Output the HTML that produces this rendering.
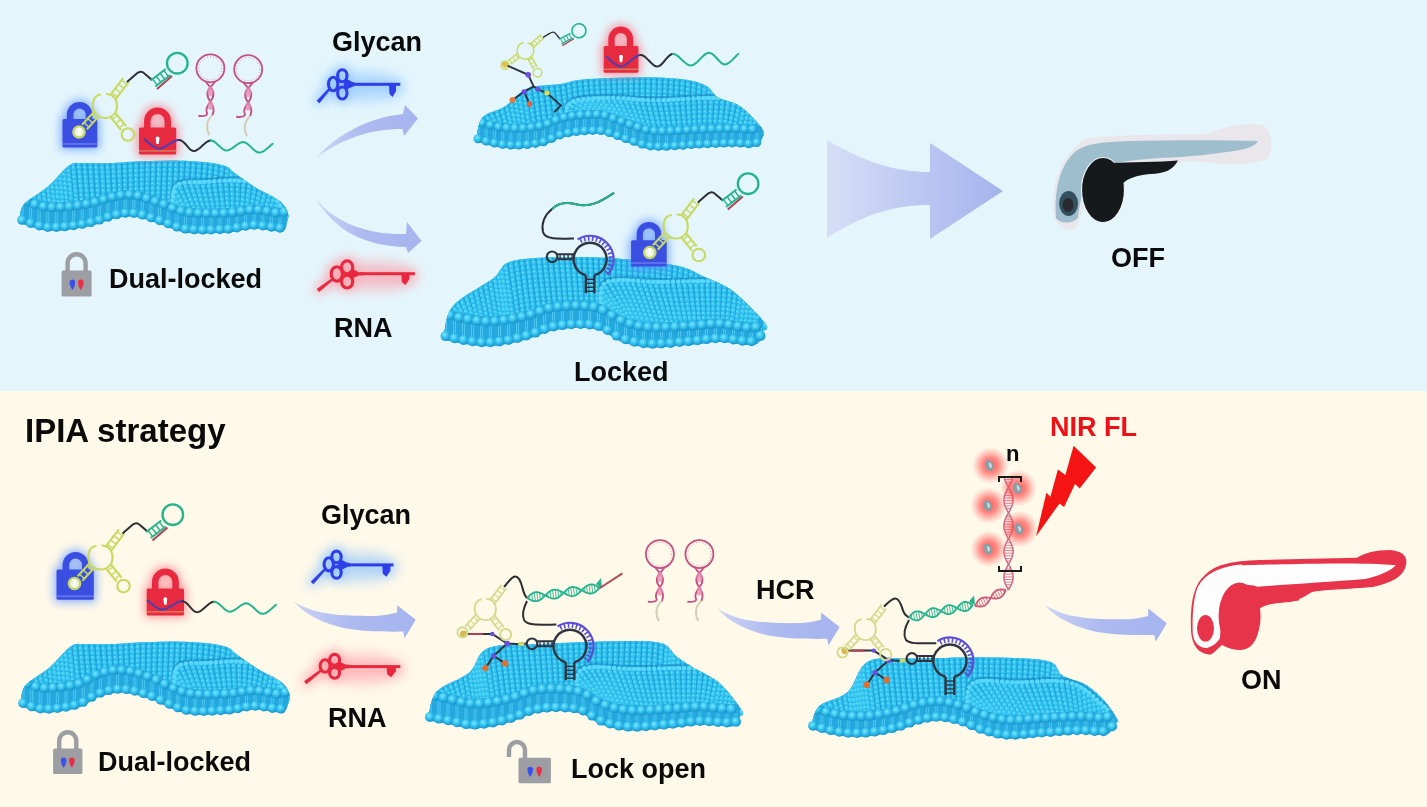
<!DOCTYPE html>
<html><head><meta charset="utf-8">
<style>
html,body{margin:0;padding:0;}
body{width:1427px;height:807px;overflow:hidden;position:relative;font-family:"Liberation Sans",sans-serif;background:#fef8ea;}
#top{position:absolute;left:0;top:0;width:1427px;height:391px;background:#e4f6fc;}
#bot{position:absolute;left:0;top:391px;width:1427px;height:416px;background:#fef9e9;}
.t{position:absolute;font-weight:bold;font-size:27px;line-height:1;color:#0a0a0a;white-space:nowrap;}
svg{position:absolute;left:0;top:0;}
</style></head><body>
<div id="wrap" style="position:absolute;left:0;top:0;width:1427px;height:807px;filter:blur(0.4px);">
<div id="top"></div><div id="bot"></div>
<svg width="1427" height="807" viewBox="0 0 1427 807">
<defs><radialGradient id="sph" cx="0.4" cy="0.35" r="0.7"><stop offset="0" stop-color="#7ae6fc"/><stop offset="0.5" stop-color="#30c0ee"/><stop offset="1" stop-color="#168ac2"/></radialGradient>
<linearGradient id="bigArrow" x1="0" x2="1" y1="0" y2="0"><stop offset="0" stop-color="#d6def6"/><stop offset="1" stop-color="#a4b3ee"/></linearGradient>
<linearGradient id="arrG" x1="0" x2="1" y1="0" y2="0"><stop offset="0" stop-color="#cdd5f4"/><stop offset="0.45" stop-color="#adbaf0"/><stop offset="1" stop-color="#a6b4f0"/></linearGradient>
<filter id="blurB" x="-60%" y="-60%" width="220%" height="220%"><feGaussianBlur stdDeviation="5"/></filter>
<filter id="blurK" x="-60%" y="-80%" width="220%" height="260%"><feGaussianBlur stdDeviation="6"/></filter>
<filter id="blurS" x="-50%" y="-50%" width="200%" height="200%"><feGaussianBlur stdDeviation="2.5"/></filter>
<radialGradient id="redGlow"><stop offset="0" stop-color="#ff2a2a" stop-opacity="0.8"/><stop offset="0.45" stop-color="#ff4545" stop-opacity="0.6"/><stop offset="1" stop-color="#ff7070" stop-opacity="0"/></radialGradient>
</defs>
<clipPath id="m1c"><path d="M20.0,214.0 L20.3,213.2 L20.5,212.2 L20.8,210.9 L21.2,209.5 L21.7,208.0 L22.5,206.4 L23.7,204.7 L25.2,203.0 L27.3,201.2 L29.8,199.3 L32.7,197.3 L35.8,195.2 L39.1,193.1 L42.3,190.8 L45.5,188.5 L48.4,186.2 L51.2,183.6 L54.0,180.8 L56.7,177.8 L59.4,174.8 L62.1,171.9 L64.7,169.2 L67.1,166.9 L69.4,165.2 L71.5,164.0 L73.2,163.3 L74.9,162.9 L76.4,162.8 L78.0,162.9 L79.7,163.0 L81.7,163.1 L84.0,163.1 L86.6,163.0 L89.3,163.0 L92.2,163.0 L95.2,163.1 L98.4,163.2 L101.8,163.2 L105.5,163.2 L109.3,163.1 L113.4,162.9 L117.8,162.7 L122.4,162.4 L127.2,162.0 L132.1,161.7 L137.1,161.4 L142.2,161.2 L147.2,161.0 L152.3,160.9 L157.6,160.8 L163.0,160.7 L168.5,160.6 L173.9,160.6 L179.2,160.7 L184.3,160.8 L189.2,161.0 L193.9,161.3 L198.7,161.7 L203.3,162.1 L207.8,162.6 L212.1,163.1 L216.1,163.8 L219.7,164.4 L222.8,165.2 L225.3,166.0 L227.2,166.9 L228.7,167.8 L229.9,168.7 L231.0,169.8 L232.1,171.0 L233.6,172.2 L235.4,173.6 L237.6,175.1 L240.0,176.9 L242.6,178.7 L245.3,180.7 L248.1,182.7 L250.9,184.6 L253.7,186.5 L256.5,188.3 L259.4,190.0 L262.5,191.6 L265.7,193.2 L268.8,194.8 L271.9,196.3 L274.8,197.9 L277.4,199.4 L279.6,201.0 L281.4,202.6 L283.0,204.3 L284.2,205.9 L285.3,207.6 L286.2,209.2 L286.9,210.7 L287.5,212.2 L288.0,213.6 L288.3,214.9 L288.4,216.2 L288.3,217.4 L288.0,218.6 L287.7,219.6 L287.4,220.6 L287.1,221.4 L287.0,222.0 L287.0,222.0 L286.8,222.8 L286.6,224.0 L286.5,225.3 L286.2,226.8 L285.8,228.3 L285.0,229.6 L283.8,230.7 L282.0,231.3 L279.6,231.5 L276.6,231.3 L273.2,230.8 L269.4,230.2 L265.5,229.6 L261.5,229.0 L257.7,228.6 L254.0,228.5 L250.6,228.7 L247.3,229.2 L244.0,229.8 L240.8,230.4 L237.4,231.1 L233.8,231.8 L230.1,232.3 L226.0,232.7 L221.5,232.9 L216.5,233.1 L211.2,233.3 L205.8,233.4 L200.4,233.3 L195.2,233.2 L190.4,232.9 L186.0,232.5 L182.2,231.9 L178.7,231.0 L175.5,230.0 L172.6,228.9 L169.7,227.7 L166.9,226.6 L164.0,225.4 L161.0,224.4 L157.8,223.4 L154.6,222.3 L151.4,221.2 L148.1,220.1 L144.9,219.1 L141.8,218.2 L138.8,217.5 L136.0,217.0 L133.4,216.7 L131.1,216.5 L129.0,216.4 L126.9,216.5 L124.8,216.7 L122.5,217.0 L119.9,217.4 L117.0,218.0 L113.7,218.8 L110.2,219.8 L106.4,221.0 L102.5,222.3 L98.4,223.7 L94.3,224.9 L90.0,226.1 L85.7,227.0 L81.2,227.8 L76.5,228.6 L71.6,229.3 L66.6,229.9 L61.7,230.4 L56.9,230.7 L52.3,230.8 L48.0,230.7 L43.8,230.2 L39.7,229.4 L35.6,228.3 L31.6,227.1 L28.0,225.8 L24.8,224.7 L22.1,223.7 L20.0,223.0Z"/></clipPath>
<path d="M20.0,214.0 L20.3,213.2 L20.5,212.2 L20.8,210.9 L21.2,209.5 L21.7,208.0 L22.5,206.4 L23.7,204.7 L25.2,203.0 L27.3,201.2 L29.8,199.3 L32.7,197.3 L35.8,195.2 L39.1,193.1 L42.3,190.8 L45.5,188.5 L48.4,186.2 L51.2,183.6 L54.0,180.8 L56.7,177.8 L59.4,174.8 L62.1,171.9 L64.7,169.2 L67.1,166.9 L69.4,165.2 L71.5,164.0 L73.2,163.3 L74.9,162.9 L76.4,162.8 L78.0,162.9 L79.7,163.0 L81.7,163.1 L84.0,163.1 L86.6,163.0 L89.3,163.0 L92.2,163.0 L95.2,163.1 L98.4,163.2 L101.8,163.2 L105.5,163.2 L109.3,163.1 L113.4,162.9 L117.8,162.7 L122.4,162.4 L127.2,162.0 L132.1,161.7 L137.1,161.4 L142.2,161.2 L147.2,161.0 L152.3,160.9 L157.6,160.8 L163.0,160.7 L168.5,160.6 L173.9,160.6 L179.2,160.7 L184.3,160.8 L189.2,161.0 L193.9,161.3 L198.7,161.7 L203.3,162.1 L207.8,162.6 L212.1,163.1 L216.1,163.8 L219.7,164.4 L222.8,165.2 L225.3,166.0 L227.2,166.9 L228.7,167.8 L229.9,168.7 L231.0,169.8 L232.1,171.0 L233.6,172.2 L235.4,173.6 L237.6,175.1 L240.0,176.9 L242.6,178.7 L245.3,180.7 L248.1,182.7 L250.9,184.6 L253.7,186.5 L256.5,188.3 L259.4,190.0 L262.5,191.6 L265.7,193.2 L268.8,194.8 L271.9,196.3 L274.8,197.9 L277.4,199.4 L279.6,201.0 L281.4,202.6 L283.0,204.3 L284.2,205.9 L285.3,207.6 L286.2,209.2 L286.9,210.7 L287.5,212.2 L288.0,213.6 L288.3,214.9 L288.4,216.2 L288.3,217.4 L288.0,218.6 L287.7,219.6 L287.4,220.6 L287.1,221.4 L287.0,222.0 L287.0,222.0 L286.8,222.8 L286.6,224.0 L286.5,225.3 L286.2,226.8 L285.8,228.3 L285.0,229.6 L283.8,230.7 L282.0,231.3 L279.6,231.5 L276.6,231.3 L273.2,230.8 L269.4,230.2 L265.5,229.6 L261.5,229.0 L257.7,228.6 L254.0,228.5 L250.6,228.7 L247.3,229.2 L244.0,229.8 L240.8,230.4 L237.4,231.1 L233.8,231.8 L230.1,232.3 L226.0,232.7 L221.5,232.9 L216.5,233.1 L211.2,233.3 L205.8,233.4 L200.4,233.3 L195.2,233.2 L190.4,232.9 L186.0,232.5 L182.2,231.9 L178.7,231.0 L175.5,230.0 L172.6,228.9 L169.7,227.7 L166.9,226.6 L164.0,225.4 L161.0,224.4 L157.8,223.4 L154.6,222.3 L151.4,221.2 L148.1,220.1 L144.9,219.1 L141.8,218.2 L138.8,217.5 L136.0,217.0 L133.4,216.7 L131.1,216.5 L129.0,216.4 L126.9,216.5 L124.8,216.7 L122.5,217.0 L119.9,217.4 L117.0,218.0 L113.7,218.8 L110.2,219.8 L106.4,221.0 L102.5,222.3 L98.4,223.7 L94.3,224.9 L90.0,226.1 L85.7,227.0 L81.2,227.8 L76.5,228.6 L71.6,229.3 L66.6,229.9 L61.7,230.4 L56.9,230.7 L52.3,230.8 L48.0,230.7 L43.8,230.2 L39.7,229.4 L35.6,228.3 L31.6,227.1 L28.0,225.8 L24.8,224.7 L22.1,223.7 L20.0,223.0Z" fill="#20a4dc"/>
<g clip-path="url(#m1c)">
<path d="M20.0,214.0L20.0,196.0M21.5,208.5L22.7,197.0M24.6,203.6L26.4,198.4M29.0,199.9L30.9,200.1M33.7,196.6L35.7,201.7M38.5,193.4L40.5,203.0M43.2,190.2L45.3,204.0M47.8,186.7L50.0,204.4M52.0,182.8L54.4,204.5M56.0,178.6L58.7,204.5M59.9,174.3L62.9,204.2M63.8,170.1L67.1,203.9M68.0,166.2L71.6,203.4M73.0,163.4L76.5,202.8M78.7,163.0L81.9,202.1M84.4,163.1L87.4,201.2M90.2,163.0L92.8,200.0M95.9,163.1L98.2,198.5M101.7,163.2L103.7,196.8M107.4,163.1L109.1,195.2M113.2,162.9L114.6,193.7M118.9,162.6L120.0,192.7M124.7,162.2L125.4,192.0M130.4,161.8L130.9,192.0M136.2,161.5L136.3,192.7M141.9,161.2L141.7,194.0M147.7,161.0L147.2,195.7M153.4,160.8L152.6,197.6M159.2,160.7L158.0,199.6M164.9,160.6L163.5,201.5M170.7,160.6L168.9,203.7M176.4,160.6L174.4,206.0M182.2,160.7L179.8,207.9M188.0,160.9L185.2,209.1M193.7,161.3L190.7,209.8M199.4,161.7L196.1,210.2M205.2,162.3L201.5,210.4M210.9,163.0L206.9,210.6M216.6,163.9L212.3,210.6M222.2,165.1L217.7,210.5M227.6,167.1L222.9,210.4M231.9,170.8L227.4,210.2M236.4,174.3L232.1,209.8M241.1,177.7L236.8,209.1M245.8,181.0L241.5,208.3M250.5,184.4L246.3,207.4M255.3,187.5L251.1,206.9M260.3,190.4L256.0,206.9M265.4,193.1L261.1,207.4M270.5,195.6L266.1,208.2M275.6,198.4L271.1,209.1M280.3,201.6L275.9,209.9M284.2,205.9L280.1,210.3M287.0,210.9L283.6,209.6M288.4,216.4L286.2,206.0M287.0,222.0L287.0,201.0" stroke="#25b6e8" stroke-width="3.8" fill="none"/>
<path d="M20.0,214.0L20.0,196.0M21.5,208.5L22.7,197.0M24.6,203.6L26.4,198.4M29.0,199.9L30.9,200.1M33.7,196.6L35.7,201.7M38.5,193.4L40.5,203.0M43.2,190.2L45.3,204.0M47.8,186.7L50.0,204.4M52.0,182.8L54.4,204.5M56.0,178.6L58.7,204.5M59.9,174.3L62.9,204.2M63.8,170.1L67.1,203.9M68.0,166.2L71.6,203.4M73.0,163.4L76.5,202.8M78.7,163.0L81.9,202.1M84.4,163.1L87.4,201.2M90.2,163.0L92.8,200.0M95.9,163.1L98.2,198.5M101.7,163.2L103.7,196.8M107.4,163.1L109.1,195.2M113.2,162.9L114.6,193.7M118.9,162.6L120.0,192.7M124.7,162.2L125.4,192.0M130.4,161.8L130.9,192.0M136.2,161.5L136.3,192.7M141.9,161.2L141.7,194.0M147.7,161.0L147.2,195.7M153.4,160.8L152.6,197.6M159.2,160.7L158.0,199.6M164.9,160.6L163.5,201.5M170.7,160.6L168.9,203.7M176.4,160.6L174.4,206.0M182.2,160.7L179.8,207.9M188.0,160.9L185.2,209.1M193.7,161.3L190.7,209.8M199.4,161.7L196.1,210.2M205.2,162.3L201.5,210.4M210.9,163.0L206.9,210.6M216.6,163.9L212.3,210.6M222.2,165.1L217.7,210.5M227.6,167.1L222.9,210.4M231.9,170.8L227.4,210.2M236.4,174.3L232.1,209.8M241.1,177.7L236.8,209.1M245.8,181.0L241.5,208.3M250.5,184.4L246.3,207.4M255.3,187.5L251.1,206.9M260.3,190.4L256.0,206.9M265.4,193.1L261.1,207.4M270.5,195.6L266.1,208.2M275.6,198.4L271.1,209.1M280.3,201.6L275.9,209.9M284.2,205.9L280.1,210.3M287.0,210.9L283.6,209.6M288.4,216.4L286.2,206.0M287.0,222.0L287.0,201.0" stroke="#38c8f2" stroke-width="4.3" stroke-linecap="round" stroke-dasharray="0.01 4.6" fill="none"/>
<path d="M19.3,213.3L19.3,195.3M20.8,207.8L22.0,196.3M23.9,202.9L25.7,197.7M28.3,199.2L30.2,199.4M33.0,195.9L35.0,201.0M37.8,192.7L39.8,202.3M42.5,189.5L44.6,203.3M47.1,186.0L49.3,203.7M51.3,182.1L53.7,203.8M55.3,177.9L58.0,203.8M59.2,173.6L62.2,203.5M63.1,169.4L66.4,203.2M67.3,165.5L70.9,202.7M72.3,162.7L75.8,202.1M78.0,162.3L81.2,201.4M83.7,162.4L86.7,200.5M89.5,162.3L92.1,199.3M95.2,162.4L97.5,197.8M101.0,162.5L103.0,196.1M106.7,162.4L108.4,194.5M112.5,162.2L113.9,193.0M118.2,161.9L119.3,192.0M124.0,161.5L124.7,191.3M129.7,161.1L130.2,191.3M135.5,160.8L135.6,192.0M141.2,160.5L141.0,193.3M147.0,160.3L146.5,195.0M152.7,160.1L151.9,196.9M158.5,160.0L157.3,198.9M164.2,159.9L162.8,200.8M170.0,159.9L168.2,203.0M175.7,159.9L173.7,205.3M181.5,160.0L179.1,207.2M187.3,160.2L184.5,208.4M193.0,160.6L190.0,209.1M198.7,161.0L195.4,209.5M204.5,161.6L200.8,209.7M210.2,162.3L206.2,209.9M215.9,163.2L211.6,209.9M221.5,164.4L217.0,209.8M226.9,166.4L222.2,209.7M231.2,170.1L226.7,209.5M235.7,173.6L231.4,209.1M240.4,177.0L236.1,208.4M245.1,180.3L240.8,207.6M249.8,183.7L245.6,206.7M254.6,186.8L250.4,206.2M259.6,189.7L255.3,206.2M264.7,192.4L260.4,206.7M269.8,194.9L265.4,207.5M274.9,197.7L270.4,208.4M279.6,200.9L275.2,209.2M283.5,205.2L279.4,209.6M286.3,210.2L282.9,208.9M287.7,215.7L285.5,205.3M286.3,221.3L286.3,200.3" stroke="#72e0fb" stroke-width="1.9" stroke-linecap="round" stroke-dasharray="0.01 4.6" fill="none" opacity="0.8"/>
<path d="M172.0,206.0 L172.2,204.3 L172.4,201.8 L172.5,198.9 L172.8,195.7 L173.2,192.5 L174.0,189.5 L175.2,186.9 L177.0,185.0 L179.4,183.8 L182.2,182.9 L185.5,182.5 L189.1,182.3 L193.0,182.2 L197.0,182.2 L201.0,182.2 L205.0,182.0 L209.1,181.7 L213.4,181.4 L217.9,181.0 L222.5,180.7 L227.1,180.5 L231.6,180.4 L235.9,180.5 L240.0,180.8 L243.9,181.2 L247.7,181.7 L251.4,182.3 L255.0,183.1 L258.5,184.1 L261.8,185.3 L265.0,187.0 L268.0,189.0 L270.9,191.7 L273.7,195.3 L276.4,199.3 L278.9,203.5 L281.3,207.7 L283.3,211.5 L285.0,214.7 L286.4,217.0" stroke="#1680bd" stroke-width="5" fill="none" opacity="0.55" transform="translate(0,-1.5)"/>
<path d="M172.0,206.0 L172.2,204.3 L172.4,201.8 L172.5,198.9 L172.8,195.7 L173.2,192.5 L174.0,189.5 L175.2,186.9 L177.0,185.0 L179.4,183.8 L182.2,182.9 L185.5,182.5 L189.1,182.3 L193.0,182.2 L197.0,182.2 L201.0,182.2 L205.0,182.0 L209.1,181.7 L213.4,181.4 L217.9,181.0 L222.5,180.7 L227.1,180.5 L231.6,180.4 L235.9,180.5 L240.0,180.8 L243.9,181.2 L247.7,181.7 L251.4,182.3 L255.0,183.1 L258.5,184.1 L261.8,185.3 L265.0,187.0 L268.0,189.0 L270.9,191.7 L273.7,195.3 L276.4,199.3 L278.9,203.5 L281.3,207.7 L283.3,211.5 L285.0,214.7 L286.4,217.0 L286.4,205.9 L282.5,211.0 L278.5,211.2 L274.6,210.7 L270.6,210.0 L266.7,209.3 L262.7,208.6 L258.8,208.1 L254.8,207.8 L250.9,207.9 L247.0,208.3 L243.0,209.0 L239.1,209.7 L235.1,210.4 L231.2,210.9 L227.2,211.2 L223.3,211.4 L219.3,211.5 L215.4,211.6 L211.4,211.6 L207.5,211.6 L203.6,211.5 L199.6,211.4 L195.7,211.2 L191.7,210.9 L187.8,210.4 L183.8,209.8 L179.9,208.9 L175.9,207.6 L172.0,206.1Z" fill="#20a4dc"/>
<path d="M172.0,206.0L172.0,206.1M172.4,200.1L176.4,207.8M173.0,194.1L180.9,209.1M174.5,188.4L185.6,210.1M178.5,184.2L190.2,210.7M184.2,182.7L194.9,211.1M190.1,182.2L199.7,211.4M196.1,182.2L204.4,211.5M202.1,182.1L209.1,211.6M208.0,181.8L213.8,211.6M213.9,181.3L218.6,211.5M219.9,180.9L223.3,211.4M225.8,180.5L228.0,211.2M231.8,180.4L232.7,210.7M237.7,180.6L237.4,210.0M243.7,181.2L242.0,209.2M249.6,182.0L246.7,208.4M255.4,183.2L251.4,207.9M261.1,185.0L256.1,207.9M266.3,187.8L260.8,208.4M270.8,191.7L265.5,209.1M274.5,196.4L270.1,209.9M277.7,201.4L274.8,210.8M280.7,206.6L279.5,211.2M283.5,211.8L283.5,209.7M286.4,217.0L286.4,205.9" stroke="#25b6e8" stroke-width="3.8" fill="none"/>
<path d="M172.0,206.0L172.0,206.1M172.4,200.1L176.4,207.8M173.0,194.1L180.9,209.1M174.5,188.4L185.6,210.1M178.5,184.2L190.2,210.7M184.2,182.7L194.9,211.1M190.1,182.2L199.7,211.4M196.1,182.2L204.4,211.5M202.1,182.1L209.1,211.6M208.0,181.8L213.8,211.6M213.9,181.3L218.6,211.5M219.9,180.9L223.3,211.4M225.8,180.5L228.0,211.2M231.8,180.4L232.7,210.7M237.7,180.6L237.4,210.0M243.7,181.2L242.0,209.2M249.6,182.0L246.7,208.4M255.4,183.2L251.4,207.9M261.1,185.0L256.1,207.9M266.3,187.8L260.8,208.4M270.8,191.7L265.5,209.1M274.5,196.4L270.1,209.9M277.7,201.4L274.8,210.8M280.7,206.6L279.5,211.2M283.5,211.8L283.5,209.7M286.4,217.0L286.4,205.9" stroke="#38c8f2" stroke-width="4.3" stroke-linecap="round" stroke-dasharray="0.01 4.6" fill="none"/>
<path d="M171.3,205.3L171.3,205.4M171.7,199.4L175.7,207.1M172.3,193.4L180.2,208.4M173.8,187.7L184.9,209.4M177.8,183.5L189.5,210.0M183.5,182.0L194.2,210.4M189.4,181.5L199.0,210.7M195.4,181.5L203.7,210.8M201.4,181.4L208.4,210.9M207.3,181.1L213.1,210.9M213.2,180.6L217.9,210.8M219.2,180.2L222.6,210.7M225.1,179.8L227.3,210.5M231.1,179.7L232.0,210.0M237.0,179.9L236.7,209.3M243.0,180.5L241.3,208.5M248.9,181.3L246.0,207.7M254.7,182.5L250.7,207.2M260.4,184.3L255.4,207.2M265.6,187.1L260.1,207.7M270.1,191.0L264.8,208.4M273.8,195.7L269.4,209.2M277.0,200.7L274.1,210.1M280.0,205.9L278.8,210.5M282.8,211.1L282.8,209.0M285.7,216.3L285.7,205.2" stroke="#72e0fb" stroke-width="1.9" stroke-linecap="round" stroke-dasharray="0.01 4.6" fill="none" opacity="0.8"/>
<path d="M172.0,206.0 L172.2,204.3 L172.4,201.8 L172.5,198.9 L172.8,195.7 L173.2,192.5 L174.0,189.5 L175.2,186.9 L177.0,185.0 L179.4,183.8 L182.2,182.9 L185.5,182.5 L189.1,182.3 L193.0,182.2 L197.0,182.2 L201.0,182.2 L205.0,182.0 L209.1,181.7 L213.4,181.4 L217.9,181.0 L222.5,180.7 L227.1,180.5 L231.6,180.4 L235.9,180.5 L240.0,180.8 L243.9,181.2 L247.7,181.7 L251.4,182.3 L255.0,183.1 L258.5,184.1 L261.8,185.3 L265.0,187.0 L268.0,189.0 L270.9,191.7 L273.7,195.3 L276.4,199.3 L278.9,203.5 L281.3,207.7 L283.3,211.5 L285.0,214.7 L286.4,217.0" stroke="#58d8fa" stroke-width="4.4" stroke-linecap="round" stroke-dasharray="0.01 5" fill="none"/>
<path d="M20.0,194.0 L24.5,195.7 L29.1,197.4 L33.6,199.0 L38.1,200.4 L42.6,201.5 L47.2,202.2 L51.7,202.5 L56.2,202.5 L60.7,202.4 L65.3,202.0 L69.8,201.6 L74.3,201.1 L78.8,200.5 L83.4,199.8 L87.9,199.1 L92.4,198.1 L96.9,196.9 L101.5,195.5 L106.0,194.1 L110.5,192.8 L115.0,191.6 L119.6,190.7 L124.1,190.1 L128.6,189.9 L133.1,190.2 L137.7,190.9 L142.2,192.1 L146.7,193.5 L151.2,195.1 L155.8,196.7 L160.3,198.3 L164.8,200.0 L169.3,201.9 L173.9,203.8 L178.4,205.5 L182.9,206.6 L187.4,207.4 L192.0,207.9 L196.5,208.2 L201.0,208.4 L205.5,208.5 L210.1,208.6 L214.6,208.6 L219.1,208.5 L223.6,208.4 L228.2,208.2 L232.7,207.7 L237.2,207.1 L241.7,206.2 L246.3,205.4 L250.8,204.9 L255.3,204.8 L259.8,205.2 L264.4,205.9 L268.9,206.7 L273.4,207.6 L277.9,208.2 L282.5,208.0 L287.0,199.0 L287.0,222.0 L282.5,231.1 L277.9,231.4 L273.4,230.9 L268.9,230.1 L264.4,229.4 L259.8,228.8 L255.3,228.5 L250.8,228.7 L246.3,229.3 L241.7,230.2 L237.2,231.2 L232.7,232.0 L228.2,232.5 L223.6,232.8 L219.1,233.0 L214.6,233.2 L210.1,233.3 L205.5,233.4 L201.0,233.3 L196.5,233.2 L192.0,233.0 L187.4,232.6 L182.9,232.0 L178.4,230.9 L173.9,229.4 L169.3,227.6 L164.8,225.7 L160.3,224.2 L155.8,222.7 L151.2,221.2 L146.7,219.7 L142.2,218.3 L137.7,217.3 L133.1,216.6 L128.6,216.4 L124.1,216.8 L119.6,217.5 L115.0,218.5 L110.5,219.7 L106.0,221.2 L101.5,222.7 L96.9,224.1 L92.4,225.4 L87.9,226.5 L83.4,227.4 L78.8,228.2 L74.3,228.9 L69.8,229.5 L65.3,230.0 L60.7,230.4 L56.2,230.7 L51.7,230.8 L47.2,230.6 L42.6,230.0 L38.1,229.0 L33.6,227.7 L29.1,226.2 L24.5,224.6 L20.0,223.0Z" fill="#24a8de"/>
<path d="M21.0,204.3L21.0,215.0M23.0,204.3L23.0,215.0M29.6,207.6L29.6,218.1M31.6,207.6L31.6,218.1M38.2,210.3L38.2,220.7M40.2,210.3L40.2,220.7M46.8,211.9L46.8,222.1M48.8,211.9L48.8,222.1M55.4,212.1L55.4,222.1M57.4,212.1L57.4,222.1M64.0,211.7L64.0,221.5M66.0,211.7L66.0,221.5M72.6,210.8L72.6,220.4M74.6,210.8L74.6,220.4M81.2,209.6L81.2,219.0M83.2,209.6L83.2,219.0M89.8,208.1L89.8,217.3M91.8,208.1L91.8,217.3M98.4,205.7L98.4,214.8M100.4,205.7L100.4,214.8M107.0,203.1L107.0,211.9M109.0,203.1L109.0,211.9M115.6,200.9L115.6,209.5M117.6,200.9L117.6,209.5M124.2,199.6L124.2,208.0M126.2,199.6L126.2,208.0M132.8,199.9L132.8,208.1M134.8,199.9L134.8,208.1M141.4,201.8L141.4,209.8M143.4,201.8L143.4,209.8M150.0,204.6L150.0,212.5M152.0,204.6L152.0,212.5M158.6,207.7L158.6,215.4M160.6,207.7L160.6,215.4M167.2,211.0L167.2,218.5M169.2,211.0L169.2,218.5M175.8,214.5L175.8,221.8M177.8,214.5L177.8,221.8M184.4,216.7L184.4,223.8M186.4,216.7L186.4,223.8M193.0,217.6L193.0,224.5M195.0,217.6L195.0,224.5M201.6,218.1L201.6,224.8M203.6,218.1L203.6,224.8M210.2,218.2L210.2,224.7M212.2,218.2L212.2,224.7M218.8,218.1L218.8,224.4M220.8,218.1L220.8,224.4M227.4,217.8L227.4,223.9M229.4,217.8L229.4,223.9M236.0,216.7L236.0,222.6M238.0,216.7L238.0,222.6M244.6,215.1L244.6,220.9M246.6,215.1L246.6,220.9M253.2,214.4L253.2,219.9M255.2,214.4L255.2,219.9M261.8,215.2L261.8,220.6M263.8,215.2L263.8,220.6M270.4,216.8L270.4,221.9M272.4,216.8L272.4,221.9M279.0,217.9L279.0,222.9M281.0,217.9L281.0,222.9" stroke="#4cc8f2" stroke-width="1" fill="none"/>
<circle cx="26.3" cy="201.1" r="4.8" fill="url(#sph)"/>
<circle cx="34.9" cy="204.2" r="4.8" fill="url(#sph)"/>
<circle cx="43.5" cy="206.5" r="4.8" fill="url(#sph)"/>
<circle cx="52.1" cy="207.3" r="4.8" fill="url(#sph)"/>
<circle cx="60.7" cy="207.2" r="4.8" fill="url(#sph)"/>
<circle cx="69.3" cy="206.5" r="4.8" fill="url(#sph)"/>
<circle cx="77.9" cy="205.4" r="4.8" fill="url(#sph)"/>
<circle cx="86.5" cy="204.1" r="4.8" fill="url(#sph)"/>
<circle cx="95.1" cy="202.2" r="4.8" fill="url(#sph)"/>
<circle cx="103.7" cy="199.6" r="4.8" fill="url(#sph)"/>
<circle cx="112.3" cy="197.1" r="4.8" fill="url(#sph)"/>
<circle cx="120.9" cy="195.3" r="4.8" fill="url(#sph)"/>
<circle cx="129.5" cy="194.7" r="4.8" fill="url(#sph)"/>
<circle cx="138.1" cy="195.8" r="4.8" fill="url(#sph)"/>
<circle cx="146.7" cy="198.3" r="4.8" fill="url(#sph)"/>
<circle cx="155.3" cy="201.4" r="4.8" fill="url(#sph)"/>
<circle cx="163.9" cy="204.4" r="4.8" fill="url(#sph)"/>
<circle cx="172.5" cy="208.1" r="4.8" fill="url(#sph)"/>
<circle cx="181.1" cy="211.0" r="4.8" fill="url(#sph)"/>
<circle cx="189.7" cy="212.5" r="4.8" fill="url(#sph)"/>
<circle cx="198.3" cy="213.1" r="4.8" fill="url(#sph)"/>
<circle cx="206.9" cy="213.4" r="4.8" fill="url(#sph)"/>
<circle cx="215.5" cy="213.4" r="4.8" fill="url(#sph)"/>
<circle cx="224.1" cy="213.2" r="4.8" fill="url(#sph)"/>
<circle cx="232.7" cy="212.5" r="4.8" fill="url(#sph)"/>
<circle cx="241.3" cy="211.1" r="4.8" fill="url(#sph)"/>
<circle cx="249.9" cy="209.8" r="4.8" fill="url(#sph)"/>
<circle cx="258.5" cy="209.8" r="4.8" fill="url(#sph)"/>
<circle cx="267.1" cy="211.2" r="4.8" fill="url(#sph)"/>
<circle cx="275.7" cy="212.7" r="4.8" fill="url(#sph)"/>
<circle cx="284.3" cy="211.9" r="4.8" fill="url(#sph)"/>
</g>
<circle cx="22.0" cy="220.0" r="4.8" fill="url(#sph)"/>
<circle cx="30.6" cy="223.1" r="4.8" fill="url(#sph)"/>
<circle cx="39.2" cy="225.7" r="4.8" fill="url(#sph)"/>
<circle cx="47.8" cy="227.1" r="4.8" fill="url(#sph)"/>
<circle cx="56.4" cy="227.1" r="4.8" fill="url(#sph)"/>
<circle cx="65.0" cy="226.5" r="4.8" fill="url(#sph)"/>
<circle cx="73.6" cy="225.4" r="4.8" fill="url(#sph)"/>
<circle cx="82.2" cy="224.0" r="4.8" fill="url(#sph)"/>
<circle cx="90.8" cy="222.3" r="4.8" fill="url(#sph)"/>
<circle cx="99.4" cy="219.8" r="4.8" fill="url(#sph)"/>
<circle cx="108.0" cy="216.9" r="4.8" fill="url(#sph)"/>
<circle cx="116.6" cy="214.5" r="4.8" fill="url(#sph)"/>
<circle cx="125.2" cy="213.0" r="4.8" fill="url(#sph)"/>
<circle cx="133.8" cy="213.1" r="4.8" fill="url(#sph)"/>
<circle cx="142.4" cy="214.8" r="4.8" fill="url(#sph)"/>
<circle cx="151.0" cy="217.5" r="4.8" fill="url(#sph)"/>
<circle cx="159.6" cy="220.4" r="4.8" fill="url(#sph)"/>
<circle cx="168.2" cy="223.5" r="4.8" fill="url(#sph)"/>
<circle cx="176.8" cy="226.8" r="4.8" fill="url(#sph)"/>
<circle cx="185.4" cy="228.8" r="4.8" fill="url(#sph)"/>
<circle cx="194.0" cy="229.5" r="4.8" fill="url(#sph)"/>
<circle cx="202.6" cy="229.8" r="4.8" fill="url(#sph)"/>
<circle cx="211.2" cy="229.7" r="4.8" fill="url(#sph)"/>
<circle cx="219.8" cy="229.4" r="4.8" fill="url(#sph)"/>
<circle cx="228.4" cy="228.9" r="4.8" fill="url(#sph)"/>
<circle cx="237.0" cy="227.6" r="4.8" fill="url(#sph)"/>
<circle cx="245.6" cy="225.9" r="4.8" fill="url(#sph)"/>
<circle cx="254.2" cy="224.9" r="4.8" fill="url(#sph)"/>
<circle cx="262.8" cy="225.6" r="4.8" fill="url(#sph)"/>
<circle cx="271.4" cy="226.9" r="4.8" fill="url(#sph)"/>
<circle cx="280.0" cy="227.9" r="4.8" fill="url(#sph)"/>
<clipPath id="m2c"><path d="M21.5,695.0 L21.8,694.2 L22.0,693.2 L22.3,691.9 L22.7,690.6 L23.2,689.0 L24.0,687.4 L25.2,685.7 L26.7,684.0 L28.8,682.2 L31.3,680.3 L34.2,678.3 L37.3,676.2 L40.6,674.1 L43.8,671.8 L47.0,669.5 L49.9,667.2 L52.7,664.6 L55.5,661.8 L58.2,658.8 L60.9,655.8 L63.6,652.9 L66.2,650.2 L68.6,647.9 L70.9,646.2 L73.0,645.0 L74.7,644.3 L76.4,643.9 L77.9,643.8 L79.5,643.9 L81.2,644.0 L83.2,644.1 L85.5,644.1 L88.1,644.0 L90.8,644.0 L93.7,644.0 L96.7,644.1 L99.9,644.2 L103.3,644.2 L107.0,644.2 L110.8,644.1 L114.9,643.9 L119.3,643.7 L123.9,643.4 L128.7,643.1 L133.6,642.7 L138.6,642.4 L143.7,642.2 L148.7,642.0 L153.8,641.9 L159.1,641.8 L164.5,641.7 L170.0,641.6 L175.4,641.6 L180.7,641.7 L185.8,641.8 L190.7,642.0 L195.4,642.3 L200.2,642.7 L204.8,643.1 L209.3,643.6 L213.6,644.1 L217.6,644.8 L221.2,645.4 L224.3,646.2 L226.8,647.0 L228.7,647.9 L230.2,648.8 L231.4,649.7 L232.5,650.8 L233.6,652.0 L235.1,653.2 L236.9,654.6 L239.1,656.1 L241.5,657.9 L244.1,659.7 L246.8,661.7 L249.6,663.7 L252.4,665.6 L255.2,667.5 L258.0,669.3 L260.9,671.0 L264.0,672.6 L267.2,674.2 L270.3,675.8 L273.4,677.3 L276.3,678.9 L278.9,680.4 L281.1,682.0 L282.9,683.6 L284.5,685.3 L285.7,686.9 L286.8,688.6 L287.7,690.2 L288.4,691.7 L289.0,693.2 L289.5,694.6 L289.8,695.9 L289.9,697.2 L289.8,698.4 L289.5,699.6 L289.2,700.6 L288.9,701.6 L288.6,702.4 L288.5,703.0 L288.5,703.0 L288.1,703.8 L287.8,705.0 L287.5,706.3 L287.0,707.8 L286.3,709.3 L285.3,710.6 L283.9,711.7 L282.0,712.3 L279.5,712.5 L276.5,712.3 L273.1,711.8 L269.3,711.2 L265.4,710.6 L261.5,710.0 L257.6,709.6 L254.0,709.5 L250.6,709.7 L247.3,710.2 L244.0,710.8 L240.8,711.4 L237.4,712.1 L233.8,712.8 L230.1,713.3 L226.0,713.7 L221.5,714.0 L216.8,714.3 L211.7,714.6 L206.5,714.8 L201.2,714.8 L196.0,714.7 L190.9,714.2 L186.0,713.5 L181.3,712.3 L176.5,710.7 L171.9,708.8 L167.3,706.6 L162.8,704.5 L158.4,702.4 L154.1,700.5 L150.0,699.0 L146.0,697.7 L142.2,696.6 L138.5,695.5 L135.0,694.6 L131.5,693.8 L128.1,693.2 L124.8,692.7 L121.6,692.5 L118.5,692.5 L115.5,692.7 L112.7,693.1 L109.9,693.7 L107.2,694.4 L104.5,695.2 L101.8,696.1 L99.0,697.0 L96.3,698.1 L93.7,699.4 L91.2,700.9 L88.7,702.5 L86.1,704.1 L83.3,705.5 L80.3,706.9 L77.0,708.0 L73.3,709.0 L69.2,709.9 L64.8,710.7 L60.3,711.4 L55.8,712.0 L51.4,712.4 L47.2,712.6 L43.5,712.6 L40.0,712.3 L36.6,711.6 L33.3,710.7 L30.2,709.6 L27.3,708.5 L24.8,707.4 L22.7,706.6 L21.0,706.0Z"/></clipPath>
<path d="M21.5,695.0 L21.8,694.2 L22.0,693.2 L22.3,691.9 L22.7,690.6 L23.2,689.0 L24.0,687.4 L25.2,685.7 L26.7,684.0 L28.8,682.2 L31.3,680.3 L34.2,678.3 L37.3,676.2 L40.6,674.1 L43.8,671.8 L47.0,669.5 L49.9,667.2 L52.7,664.6 L55.5,661.8 L58.2,658.8 L60.9,655.8 L63.6,652.9 L66.2,650.2 L68.6,647.9 L70.9,646.2 L73.0,645.0 L74.7,644.3 L76.4,643.9 L77.9,643.8 L79.5,643.9 L81.2,644.0 L83.2,644.1 L85.5,644.1 L88.1,644.0 L90.8,644.0 L93.7,644.0 L96.7,644.1 L99.9,644.2 L103.3,644.2 L107.0,644.2 L110.8,644.1 L114.9,643.9 L119.3,643.7 L123.9,643.4 L128.7,643.1 L133.6,642.7 L138.6,642.4 L143.7,642.2 L148.7,642.0 L153.8,641.9 L159.1,641.8 L164.5,641.7 L170.0,641.6 L175.4,641.6 L180.7,641.7 L185.8,641.8 L190.7,642.0 L195.4,642.3 L200.2,642.7 L204.8,643.1 L209.3,643.6 L213.6,644.1 L217.6,644.8 L221.2,645.4 L224.3,646.2 L226.8,647.0 L228.7,647.9 L230.2,648.8 L231.4,649.7 L232.5,650.8 L233.6,652.0 L235.1,653.2 L236.9,654.6 L239.1,656.1 L241.5,657.9 L244.1,659.7 L246.8,661.7 L249.6,663.7 L252.4,665.6 L255.2,667.5 L258.0,669.3 L260.9,671.0 L264.0,672.6 L267.2,674.2 L270.3,675.8 L273.4,677.3 L276.3,678.9 L278.9,680.4 L281.1,682.0 L282.9,683.6 L284.5,685.3 L285.7,686.9 L286.8,688.6 L287.7,690.2 L288.4,691.7 L289.0,693.2 L289.5,694.6 L289.8,695.9 L289.9,697.2 L289.8,698.4 L289.5,699.6 L289.2,700.6 L288.9,701.6 L288.6,702.4 L288.5,703.0 L288.5,703.0 L288.1,703.8 L287.8,705.0 L287.5,706.3 L287.0,707.8 L286.3,709.3 L285.3,710.6 L283.9,711.7 L282.0,712.3 L279.5,712.5 L276.5,712.3 L273.1,711.8 L269.3,711.2 L265.4,710.6 L261.5,710.0 L257.6,709.6 L254.0,709.5 L250.6,709.7 L247.3,710.2 L244.0,710.8 L240.8,711.4 L237.4,712.1 L233.8,712.8 L230.1,713.3 L226.0,713.7 L221.5,714.0 L216.8,714.3 L211.7,714.6 L206.5,714.8 L201.2,714.8 L196.0,714.7 L190.9,714.2 L186.0,713.5 L181.3,712.3 L176.5,710.7 L171.9,708.8 L167.3,706.6 L162.8,704.5 L158.4,702.4 L154.1,700.5 L150.0,699.0 L146.0,697.7 L142.2,696.6 L138.5,695.5 L135.0,694.6 L131.5,693.8 L128.1,693.2 L124.8,692.7 L121.6,692.5 L118.5,692.5 L115.5,692.7 L112.7,693.1 L109.9,693.7 L107.2,694.4 L104.5,695.2 L101.8,696.1 L99.0,697.0 L96.3,698.1 L93.7,699.4 L91.2,700.9 L88.7,702.5 L86.1,704.1 L83.3,705.5 L80.3,706.9 L77.0,708.0 L73.3,709.0 L69.2,709.9 L64.8,710.7 L60.3,711.4 L55.8,712.0 L51.4,712.4 L47.2,712.6 L43.5,712.6 L40.0,712.3 L36.6,711.6 L33.3,710.7 L30.2,709.6 L27.3,708.5 L24.8,707.4 L22.7,706.6 L21.0,706.0Z" fill="#20a4dc"/>
<g clip-path="url(#m2c)">
<path d="M21.5,695.0L21.3,678.1M23.0,689.5L24.0,679.2M26.1,684.6L27.7,680.8M30.5,680.9L32.3,682.6M35.2,677.6L37.0,684.1M40.0,674.4L41.9,685.0M44.7,671.2L46.6,685.3M49.3,667.7L51.3,685.2M53.5,663.8L55.8,684.9M57.5,659.6L60.0,684.5M61.4,655.3L64.3,683.9M65.3,651.1L68.5,683.2M69.5,647.2L73.0,682.4M74.5,644.4L77.9,681.2M80.2,644.0L83.3,679.2M85.9,644.1L88.7,676.2M91.7,644.0L94.2,673.1M97.4,644.1L99.6,670.8M103.2,644.2L105.1,669.2M108.9,644.1L110.5,667.9M114.7,643.9L115.9,667.2M120.4,643.6L121.4,667.1M126.2,643.2L126.8,667.8M131.9,642.8L132.3,668.9M137.7,642.5L137.7,670.3M143.4,642.2L143.1,672.0M149.2,642.0L148.6,673.9M154.9,641.8L154.0,676.0M160.7,641.7L159.5,678.5M166.4,641.6L164.9,681.3M172.2,641.6L170.3,684.0M177.9,641.6L175.8,686.4M183.7,641.7L181.2,688.5M189.5,641.9L186.7,689.9M195.2,642.3L192.1,690.8M200.9,642.7L197.5,691.3M206.7,643.3L203.0,691.6M212.4,644.0L208.4,691.6M218.1,644.9L213.8,691.5M223.7,646.1L219.1,691.3M229.1,648.1L224.3,691.1M233.4,651.8L228.9,690.9M237.9,655.3L233.5,690.4M242.6,658.7L238.3,689.6M247.3,662.0L243.0,688.8M252.0,665.4L247.8,688.0M256.8,668.5L252.6,687.7M261.8,671.4L257.5,687.8M266.9,674.1L262.5,688.5M272.0,676.6L267.6,689.4M277.1,679.4L272.6,690.3M281.8,682.6L277.4,691.0M285.7,686.9L281.6,691.1M288.5,691.9L285.1,689.7M289.9,697.4L287.7,684.5M288.5,703.0L288.5,682.0" stroke="#25b6e8" stroke-width="3.8" fill="none"/>
<path d="M21.5,695.0L21.3,678.1M23.0,689.5L24.0,679.2M26.1,684.6L27.7,680.8M30.5,680.9L32.3,682.6M35.2,677.6L37.0,684.1M40.0,674.4L41.9,685.0M44.7,671.2L46.6,685.3M49.3,667.7L51.3,685.2M53.5,663.8L55.8,684.9M57.5,659.6L60.0,684.5M61.4,655.3L64.3,683.9M65.3,651.1L68.5,683.2M69.5,647.2L73.0,682.4M74.5,644.4L77.9,681.2M80.2,644.0L83.3,679.2M85.9,644.1L88.7,676.2M91.7,644.0L94.2,673.1M97.4,644.1L99.6,670.8M103.2,644.2L105.1,669.2M108.9,644.1L110.5,667.9M114.7,643.9L115.9,667.2M120.4,643.6L121.4,667.1M126.2,643.2L126.8,667.8M131.9,642.8L132.3,668.9M137.7,642.5L137.7,670.3M143.4,642.2L143.1,672.0M149.2,642.0L148.6,673.9M154.9,641.8L154.0,676.0M160.7,641.7L159.5,678.5M166.4,641.6L164.9,681.3M172.2,641.6L170.3,684.0M177.9,641.6L175.8,686.4M183.7,641.7L181.2,688.5M189.5,641.9L186.7,689.9M195.2,642.3L192.1,690.8M200.9,642.7L197.5,691.3M206.7,643.3L203.0,691.6M212.4,644.0L208.4,691.6M218.1,644.9L213.8,691.5M223.7,646.1L219.1,691.3M229.1,648.1L224.3,691.1M233.4,651.8L228.9,690.9M237.9,655.3L233.5,690.4M242.6,658.7L238.3,689.6M247.3,662.0L243.0,688.8M252.0,665.4L247.8,688.0M256.8,668.5L252.6,687.7M261.8,671.4L257.5,687.8M266.9,674.1L262.5,688.5M272.0,676.6L267.6,689.4M277.1,679.4L272.6,690.3M281.8,682.6L277.4,691.0M285.7,686.9L281.6,691.1M288.5,691.9L285.1,689.7M289.9,697.4L287.7,684.5M288.5,703.0L288.5,682.0" stroke="#38c8f2" stroke-width="4.3" stroke-linecap="round" stroke-dasharray="0.01 4.6" fill="none"/>
<path d="M20.8,694.3L20.6,677.4M22.3,688.8L23.3,678.5M25.4,683.9L27.0,680.1M29.8,680.2L31.6,681.9M34.5,676.9L36.3,683.4M39.3,673.7L41.2,684.3M44.0,670.5L45.9,684.6M48.6,667.0L50.6,684.5M52.8,663.1L55.1,684.2M56.8,658.9L59.3,683.8M60.7,654.6L63.6,683.2M64.6,650.4L67.8,682.5M68.8,646.5L72.3,681.7M73.8,643.7L77.2,680.5M79.5,643.3L82.6,678.5M85.2,643.4L88.0,675.5M91.0,643.3L93.5,672.4M96.7,643.4L98.9,670.1M102.5,643.5L104.4,668.5M108.2,643.4L109.8,667.2M114.0,643.2L115.2,666.5M119.7,642.9L120.7,666.4M125.5,642.5L126.1,667.1M131.2,642.1L131.6,668.2M137.0,641.8L137.0,669.6M142.7,641.5L142.4,671.3M148.5,641.3L147.9,673.2M154.2,641.1L153.3,675.3M160.0,641.0L158.8,677.8M165.7,640.9L164.2,680.6M171.5,640.9L169.6,683.3M177.2,640.9L175.1,685.7M183.0,641.0L180.5,687.8M188.8,641.2L186.0,689.2M194.5,641.6L191.4,690.1M200.2,642.0L196.8,690.6M206.0,642.6L202.3,690.9M211.7,643.3L207.7,690.9M217.4,644.2L213.1,690.8M223.0,645.4L218.4,690.6M228.4,647.4L223.6,690.4M232.7,651.1L228.2,690.2M237.2,654.6L232.8,689.7M241.9,658.0L237.6,688.9M246.6,661.3L242.3,688.1M251.3,664.7L247.1,687.3M256.1,667.8L251.9,687.0M261.1,670.7L256.8,687.1M266.2,673.4L261.8,687.8M271.3,675.9L266.9,688.7M276.4,678.7L271.9,689.6M281.1,681.9L276.7,690.3M285.0,686.2L280.9,690.4M287.8,691.2L284.4,689.0M289.2,696.7L287.0,683.8M287.8,702.3L287.8,681.3" stroke="#72e0fb" stroke-width="1.9" stroke-linecap="round" stroke-dasharray="0.01 4.6" fill="none" opacity="0.8"/>
<path d="M173.5,687.0 L173.7,685.3 L173.9,682.8 L174.0,679.9 L174.2,676.7 L174.7,673.5 L175.5,670.5 L176.7,667.9 L178.5,666.0 L180.9,664.8 L183.7,663.9 L187.0,663.5 L190.6,663.3 L194.5,663.2 L198.5,663.2 L202.5,663.2 L206.5,663.0 L210.6,662.7 L214.9,662.4 L219.4,662.0 L224.0,661.7 L228.6,661.5 L233.1,661.4 L237.4,661.5 L241.5,661.8 L245.4,662.2 L249.2,662.7 L252.9,663.3 L256.5,664.1 L260.0,665.1 L263.3,666.3 L266.5,668.0 L269.5,670.0 L272.4,672.7 L275.2,676.3 L277.9,680.3 L280.4,684.5 L282.8,688.7 L284.8,692.5 L286.5,695.7 L287.9,698.0" stroke="#1680bd" stroke-width="5" fill="none" opacity="0.55" transform="translate(0,-1.5)"/>
<path d="M173.5,687.0 L173.7,685.3 L173.9,682.8 L174.0,679.9 L174.2,676.7 L174.7,673.5 L175.5,670.5 L176.7,667.9 L178.5,666.0 L180.9,664.8 L183.7,663.9 L187.0,663.5 L190.6,663.3 L194.5,663.2 L198.5,663.2 L202.5,663.2 L206.5,663.0 L210.6,662.7 L214.9,662.4 L219.4,662.0 L224.0,661.7 L228.6,661.5 L233.1,661.4 L237.4,661.5 L241.5,661.8 L245.4,662.2 L249.2,662.7 L252.9,663.3 L256.5,664.1 L260.0,665.1 L263.3,666.3 L266.5,668.0 L269.5,670.0 L272.4,672.7 L275.2,676.3 L277.9,680.3 L280.4,684.5 L282.8,688.7 L284.8,692.5 L286.5,695.7 L287.9,698.0 L287.9,684.7 L284.0,691.5 L280.0,692.2 L276.1,691.9 L272.1,691.2 L268.2,690.5 L264.2,689.8 L260.3,689.1 L256.3,688.7 L252.4,688.7 L248.5,689.0 L244.5,689.5 L240.6,690.2 L236.6,690.9 L232.7,691.5 L228.7,691.9 L224.8,692.1 L220.8,692.3 L216.9,692.4 L212.9,692.5 L209.0,692.6 L205.1,692.6 L201.1,692.5 L197.2,692.3 L193.2,691.9 L189.3,691.4 L185.3,690.6 L181.4,689.5 L177.4,688.1 L173.5,686.4Z" fill="#20a4dc"/>
<path d="M173.5,687.0L173.5,686.4M173.9,681.1L177.9,688.3M174.5,675.1L182.4,689.8M176.0,669.4L187.1,691.0M180.0,665.2L191.8,691.7M185.7,663.7L196.6,692.2M191.6,663.2L201.4,692.5M197.6,663.2L206.2,692.6M203.6,663.1L210.9,692.6M209.5,662.8L215.7,692.4M215.4,662.3L220.5,692.3M221.4,661.9L225.3,692.1M227.3,661.5L230.1,691.8M233.3,661.4L234.8,691.2M239.2,661.6L239.6,690.4M245.2,662.2L244.3,689.6M251.1,663.0L249.0,688.9M256.9,664.2L253.8,688.7M262.6,666.0L258.6,689.0M267.8,668.8L263.3,689.6M272.3,672.7L268.1,690.5M276.0,677.4L272.8,691.4M279.2,682.4L277.5,692.0M282.2,687.6L282.2,691.8M285.0,692.8L285.5,688.8M287.9,698.0L287.9,684.7" stroke="#25b6e8" stroke-width="3.8" fill="none"/>
<path d="M173.5,687.0L173.5,686.4M173.9,681.1L177.9,688.3M174.5,675.1L182.4,689.8M176.0,669.4L187.1,691.0M180.0,665.2L191.8,691.7M185.7,663.7L196.6,692.2M191.6,663.2L201.4,692.5M197.6,663.2L206.2,692.6M203.6,663.1L210.9,692.6M209.5,662.8L215.7,692.4M215.4,662.3L220.5,692.3M221.4,661.9L225.3,692.1M227.3,661.5L230.1,691.8M233.3,661.4L234.8,691.2M239.2,661.6L239.6,690.4M245.2,662.2L244.3,689.6M251.1,663.0L249.0,688.9M256.9,664.2L253.8,688.7M262.6,666.0L258.6,689.0M267.8,668.8L263.3,689.6M272.3,672.7L268.1,690.5M276.0,677.4L272.8,691.4M279.2,682.4L277.5,692.0M282.2,687.6L282.2,691.8M285.0,692.8L285.5,688.8M287.9,698.0L287.9,684.7" stroke="#38c8f2" stroke-width="4.3" stroke-linecap="round" stroke-dasharray="0.01 4.6" fill="none"/>
<path d="M172.8,686.3L172.8,685.7M173.2,680.4L177.2,687.6M173.8,674.4L181.7,689.1M175.3,668.7L186.4,690.3M179.3,664.5L191.1,691.0M185.0,663.0L195.9,691.5M190.9,662.5L200.7,691.8M196.9,662.5L205.5,691.9M202.9,662.4L210.2,691.9M208.8,662.1L215.0,691.7M214.7,661.6L219.8,691.6M220.7,661.2L224.6,691.4M226.6,660.8L229.4,691.1M232.6,660.7L234.1,690.5M238.5,660.9L238.9,689.7M244.5,661.5L243.6,688.9M250.4,662.3L248.3,688.2M256.2,663.5L253.1,688.0M261.9,665.3L257.9,688.3M267.1,668.1L262.6,688.9M271.6,672.0L267.4,689.8M275.3,676.7L272.1,690.7M278.5,681.7L276.8,691.3M281.5,686.9L281.5,691.1M284.3,692.1L284.8,688.1M287.2,697.3L287.2,684.0" stroke="#72e0fb" stroke-width="1.9" stroke-linecap="round" stroke-dasharray="0.01 4.6" fill="none" opacity="0.8"/>
<path d="M173.5,687.0 L173.7,685.3 L173.9,682.8 L174.0,679.9 L174.2,676.7 L174.7,673.5 L175.5,670.5 L176.7,667.9 L178.5,666.0 L180.9,664.8 L183.7,663.9 L187.0,663.5 L190.6,663.3 L194.5,663.2 L198.5,663.2 L202.5,663.2 L206.5,663.0 L210.6,662.7 L214.9,662.4 L219.4,662.0 L224.0,661.7 L228.6,661.5 L233.1,661.4 L237.4,661.5 L241.5,661.8 L245.4,662.2 L249.2,662.7 L252.9,663.3 L256.5,664.1 L260.0,665.1 L263.3,666.3 L266.5,668.0 L269.5,670.0 L272.4,672.7 L275.2,676.3 L277.9,680.3 L280.4,684.5 L282.8,688.7 L284.8,692.5 L286.5,695.7 L287.9,698.0" stroke="#58d8fa" stroke-width="4.4" stroke-linecap="round" stroke-dasharray="0.01 5" fill="none"/>
<path d="M21.0,676.0 L25.5,677.9 L30.1,679.8 L34.6,681.4 L39.1,682.6 L43.7,683.2 L48.2,683.3 L52.7,683.1 L57.3,682.7 L61.8,682.2 L66.3,681.6 L70.9,680.8 L75.4,679.8 L79.9,678.5 L84.5,676.6 L89.0,674.1 L93.5,671.5 L98.1,669.4 L102.6,667.9 L107.1,666.6 L111.7,665.7 L116.2,665.1 L120.7,665.1 L125.3,665.5 L129.8,666.3 L134.3,667.4 L138.9,668.7 L143.4,670.1 L147.9,671.7 L152.5,673.4 L157.0,675.4 L161.6,677.6 L166.1,679.9 L170.6,682.1 L175.2,684.2 L179.7,685.9 L184.2,687.3 L188.8,688.3 L193.3,688.9 L197.8,689.3 L202.4,689.6 L206.9,689.6 L211.4,689.6 L216.0,689.4 L220.5,689.3 L225.0,689.1 L229.6,688.8 L234.1,688.3 L238.6,687.6 L243.2,686.7 L247.7,686.0 L252.2,685.7 L256.8,685.7 L261.3,686.3 L265.8,687.0 L270.4,687.9 L274.9,688.7 L279.4,689.2 L284.0,688.5 L288.5,680.0 L288.5,703.0 L284.0,711.6 L279.4,712.5 L274.9,712.1 L270.4,711.4 L265.8,710.6 L261.3,710.0 L256.8,709.6 L252.2,709.6 L247.7,710.1 L243.2,710.9 L238.6,711.9 L234.1,712.7 L229.6,713.4 L225.0,713.8 L220.5,714.1 L216.0,714.3 L211.4,714.6 L206.9,714.8 L202.4,714.8 L197.8,714.7 L193.3,714.4 L188.8,713.9 L184.2,713.1 L179.7,711.8 L175.2,710.1 L170.6,708.2 L166.1,706.1 L161.6,703.9 L157.0,701.8 L152.5,699.9 L147.9,698.3 L143.4,696.9 L138.9,695.6 L134.3,694.4 L129.8,693.5 L125.3,692.8 L120.7,692.5 L116.2,692.7 L111.7,693.3 L107.1,694.4 L102.6,695.8 L98.1,697.4 L93.5,699.6 L89.0,702.3 L84.5,704.9 L79.9,707.0 L75.4,708.4 L70.9,709.5 L66.3,710.4 L61.8,711.2 L57.3,711.8 L52.7,712.3 L48.2,712.6 L43.7,712.6 L39.1,712.1 L34.6,711.0 L30.1,709.6 L25.5,707.8 L21.0,706.0Z" fill="#24a8de"/>
<path d="M22.0,686.4L22.0,698.1M24.0,686.4L24.0,698.1M30.6,690.0L30.6,701.5M32.6,690.0L32.6,701.5M39.2,692.4L39.2,703.7M41.2,692.4L41.2,703.7M47.8,692.9L47.8,703.9M49.8,692.9L49.8,703.9M56.4,692.3L56.4,703.2M58.4,692.3L58.4,703.2M65.0,691.2L65.0,701.9M67.0,691.2L67.0,701.9M73.6,689.6L73.6,700.0M75.6,689.6L75.6,700.0M82.2,686.8L82.2,697.0M84.2,686.8L84.2,697.0M90.8,682.0L90.8,692.0M92.8,682.0L92.8,692.0M99.4,678.2L99.4,687.9M101.4,678.2L101.4,687.9M108.0,675.8L108.0,685.3M110.0,675.8L110.0,685.3M116.6,674.7L116.6,684.0M118.6,674.7L118.6,684.0M125.2,675.3L125.2,684.3M127.2,675.3L127.2,684.3M133.8,677.1L133.8,685.9M135.8,677.1L135.8,685.9M142.4,679.7L142.4,688.3M144.4,679.7L144.4,688.3M151.0,682.8L151.0,691.1M153.0,682.8L153.0,691.1M159.6,686.7L159.6,694.9M161.6,686.7L161.6,694.9M168.2,691.0L168.2,698.9M170.2,691.0L170.2,698.9M176.8,694.8L176.8,702.5M178.8,694.8L178.8,702.5M185.4,697.5L185.4,705.0M187.4,697.5L187.4,705.0M194.0,698.7L194.0,706.0M196.0,698.7L196.0,706.0M202.6,699.2L202.6,706.2M204.6,699.2L204.6,706.2M211.2,699.2L211.2,705.9M213.2,699.2L213.2,705.9M219.8,698.9L219.8,705.4M221.8,698.9L221.8,705.4M228.4,698.5L228.4,704.8M230.4,698.5L230.4,704.8M237.0,697.3L237.0,703.4M239.0,697.3L239.0,703.4M245.6,695.8L245.6,701.7M247.6,695.8L247.6,701.7M254.2,695.3L254.2,700.9M256.2,695.3L256.2,700.9M262.8,696.3L262.8,701.7M264.8,696.3L264.8,701.7M271.4,697.9L271.4,703.1M273.4,697.9L273.4,703.1M280.0,698.8L280.0,703.8M282.0,698.8L282.0,703.8" stroke="#4cc8f2" stroke-width="1" fill="none"/>
<circle cx="27.3" cy="683.4" r="4.8" fill="url(#sph)"/>
<circle cx="35.9" cy="686.6" r="4.8" fill="url(#sph)"/>
<circle cx="44.5" cy="688.0" r="4.8" fill="url(#sph)"/>
<circle cx="53.1" cy="687.9" r="4.8" fill="url(#sph)"/>
<circle cx="61.7" cy="687.0" r="4.8" fill="url(#sph)"/>
<circle cx="70.3" cy="685.7" r="4.8" fill="url(#sph)"/>
<circle cx="78.9" cy="683.7" r="4.8" fill="url(#sph)"/>
<circle cx="87.5" cy="679.7" r="4.8" fill="url(#sph)"/>
<circle cx="96.1" cy="675.0" r="4.8" fill="url(#sph)"/>
<circle cx="104.7" cy="672.1" r="4.8" fill="url(#sph)"/>
<circle cx="113.3" cy="670.2" r="4.8" fill="url(#sph)"/>
<circle cx="121.9" cy="670.0" r="4.8" fill="url(#sph)"/>
<circle cx="130.5" cy="671.3" r="4.8" fill="url(#sph)"/>
<circle cx="139.1" cy="673.5" r="4.8" fill="url(#sph)"/>
<circle cx="147.7" cy="676.4" r="4.8" fill="url(#sph)"/>
<circle cx="156.3" cy="679.8" r="4.8" fill="url(#sph)"/>
<circle cx="164.9" cy="684.1" r="4.8" fill="url(#sph)"/>
<circle cx="173.5" cy="688.2" r="4.8" fill="url(#sph)"/>
<circle cx="182.1" cy="691.5" r="4.8" fill="url(#sph)"/>
<circle cx="190.7" cy="693.5" r="4.8" fill="url(#sph)"/>
<circle cx="199.3" cy="694.2" r="4.8" fill="url(#sph)"/>
<circle cx="207.9" cy="694.4" r="4.8" fill="url(#sph)"/>
<circle cx="216.5" cy="694.2" r="4.8" fill="url(#sph)"/>
<circle cx="225.1" cy="693.9" r="4.8" fill="url(#sph)"/>
<circle cx="233.7" cy="693.2" r="4.8" fill="url(#sph)"/>
<circle cx="242.3" cy="691.7" r="4.8" fill="url(#sph)"/>
<circle cx="250.9" cy="690.5" r="4.8" fill="url(#sph)"/>
<circle cx="259.5" cy="690.8" r="4.8" fill="url(#sph)"/>
<circle cx="268.1" cy="692.3" r="4.8" fill="url(#sph)"/>
<circle cx="276.7" cy="693.8" r="4.8" fill="url(#sph)"/>
<circle cx="285.3" cy="692.3" r="4.8" fill="url(#sph)"/>
</g>
<circle cx="23.0" cy="703.1" r="4.8" fill="url(#sph)"/>
<circle cx="31.6" cy="706.5" r="4.8" fill="url(#sph)"/>
<circle cx="40.2" cy="708.7" r="4.8" fill="url(#sph)"/>
<circle cx="48.8" cy="708.9" r="4.8" fill="url(#sph)"/>
<circle cx="57.4" cy="708.2" r="4.8" fill="url(#sph)"/>
<circle cx="66.0" cy="706.9" r="4.8" fill="url(#sph)"/>
<circle cx="74.6" cy="705.0" r="4.8" fill="url(#sph)"/>
<circle cx="83.2" cy="702.0" r="4.8" fill="url(#sph)"/>
<circle cx="91.8" cy="697.0" r="4.8" fill="url(#sph)"/>
<circle cx="100.4" cy="692.9" r="4.8" fill="url(#sph)"/>
<circle cx="109.0" cy="690.3" r="4.8" fill="url(#sph)"/>
<circle cx="117.6" cy="689.0" r="4.8" fill="url(#sph)"/>
<circle cx="126.2" cy="689.3" r="4.8" fill="url(#sph)"/>
<circle cx="134.8" cy="690.9" r="4.8" fill="url(#sph)"/>
<circle cx="143.4" cy="693.3" r="4.8" fill="url(#sph)"/>
<circle cx="152.0" cy="696.1" r="4.8" fill="url(#sph)"/>
<circle cx="160.6" cy="699.9" r="4.8" fill="url(#sph)"/>
<circle cx="169.2" cy="703.9" r="4.8" fill="url(#sph)"/>
<circle cx="177.8" cy="707.5" r="4.8" fill="url(#sph)"/>
<circle cx="186.4" cy="710.0" r="4.8" fill="url(#sph)"/>
<circle cx="195.0" cy="711.0" r="4.8" fill="url(#sph)"/>
<circle cx="203.6" cy="711.2" r="4.8" fill="url(#sph)"/>
<circle cx="212.2" cy="710.9" r="4.8" fill="url(#sph)"/>
<circle cx="220.8" cy="710.4" r="4.8" fill="url(#sph)"/>
<circle cx="229.4" cy="709.8" r="4.8" fill="url(#sph)"/>
<circle cx="238.0" cy="708.4" r="4.8" fill="url(#sph)"/>
<circle cx="246.6" cy="706.7" r="4.8" fill="url(#sph)"/>
<circle cx="255.2" cy="705.9" r="4.8" fill="url(#sph)"/>
<circle cx="263.8" cy="706.7" r="4.8" fill="url(#sph)"/>
<circle cx="272.4" cy="708.1" r="4.8" fill="url(#sph)"/>
<circle cx="281.0" cy="708.8" r="4.8" fill="url(#sph)"/>
<clipPath id="m3c"><path d="M476.0,141.0 L476.4,139.1 L476.8,136.5 L477.2,133.4 L477.8,130.0 L478.5,126.5 L479.5,123.1 L480.8,120.1 L482.4,117.6 L484.4,115.7 L486.9,114.1 L489.7,112.8 L492.7,111.7 L495.8,110.6 L498.9,109.4 L502.0,108.0 L504.9,106.4 L507.6,104.4 L510.2,102.1 L512.8,99.6 L515.4,97.0 L518.1,94.5 L520.9,92.2 L524.0,90.1 L527.3,88.5 L531.0,87.3 L535.2,86.4 L539.6,85.8 L544.1,85.4 L548.6,85.1 L553.0,84.8 L557.2,84.5 L560.9,84.0 L564.0,83.4 L566.5,82.8 L568.6,82.2 L570.7,81.6 L572.9,81.0 L575.6,80.5 L579.0,80.0 L583.3,79.5 L588.8,79.1 L595.2,78.7 L602.4,78.3 L609.9,78.0 L617.7,77.7 L625.4,77.5 L632.7,77.3 L639.4,77.3 L645.7,77.3 L651.9,77.4 L658.0,77.6 L664.0,77.8 L669.6,78.2 L674.9,78.5 L679.8,79.0 L684.3,79.5 L688.3,80.1 L691.7,80.8 L694.8,81.5 L697.6,82.3 L700.1,83.2 L702.4,84.1 L704.6,85.1 L706.7,86.2 L708.6,87.4 L710.0,88.8 L711.2,90.2 L712.3,91.7 L713.4,93.2 L714.6,94.7 L716.0,96.2 L717.9,97.5 L720.2,98.7 L722.8,99.6 L725.6,100.5 L728.5,101.4 L731.6,102.3 L734.6,103.4 L737.5,104.8 L740.3,106.4 L743.0,108.5 L745.9,110.9 L748.8,113.7 L751.6,116.5 L754.3,119.4 L756.7,122.1 L758.8,124.6 L760.5,126.6 L761.7,128.3 L762.6,129.7 L763.1,131.0 L763.3,132.1 L763.4,133.0 L763.4,133.8 L763.5,134.4 L763.6,135.0 L763.6,135.0 L763.1,135.9 L762.6,137.3 L762.0,138.9 L761.2,140.6 L760.3,142.3 L759.2,143.9 L757.7,145.3 L756.0,146.2 L753.9,146.7 L751.6,147.0 L748.9,147.0 L746.1,146.8 L743.0,146.6 L739.8,146.4 L736.5,146.2 L733.0,146.2 L729.4,146.3 L725.7,146.4 L721.9,146.5 L717.9,146.7 L713.7,146.8 L709.3,147.0 L704.8,147.2 L700.0,147.4 L694.8,147.7 L689.1,148.1 L683.0,148.5 L676.9,148.9 L670.8,149.3 L665.0,149.6 L659.7,149.7 L655.0,149.6 L651.1,149.3 L647.7,148.8 L644.7,148.2 L642.1,147.4 L639.6,146.6 L637.2,145.7 L634.7,144.9 L632.0,144.0 L629.1,143.1 L626.2,142.1 L623.2,141.0 L620.2,139.9 L617.4,138.8 L614.7,137.8 L612.2,136.9 L610.0,136.2 L608.2,135.6 L606.8,135.1 L605.7,134.7 L604.8,134.4 L603.8,134.1 L602.7,133.9 L601.3,133.8 L599.5,133.7 L597.2,133.6 L594.6,133.7 L591.7,133.7 L588.7,133.9 L585.6,134.1 L582.5,134.3 L579.6,134.5 L577.0,134.8 L574.6,135.1 L572.4,135.4 L570.2,135.8 L568.1,136.1 L566.1,136.6 L564.1,137.1 L562.1,137.6 L560.0,138.2 L558.0,138.9 L556.0,139.7 L554.0,140.7 L552.1,141.6 L550.1,142.6 L548.0,143.5 L545.8,144.3 L543.5,145.0 L541.0,145.6 L538.3,146.2 L535.5,146.7 L532.6,147.1 L529.7,147.5 L526.8,147.9 L523.8,148.1 L521.0,148.3 L518.2,148.4 L515.4,148.4 L512.6,148.4 L509.8,148.3 L507.0,148.1 L504.2,147.9 L501.4,147.6 L498.6,147.2 L495.6,146.7 L492.4,146.0 L489.1,145.2 L485.9,144.3 L482.8,143.5 L480.1,142.7 L477.7,142.1 L476.0,141.6Z"/></clipPath>
<path d="M476.0,141.0 L476.4,139.1 L476.8,136.5 L477.2,133.4 L477.8,130.0 L478.5,126.5 L479.5,123.1 L480.8,120.1 L482.4,117.6 L484.4,115.7 L486.9,114.1 L489.7,112.8 L492.7,111.7 L495.8,110.6 L498.9,109.4 L502.0,108.0 L504.9,106.4 L507.6,104.4 L510.2,102.1 L512.8,99.6 L515.4,97.0 L518.1,94.5 L520.9,92.2 L524.0,90.1 L527.3,88.5 L531.0,87.3 L535.2,86.4 L539.6,85.8 L544.1,85.4 L548.6,85.1 L553.0,84.8 L557.2,84.5 L560.9,84.0 L564.0,83.4 L566.5,82.8 L568.6,82.2 L570.7,81.6 L572.9,81.0 L575.6,80.5 L579.0,80.0 L583.3,79.5 L588.8,79.1 L595.2,78.7 L602.4,78.3 L609.9,78.0 L617.7,77.7 L625.4,77.5 L632.7,77.3 L639.4,77.3 L645.7,77.3 L651.9,77.4 L658.0,77.6 L664.0,77.8 L669.6,78.2 L674.9,78.5 L679.8,79.0 L684.3,79.5 L688.3,80.1 L691.7,80.8 L694.8,81.5 L697.6,82.3 L700.1,83.2 L702.4,84.1 L704.6,85.1 L706.7,86.2 L708.6,87.4 L710.0,88.8 L711.2,90.2 L712.3,91.7 L713.4,93.2 L714.6,94.7 L716.0,96.2 L717.9,97.5 L720.2,98.7 L722.8,99.6 L725.6,100.5 L728.5,101.4 L731.6,102.3 L734.6,103.4 L737.5,104.8 L740.3,106.4 L743.0,108.5 L745.9,110.9 L748.8,113.7 L751.6,116.5 L754.3,119.4 L756.7,122.1 L758.8,124.6 L760.5,126.6 L761.7,128.3 L762.6,129.7 L763.1,131.0 L763.3,132.1 L763.4,133.0 L763.4,133.8 L763.5,134.4 L763.6,135.0 L763.6,135.0 L763.1,135.9 L762.6,137.3 L762.0,138.9 L761.2,140.6 L760.3,142.3 L759.2,143.9 L757.7,145.3 L756.0,146.2 L753.9,146.7 L751.6,147.0 L748.9,147.0 L746.1,146.8 L743.0,146.6 L739.8,146.4 L736.5,146.2 L733.0,146.2 L729.4,146.3 L725.7,146.4 L721.9,146.5 L717.9,146.7 L713.7,146.8 L709.3,147.0 L704.8,147.2 L700.0,147.4 L694.8,147.7 L689.1,148.1 L683.0,148.5 L676.9,148.9 L670.8,149.3 L665.0,149.6 L659.7,149.7 L655.0,149.6 L651.1,149.3 L647.7,148.8 L644.7,148.2 L642.1,147.4 L639.6,146.6 L637.2,145.7 L634.7,144.9 L632.0,144.0 L629.1,143.1 L626.2,142.1 L623.2,141.0 L620.2,139.9 L617.4,138.8 L614.7,137.8 L612.2,136.9 L610.0,136.2 L608.2,135.6 L606.8,135.1 L605.7,134.7 L604.8,134.4 L603.8,134.1 L602.7,133.9 L601.3,133.8 L599.5,133.7 L597.2,133.6 L594.6,133.7 L591.7,133.7 L588.7,133.9 L585.6,134.1 L582.5,134.3 L579.6,134.5 L577.0,134.8 L574.6,135.1 L572.4,135.4 L570.2,135.8 L568.1,136.1 L566.1,136.6 L564.1,137.1 L562.1,137.6 L560.0,138.2 L558.0,138.9 L556.0,139.7 L554.0,140.7 L552.1,141.6 L550.1,142.6 L548.0,143.5 L545.8,144.3 L543.5,145.0 L541.0,145.6 L538.3,146.2 L535.5,146.7 L532.6,147.1 L529.7,147.5 L526.8,147.9 L523.8,148.1 L521.0,148.3 L518.2,148.4 L515.4,148.4 L512.6,148.4 L509.8,148.3 L507.0,148.1 L504.2,147.9 L501.4,147.6 L498.6,147.2 L495.6,146.7 L492.4,146.0 L489.1,145.2 L485.9,144.3 L482.8,143.5 L480.1,142.7 L477.7,142.1 L476.0,141.6Z" fill="#20a4dc"/>
<g clip-path="url(#m3c)">
<path d="M476.0,141.0L476.0,118.6M476.9,135.3L478.3,119.2M477.9,129.7L480.6,119.9M479.2,124.1L483.2,120.7M481.6,118.9L486.4,121.6M485.6,114.9L490.8,122.7M490.7,112.4L495.8,123.9M496.1,110.4L501.0,124.8M501.4,108.3L506.2,125.4M506.3,105.4L511.1,125.7M510.7,101.6L515.6,125.8M514.8,97.6L520.0,125.8M519.0,93.8L524.4,125.6M523.6,90.4L529.1,125.2M528.8,88.0L534.2,124.5M534.4,86.6L539.5,123.6M540.1,85.8L544.9,122.3M545.8,85.3L550.4,120.2M551.5,84.9L555.8,117.7M557.2,84.5L561.2,115.7M562.9,83.6L566.6,114.4M568.4,82.3L571.9,113.5M574.0,80.8L577.2,112.8M579.6,79.9L582.6,112.4M585.3,79.3L588.0,112.1M591.1,78.9L593.4,111.9M596.8,78.6L598.9,112.0M602.5,78.3L604.3,112.6M608.2,78.1L609.7,114.5M614.0,77.8L615.2,116.5M619.7,77.6L620.6,118.6M625.4,77.5L626.0,120.6M631.2,77.4L631.4,122.4M636.9,77.3L636.9,124.3M642.6,77.3L642.3,126.2M648.4,77.4L647.7,127.6M654.1,77.5L653.2,128.3M659.8,77.7L658.6,128.6M665.6,77.9L664.0,128.6M671.3,78.3L669.5,128.4M677.0,78.7L674.9,128.1M682.7,79.3L680.3,127.8M688.4,80.1L685.7,127.5M694.0,81.3L691.1,127.2M699.5,82.9L696.3,126.9M704.7,85.2L701.5,126.7M709.5,88.3L706.3,126.5M713.1,92.8L710.3,126.4M717.0,96.9L714.6,126.3M722.1,99.4L719.6,126.1M727.6,101.1L724.9,126.0M733.1,102.9L730.1,125.9M738.3,105.2L735.2,125.9M743.0,108.4L740.0,126.1M747.3,112.3L744.5,126.5M751.4,116.3L748.8,126.8M755.3,120.5L753.1,126.7M759.0,124.8L757.2,125.5M762.4,129.5L761.1,120.8M763.6,135.0L763.6,115.0" stroke="#25b6e8" stroke-width="3.8" fill="none"/>
<path d="M476.0,141.0L476.0,118.6M476.9,135.3L478.3,119.2M477.9,129.7L480.6,119.9M479.2,124.1L483.2,120.7M481.6,118.9L486.4,121.6M485.6,114.9L490.8,122.7M490.7,112.4L495.8,123.9M496.1,110.4L501.0,124.8M501.4,108.3L506.2,125.4M506.3,105.4L511.1,125.7M510.7,101.6L515.6,125.8M514.8,97.6L520.0,125.8M519.0,93.8L524.4,125.6M523.6,90.4L529.1,125.2M528.8,88.0L534.2,124.5M534.4,86.6L539.5,123.6M540.1,85.8L544.9,122.3M545.8,85.3L550.4,120.2M551.5,84.9L555.8,117.7M557.2,84.5L561.2,115.7M562.9,83.6L566.6,114.4M568.4,82.3L571.9,113.5M574.0,80.8L577.2,112.8M579.6,79.9L582.6,112.4M585.3,79.3L588.0,112.1M591.1,78.9L593.4,111.9M596.8,78.6L598.9,112.0M602.5,78.3L604.3,112.6M608.2,78.1L609.7,114.5M614.0,77.8L615.2,116.5M619.7,77.6L620.6,118.6M625.4,77.5L626.0,120.6M631.2,77.4L631.4,122.4M636.9,77.3L636.9,124.3M642.6,77.3L642.3,126.2M648.4,77.4L647.7,127.6M654.1,77.5L653.2,128.3M659.8,77.7L658.6,128.6M665.6,77.9L664.0,128.6M671.3,78.3L669.5,128.4M677.0,78.7L674.9,128.1M682.7,79.3L680.3,127.8M688.4,80.1L685.7,127.5M694.0,81.3L691.1,127.2M699.5,82.9L696.3,126.9M704.7,85.2L701.5,126.7M709.5,88.3L706.3,126.5M713.1,92.8L710.3,126.4M717.0,96.9L714.6,126.3M722.1,99.4L719.6,126.1M727.6,101.1L724.9,126.0M733.1,102.9L730.1,125.9M738.3,105.2L735.2,125.9M743.0,108.4L740.0,126.1M747.3,112.3L744.5,126.5M751.4,116.3L748.8,126.8M755.3,120.5L753.1,126.7M759.0,124.8L757.2,125.5M762.4,129.5L761.1,120.8M763.6,135.0L763.6,115.0" stroke="#38c8f2" stroke-width="4.3" stroke-linecap="round" stroke-dasharray="0.01 4.6" fill="none"/>
<path d="M475.3,140.3L475.3,117.9M476.2,134.6L477.6,118.5M477.2,129.0L479.9,119.2M478.5,123.4L482.5,120.0M480.9,118.2L485.7,120.9M484.9,114.2L490.1,122.0M490.0,111.7L495.1,123.2M495.4,109.7L500.3,124.1M500.7,107.6L505.5,124.7M505.6,104.7L510.4,125.0M510.0,100.9L514.9,125.1M514.1,96.9L519.3,125.1M518.3,93.1L523.7,124.9M522.9,89.7L528.4,124.5M528.1,87.3L533.5,123.8M533.7,85.9L538.8,122.9M539.4,85.1L544.2,121.6M545.1,84.6L549.7,119.5M550.8,84.2L555.1,117.0M556.5,83.8L560.5,115.0M562.2,82.9L565.9,113.7M567.7,81.6L571.2,112.8M573.3,80.1L576.5,112.1M578.9,79.2L581.9,111.7M584.6,78.6L587.3,111.4M590.4,78.2L592.7,111.2M596.1,77.9L598.2,111.3M601.8,77.6L603.6,111.9M607.5,77.4L609.0,113.8M613.3,77.1L614.5,115.8M619.0,76.9L619.9,117.9M624.7,76.8L625.3,119.9M630.5,76.7L630.7,121.7M636.2,76.6L636.2,123.6M641.9,76.6L641.6,125.5M647.7,76.7L647.0,126.9M653.4,76.8L652.5,127.6M659.1,77.0L657.9,127.9M664.9,77.2L663.3,127.9M670.6,77.6L668.8,127.7M676.3,78.0L674.2,127.4M682.0,78.6L679.6,127.1M687.7,79.4L685.0,126.8M693.3,80.6L690.4,126.5M698.8,82.2L695.6,126.2M704.0,84.5L700.8,126.0M708.8,87.6L705.6,125.8M712.4,92.1L709.6,125.7M716.3,96.2L713.9,125.6M721.4,98.7L718.9,125.4M726.9,100.4L724.2,125.3M732.4,102.2L729.4,125.2M737.6,104.5L734.5,125.2M742.3,107.7L739.3,125.4M746.6,111.6L743.8,125.8M750.7,115.6L748.1,126.1M754.6,119.8L752.4,126.0M758.3,124.1L756.5,124.8M761.7,128.8L760.4,120.1M762.9,134.3L762.9,114.3" stroke="#72e0fb" stroke-width="1.9" stroke-linecap="round" stroke-dasharray="0.01 4.6" fill="none" opacity="0.8"/>
<path d="M568.0,128.0 L567.9,125.9 L567.5,123.0 L566.9,119.6 L566.5,115.8 L566.4,112.0 L566.8,108.4 L567.9,105.3 L570.0,103.0 L573.1,101.4 L577.2,100.2 L582.0,99.3 L587.3,98.8 L593.0,98.5 L598.8,98.3 L604.5,98.1 L610.0,98.0 L615.3,98.0 L620.6,98.2 L626.0,98.5 L631.5,99.0 L637.1,99.5 L642.9,99.9 L648.8,100.2 L655.0,100.3 L661.7,100.2 L668.9,99.9 L676.4,99.5 L684.1,99.1 L691.6,98.6 L698.7,98.3 L705.3,98.0 L711.0,98.0 L715.9,98.1 L720.3,98.2 L724.2,98.4 L727.7,98.7 L730.8,99.1 L733.7,99.7 L736.4,100.5 L739.0,101.4 L741.4,102.6 L743.4,103.9 L745.2,105.4 L746.8,107.1 L748.2,108.9 L749.5,110.8 L750.9,112.8 L752.4,114.8 L754.0,117.0 L755.6,119.6 L757.3,122.4 L758.8,125.2 L760.3,127.9 L761.6,130.3 L762.8,132.4 L763.6,133.9" stroke="#1680bd" stroke-width="5" fill="none" opacity="0.55" transform="translate(0,-1.5)"/>
<path d="M568.0,128.0 L567.9,125.9 L567.5,123.0 L566.9,119.6 L566.5,115.8 L566.4,112.0 L566.8,108.4 L567.9,105.3 L570.0,103.0 L573.1,101.4 L577.2,100.2 L582.0,99.3 L587.3,98.8 L593.0,98.5 L598.8,98.3 L604.5,98.1 L610.0,98.0 L615.3,98.0 L620.6,98.2 L626.0,98.5 L631.5,99.0 L637.1,99.5 L642.9,99.9 L648.8,100.2 L655.0,100.3 L661.7,100.2 L668.9,99.9 L676.4,99.5 L684.1,99.1 L691.6,98.6 L698.7,98.3 L705.3,98.0 L711.0,98.0 L715.9,98.1 L720.3,98.2 L724.2,98.4 L727.7,98.7 L730.8,99.1 L733.7,99.7 L736.4,100.5 L739.0,101.4 L741.4,102.6 L743.4,103.9 L745.2,105.4 L746.8,107.1 L748.2,108.9 L749.5,110.8 L750.9,112.8 L752.4,114.8 L754.0,117.0 L755.6,119.6 L757.3,122.4 L758.8,125.2 L760.3,127.9 L761.6,130.3 L762.8,132.4 L763.6,133.9 L763.6,116.0 L756.9,126.7 L750.1,127.8 L743.4,127.4 L736.6,126.9 L729.9,126.9 L723.1,127.1 L716.4,127.2 L709.6,127.4 L702.9,127.6 L696.2,127.9 L689.4,128.3 L682.7,128.7 L675.9,129.1 L669.2,129.4 L662.4,129.6 L655.7,129.5 L648.9,128.8 L642.2,127.2 L635.4,124.8 L628.7,122.5 L622.0,120.1 L615.2,117.5 L608.5,115.1 L601.7,113.2 L595.0,112.9 L588.2,113.1 L581.5,113.5 L574.7,114.1 L568.0,115.1Z" fill="#20a4dc"/>
<path d="M568.0,128.0L568.0,115.1M567.3,122.2L572.9,114.4M566.6,116.5L577.9,113.8M566.5,110.7L582.8,113.4M568.1,105.2L587.8,113.1M572.6,101.7L592.8,113.0M578.1,100.0L597.8,113.0M583.8,99.2L602.7,113.4M589.6,98.7L607.5,114.8M595.4,98.4L612.2,116.4M601.2,98.2L616.9,118.1M607.0,98.1L621.6,119.9M612.8,98.0L626.3,121.6M618.6,98.1L631.0,123.3M624.4,98.4L635.7,124.9M630.1,98.9L640.4,126.5M635.9,99.4L645.2,127.9M641.7,99.8L650.0,128.9M647.5,100.1L655.0,129.4M653.3,100.3L660.0,129.5M659.1,100.2L665.0,129.5M664.9,100.1L670.0,129.4M670.7,99.8L674.9,129.1M676.5,99.5L679.9,128.8M682.3,99.2L684.9,128.5M688.0,98.9L689.9,128.2M693.8,98.5L694.8,128.0M699.6,98.2L699.8,127.8M705.4,98.0L704.8,127.6M711.2,98.0L709.8,127.4M717.0,98.1L714.8,127.3M722.8,98.3L719.8,127.1M728.6,98.8L724.7,127.0M734.3,99.9L729.7,126.9M739.8,101.8L734.7,126.9M744.6,104.9L739.7,127.2M748.4,109.2L744.7,127.5M751.8,114.0L749.6,127.8M755.1,118.7L754.6,127.1M758.0,123.7L758.3,124.4M760.8,128.8L760.9,120.2M763.6,133.9L763.6,116.0" stroke="#25b6e8" stroke-width="3.8" fill="none"/>
<path d="M568.0,128.0L568.0,115.1M567.3,122.2L572.9,114.4M566.6,116.5L577.9,113.8M566.5,110.7L582.8,113.4M568.1,105.2L587.8,113.1M572.6,101.7L592.8,113.0M578.1,100.0L597.8,113.0M583.8,99.2L602.7,113.4M589.6,98.7L607.5,114.8M595.4,98.4L612.2,116.4M601.2,98.2L616.9,118.1M607.0,98.1L621.6,119.9M612.8,98.0L626.3,121.6M618.6,98.1L631.0,123.3M624.4,98.4L635.7,124.9M630.1,98.9L640.4,126.5M635.9,99.4L645.2,127.9M641.7,99.8L650.0,128.9M647.5,100.1L655.0,129.4M653.3,100.3L660.0,129.5M659.1,100.2L665.0,129.5M664.9,100.1L670.0,129.4M670.7,99.8L674.9,129.1M676.5,99.5L679.9,128.8M682.3,99.2L684.9,128.5M688.0,98.9L689.9,128.2M693.8,98.5L694.8,128.0M699.6,98.2L699.8,127.8M705.4,98.0L704.8,127.6M711.2,98.0L709.8,127.4M717.0,98.1L714.8,127.3M722.8,98.3L719.8,127.1M728.6,98.8L724.7,127.0M734.3,99.9L729.7,126.9M739.8,101.8L734.7,126.9M744.6,104.9L739.7,127.2M748.4,109.2L744.7,127.5M751.8,114.0L749.6,127.8M755.1,118.7L754.6,127.1M758.0,123.7L758.3,124.4M760.8,128.8L760.9,120.2M763.6,133.9L763.6,116.0" stroke="#38c8f2" stroke-width="4.3" stroke-linecap="round" stroke-dasharray="0.01 4.6" fill="none"/>
<path d="M567.3,127.3L567.3,114.4M566.6,121.5L572.2,113.7M565.9,115.8L577.2,113.1M565.8,110.0L582.1,112.7M567.4,104.5L587.1,112.4M571.9,101.0L592.1,112.3M577.4,99.3L597.1,112.3M583.1,98.5L602.0,112.7M588.9,98.0L606.8,114.1M594.7,97.7L611.5,115.7M600.5,97.5L616.2,117.4M606.3,97.4L620.9,119.2M612.1,97.3L625.6,120.9M617.9,97.4L630.3,122.6M623.7,97.7L635.0,124.2M629.4,98.2L639.7,125.8M635.2,98.7L644.5,127.2M641.0,99.1L649.3,128.2M646.8,99.4L654.3,128.7M652.6,99.6L659.3,128.8M658.4,99.5L664.3,128.8M664.2,99.4L669.3,128.7M670.0,99.1L674.2,128.4M675.8,98.8L679.2,128.1M681.6,98.5L684.2,127.8M687.3,98.2L689.2,127.5M693.1,97.8L694.1,127.3M698.9,97.5L699.1,127.1M704.7,97.3L704.1,126.9M710.5,97.3L709.1,126.7M716.3,97.4L714.1,126.6M722.1,97.6L719.1,126.4M727.9,98.1L724.0,126.3M733.6,99.2L729.0,126.2M739.1,101.1L734.0,126.2M743.9,104.2L739.0,126.5M747.7,108.5L744.0,126.8M751.1,113.3L748.9,127.1M754.4,118.0L753.9,126.4M757.3,123.0L757.6,123.7M760.1,128.1L760.2,119.5M762.9,133.2L762.9,115.3" stroke="#72e0fb" stroke-width="1.9" stroke-linecap="round" stroke-dasharray="0.01 4.6" fill="none" opacity="0.8"/>
<path d="M568.0,128.0 L567.9,125.9 L567.5,123.0 L566.9,119.6 L566.5,115.8 L566.4,112.0 L566.8,108.4 L567.9,105.3 L570.0,103.0 L573.1,101.4 L577.2,100.2 L582.0,99.3 L587.3,98.8 L593.0,98.5 L598.8,98.3 L604.5,98.1 L610.0,98.0 L615.3,98.0 L620.6,98.2 L626.0,98.5 L631.5,99.0 L637.1,99.5 L642.9,99.9 L648.8,100.2 L655.0,100.3 L661.7,100.2 L668.9,99.9 L676.4,99.5 L684.1,99.1 L691.6,98.6 L698.7,98.3 L705.3,98.0 L711.0,98.0 L715.9,98.1 L720.3,98.2 L724.2,98.4 L727.7,98.7 L730.8,99.1 L733.7,99.7 L736.4,100.5 L739.0,101.4 L741.4,102.6 L743.4,103.9 L745.2,105.4 L746.8,107.1 L748.2,108.9 L749.5,110.8 L750.9,112.8 L752.4,114.8 L754.0,117.0 L755.6,119.6 L757.3,122.4 L758.8,125.2 L760.3,127.9 L761.6,130.3 L762.8,132.4 L763.6,133.9" stroke="#58d8fa" stroke-width="4.4" stroke-linecap="round" stroke-dasharray="0.01 5" fill="none"/>
<path d="M476.0,116.6 L480.9,118.0 L485.7,119.4 L490.6,120.7 L495.5,121.9 L500.4,122.7 L505.2,123.3 L510.1,123.7 L515.0,123.8 L519.9,123.8 L524.7,123.6 L529.6,123.1 L534.5,122.5 L539.4,121.6 L544.2,120.5 L549.1,118.8 L554.0,116.5 L558.9,114.5 L563.7,113.1 L568.6,112.0 L573.5,111.3 L578.4,110.7 L583.2,110.3 L588.1,110.1 L593.0,109.9 L597.9,109.9 L602.7,110.3 L607.6,111.8 L612.5,113.5 L617.4,115.3 L622.2,117.2 L627.1,119.0 L632.0,120.6 L636.9,122.3 L641.7,124.0 L646.6,125.4 L651.5,126.2 L656.4,126.5 L661.2,126.6 L666.1,126.5 L671.0,126.3 L675.9,126.1 L680.7,125.8 L685.6,125.5 L690.5,125.2 L695.4,124.9 L700.2,124.7 L705.1,124.6 L710.0,124.4 L714.9,124.3 L719.7,124.1 L724.6,124.0 L729.5,123.9 L734.4,123.9 L739.2,124.1 L744.1,124.5 L749.0,124.8 L753.9,124.6 L758.7,122.3 L763.6,113.0 L763.6,135.0 L758.7,144.3 L753.9,146.7 L749.0,147.0 L744.1,146.7 L739.2,146.4 L734.4,146.2 L729.5,146.3 L724.6,146.4 L719.7,146.6 L714.9,146.8 L710.0,147.0 L705.1,147.2 L700.2,147.4 L695.4,147.7 L690.5,148.0 L685.6,148.3 L680.7,148.7 L675.9,149.0 L671.0,149.3 L666.1,149.5 L661.2,149.7 L656.4,149.6 L651.5,149.3 L646.6,148.6 L641.7,147.3 L636.9,145.6 L632.0,144.0 L627.1,142.4 L622.2,140.7 L617.4,138.8 L612.5,137.0 L607.6,135.4 L602.7,134.0 L597.9,133.7 L593.0,133.7 L588.1,133.9 L583.2,134.2 L578.4,134.7 L573.5,135.2 L568.6,136.1 L563.7,137.1 L558.9,138.6 L554.0,140.7 L549.1,143.0 L544.2,144.8 L539.4,145.9 L534.5,146.8 L529.6,147.5 L524.7,148.0 L519.9,148.3 L515.0,148.4 L510.1,148.3 L505.2,148.0 L500.4,147.4 L495.5,146.6 L490.6,145.5 L485.7,144.3 L480.9,142.9 L476.0,141.6Z" fill="#24a8de"/>
<path d="M477.0,126.2L477.0,134.1M479.0,126.2L479.0,134.1M485.2,128.5L485.2,136.4M487.2,128.5L487.2,136.4M493.4,130.6L493.4,138.4M495.4,130.6L495.4,138.4M501.6,132.0L501.6,139.7M503.6,132.0L503.6,139.7M509.8,132.7L509.8,140.3M511.8,132.7L511.8,140.3M518.0,132.8L518.0,140.4M520.0,132.8L520.0,140.4M526.2,132.4L526.2,139.8M528.2,132.4L528.2,139.8M534.4,131.3L534.4,138.7M536.4,131.3L536.4,138.7M542.6,129.7L542.6,137.0M544.6,129.7L544.6,137.0M550.8,126.5L550.8,133.7M552.8,126.5L552.8,133.7M559.0,123.1L559.0,130.2M561.0,123.1L561.0,130.2M567.2,121.1L567.2,128.1M569.2,121.1L569.2,128.1M575.4,119.9L575.4,126.9M577.4,119.9L577.4,126.9M583.6,119.3L583.6,126.1M585.6,119.3L585.6,126.1M591.8,118.9L591.8,125.7M593.8,118.9L593.8,125.7M600.0,119.1L600.0,125.8M602.0,119.1L602.0,125.8M608.2,121.3L608.2,127.9M610.2,121.3L610.2,127.9M616.4,124.3L616.4,130.8M618.4,124.3L618.4,130.8M624.6,127.4L624.6,133.9M626.6,127.4L626.6,133.9M632.8,130.2L632.8,136.6M634.8,130.2L634.8,136.6M641.0,133.1L641.0,139.4M643.0,133.1L643.0,139.4M649.2,135.0L649.2,141.2M651.2,135.0L651.2,141.2M657.4,135.6L657.4,141.7M659.4,135.6L659.4,141.7M665.6,135.5L665.6,141.5M667.6,135.5L667.6,141.5M673.8,135.1L673.8,141.1M675.8,135.1L675.8,141.1M682.0,134.7L682.0,140.5M684.0,134.7L684.0,140.5M690.2,134.2L690.2,139.9M692.2,134.2L692.2,139.9M698.4,133.8L698.4,139.4M700.4,133.8L700.4,139.4M706.6,133.5L706.6,139.1M708.6,133.5L708.6,139.1M714.8,133.2L714.8,138.7M716.8,133.2L716.8,138.7M723.0,133.0L723.0,138.4M725.0,133.0L725.0,138.4M731.2,132.9L731.2,138.2M733.2,132.9L733.2,138.2M739.4,133.2L739.4,138.4M741.4,133.2L741.4,138.4M747.6,133.8L747.6,139.0M749.6,133.8L749.6,139.0M755.8,132.7L755.8,137.8M757.8,132.7L757.8,137.8" stroke="#4cc8f2" stroke-width="1" fill="none"/>
<circle cx="482.1" cy="122.8" r="4.5" fill="url(#sph)"/>
<circle cx="490.3" cy="125.1" r="4.5" fill="url(#sph)"/>
<circle cx="498.5" cy="126.9" r="4.5" fill="url(#sph)"/>
<circle cx="506.7" cy="127.9" r="4.5" fill="url(#sph)"/>
<circle cx="514.9" cy="128.3" r="4.5" fill="url(#sph)"/>
<circle cx="523.1" cy="128.2" r="4.5" fill="url(#sph)"/>
<circle cx="531.3" cy="127.4" r="4.5" fill="url(#sph)"/>
<circle cx="539.5" cy="126.1" r="4.5" fill="url(#sph)"/>
<circle cx="547.7" cy="123.8" r="4.5" fill="url(#sph)"/>
<circle cx="555.9" cy="120.1" r="4.5" fill="url(#sph)"/>
<circle cx="564.1" cy="117.5" r="4.5" fill="url(#sph)"/>
<circle cx="572.3" cy="115.9" r="4.5" fill="url(#sph)"/>
<circle cx="580.5" cy="115.0" r="4.5" fill="url(#sph)"/>
<circle cx="588.7" cy="114.6" r="4.5" fill="url(#sph)"/>
<circle cx="596.9" cy="114.4" r="4.5" fill="url(#sph)"/>
<circle cx="605.1" cy="115.3" r="4.5" fill="url(#sph)"/>
<circle cx="613.3" cy="118.3" r="4.5" fill="url(#sph)"/>
<circle cx="621.5" cy="121.4" r="4.5" fill="url(#sph)"/>
<circle cx="629.7" cy="124.4" r="4.5" fill="url(#sph)"/>
<circle cx="637.9" cy="127.2" r="4.5" fill="url(#sph)"/>
<circle cx="646.1" cy="129.7" r="4.5" fill="url(#sph)"/>
<circle cx="654.3" cy="130.9" r="4.5" fill="url(#sph)"/>
<circle cx="662.5" cy="131.1" r="4.5" fill="url(#sph)"/>
<circle cx="670.7" cy="130.8" r="4.5" fill="url(#sph)"/>
<circle cx="678.9" cy="130.4" r="4.5" fill="url(#sph)"/>
<circle cx="687.1" cy="129.9" r="4.5" fill="url(#sph)"/>
<circle cx="695.3" cy="129.4" r="4.5" fill="url(#sph)"/>
<circle cx="703.5" cy="129.1" r="4.5" fill="url(#sph)"/>
<circle cx="711.7" cy="128.9" r="4.5" fill="url(#sph)"/>
<circle cx="719.9" cy="128.6" r="4.5" fill="url(#sph)"/>
<circle cx="728.1" cy="128.5" r="4.5" fill="url(#sph)"/>
<circle cx="736.3" cy="128.4" r="4.5" fill="url(#sph)"/>
<circle cx="744.5" cy="129.0" r="4.5" fill="url(#sph)"/>
<circle cx="752.7" cy="129.2" r="4.5" fill="url(#sph)"/>
<circle cx="760.9" cy="123.7" r="4.5" fill="url(#sph)"/>
</g>
<circle cx="478.0" cy="138.8" r="4.5" fill="url(#sph)"/>
<circle cx="486.2" cy="141.1" r="4.5" fill="url(#sph)"/>
<circle cx="494.4" cy="143.1" r="4.5" fill="url(#sph)"/>
<circle cx="502.6" cy="144.4" r="4.5" fill="url(#sph)"/>
<circle cx="510.8" cy="145.0" r="4.5" fill="url(#sph)"/>
<circle cx="519.0" cy="145.1" r="4.5" fill="url(#sph)"/>
<circle cx="527.2" cy="144.5" r="4.5" fill="url(#sph)"/>
<circle cx="535.4" cy="143.4" r="4.5" fill="url(#sph)"/>
<circle cx="543.6" cy="141.7" r="4.5" fill="url(#sph)"/>
<circle cx="551.8" cy="138.4" r="4.5" fill="url(#sph)"/>
<circle cx="560.0" cy="134.9" r="4.5" fill="url(#sph)"/>
<circle cx="568.2" cy="132.8" r="4.5" fill="url(#sph)"/>
<circle cx="576.4" cy="131.6" r="4.5" fill="url(#sph)"/>
<circle cx="584.6" cy="130.8" r="4.5" fill="url(#sph)"/>
<circle cx="592.8" cy="130.4" r="4.5" fill="url(#sph)"/>
<circle cx="601.0" cy="130.5" r="4.5" fill="url(#sph)"/>
<circle cx="609.2" cy="132.6" r="4.5" fill="url(#sph)"/>
<circle cx="617.4" cy="135.5" r="4.5" fill="url(#sph)"/>
<circle cx="625.6" cy="138.6" r="4.5" fill="url(#sph)"/>
<circle cx="633.8" cy="141.3" r="4.5" fill="url(#sph)"/>
<circle cx="642.0" cy="144.1" r="4.5" fill="url(#sph)"/>
<circle cx="650.2" cy="145.9" r="4.5" fill="url(#sph)"/>
<circle cx="658.4" cy="146.4" r="4.5" fill="url(#sph)"/>
<circle cx="666.6" cy="146.2" r="4.5" fill="url(#sph)"/>
<circle cx="674.8" cy="145.8" r="4.5" fill="url(#sph)"/>
<circle cx="683.0" cy="145.2" r="4.5" fill="url(#sph)"/>
<circle cx="691.2" cy="144.6" r="4.5" fill="url(#sph)"/>
<circle cx="699.4" cy="144.1" r="4.5" fill="url(#sph)"/>
<circle cx="707.6" cy="143.8" r="4.5" fill="url(#sph)"/>
<circle cx="715.8" cy="143.4" r="4.5" fill="url(#sph)"/>
<circle cx="724.0" cy="143.1" r="4.5" fill="url(#sph)"/>
<circle cx="732.2" cy="142.9" r="4.5" fill="url(#sph)"/>
<circle cx="740.4" cy="143.1" r="4.5" fill="url(#sph)"/>
<circle cx="748.6" cy="143.7" r="4.5" fill="url(#sph)"/>
<circle cx="756.8" cy="142.5" r="4.5" fill="url(#sph)"/>
<clipPath id="m4c"><path d="M443.5,339.0 L444.0,336.4 L444.4,333.0 L444.9,328.9 L445.6,324.3 L446.6,319.6 L448.0,314.8 L450.0,310.3 L452.7,306.2 L456.4,302.4 L461.1,298.7 L466.4,295.0 L472.2,291.4 L478.0,287.9 L483.6,284.6 L488.7,281.4 L493.0,278.5 L496.2,275.7 L498.3,273.0 L499.9,270.5 L501.4,268.2 L503.0,266.0 L505.2,264.0 L508.5,262.3 L513.2,260.8 L519.5,259.6 L527.0,258.7 L535.5,258.0 L544.6,257.6 L554.1,257.3 L563.6,257.1 L572.8,257.0 L581.4,257.0 L589.7,257.1 L598.1,257.4 L606.5,257.8 L614.8,258.3 L622.8,258.9 L630.5,259.5 L637.8,260.2 L644.4,260.8 L650.5,261.4 L656.1,262.1 L661.2,262.8 L666.0,263.6 L670.5,264.4 L674.7,265.2 L678.6,266.1 L682.3,267.0 L685.6,267.9 L688.4,268.9 L690.7,269.9 L692.9,270.9 L695.0,272.1 L697.2,273.3 L699.6,274.6 L702.5,276.0 L705.8,277.5 L709.3,278.9 L713.0,280.4 L716.8,282.1 L720.7,283.9 L724.7,285.9 L728.7,288.3 L732.7,291.1 L736.9,294.5 L741.5,298.7 L746.4,303.2 L751.1,308.0 L755.7,312.7 L759.7,317.1 L763.1,320.9 L765.5,323.9 L766.9,326.1 L767.3,327.6 L767.0,328.8 L766.3,329.5 L765.3,330.0 L764.3,330.3 L763.4,330.6 L763.0,331.0 L763.0,331.0 L762.6,332.2 L762.2,333.8 L761.8,335.9 L761.2,338.0 L760.3,340.2 L759.1,342.1 L757.3,343.7 L755.0,344.7 L751.9,345.1 L748.0,345.0 L743.5,344.6 L738.8,344.0 L733.8,343.3 L728.9,342.6 L724.2,342.1 L720.0,341.9 L716.3,342.0 L712.8,342.2 L709.6,342.5 L706.4,342.9 L703.2,343.4 L699.8,343.9 L696.1,344.3 L692.0,344.7 L687.3,345.1 L682.2,345.6 L676.7,346.1 L671.0,346.6 L665.3,347.1 L659.8,347.4 L654.7,347.6 L650.0,347.5 L645.8,347.2 L641.9,346.8 L638.2,346.3 L634.7,345.6 L631.4,344.8 L628.2,343.9 L625.1,342.9 L622.0,341.9 L619.0,340.7 L616.3,339.3 L613.6,337.7 L611.1,336.1 L608.6,334.5 L606.1,333.0 L603.6,331.6 L601.0,330.6 L598.4,329.8 L595.9,329.2 L593.4,328.7 L590.9,328.3 L588.4,328.1 L585.7,327.9 L583.0,327.8 L580.0,327.8 L576.8,327.8 L573.3,328.0 L569.6,328.2 L565.9,328.5 L562.1,328.9 L558.5,329.4 L555.1,329.9 L552.0,330.5 L549.2,331.2 L546.7,331.9 L544.3,332.8 L542.1,333.7 L539.9,334.7 L537.7,335.6 L535.4,336.5 L533.0,337.3 L530.5,338.1 L528.0,338.9 L525.4,339.6 L522.8,340.4 L520.2,341.1 L517.5,341.8 L514.8,342.4 L512.0,343.0 L509.1,343.6 L506.2,344.1 L503.2,344.6 L500.1,345.1 L497.1,345.5 L494.0,345.8 L491.0,346.1 L488.0,346.2 L485.1,346.2 L482.1,346.1 L479.2,345.9 L476.3,345.6 L473.5,345.2 L470.6,344.8 L467.8,344.4 L465.0,344.0 L462.1,343.5 L459.0,342.9 L455.9,342.3 L452.8,341.6 L449.9,341.0 L447.3,340.4 L445.1,339.9 L443.5,339.5Z"/></clipPath>
<path d="M443.5,339.0 L444.0,336.4 L444.4,333.0 L444.9,328.9 L445.6,324.3 L446.6,319.6 L448.0,314.8 L450.0,310.3 L452.7,306.2 L456.4,302.4 L461.1,298.7 L466.4,295.0 L472.2,291.4 L478.0,287.9 L483.6,284.6 L488.7,281.4 L493.0,278.5 L496.2,275.7 L498.3,273.0 L499.9,270.5 L501.4,268.2 L503.0,266.0 L505.2,264.0 L508.5,262.3 L513.2,260.8 L519.5,259.6 L527.0,258.7 L535.5,258.0 L544.6,257.6 L554.1,257.3 L563.6,257.1 L572.8,257.0 L581.4,257.0 L589.7,257.1 L598.1,257.4 L606.5,257.8 L614.8,258.3 L622.8,258.9 L630.5,259.5 L637.8,260.2 L644.4,260.8 L650.5,261.4 L656.1,262.1 L661.2,262.8 L666.0,263.6 L670.5,264.4 L674.7,265.2 L678.6,266.1 L682.3,267.0 L685.6,267.9 L688.4,268.9 L690.7,269.9 L692.9,270.9 L695.0,272.1 L697.2,273.3 L699.6,274.6 L702.5,276.0 L705.8,277.5 L709.3,278.9 L713.0,280.4 L716.8,282.1 L720.7,283.9 L724.7,285.9 L728.7,288.3 L732.7,291.1 L736.9,294.5 L741.5,298.7 L746.4,303.2 L751.1,308.0 L755.7,312.7 L759.7,317.1 L763.1,320.9 L765.5,323.9 L766.9,326.1 L767.3,327.6 L767.0,328.8 L766.3,329.5 L765.3,330.0 L764.3,330.3 L763.4,330.6 L763.0,331.0 L763.0,331.0 L762.6,332.2 L762.2,333.8 L761.8,335.9 L761.2,338.0 L760.3,340.2 L759.1,342.1 L757.3,343.7 L755.0,344.7 L751.9,345.1 L748.0,345.0 L743.5,344.6 L738.8,344.0 L733.8,343.3 L728.9,342.6 L724.2,342.1 L720.0,341.9 L716.3,342.0 L712.8,342.2 L709.6,342.5 L706.4,342.9 L703.2,343.4 L699.8,343.9 L696.1,344.3 L692.0,344.7 L687.3,345.1 L682.2,345.6 L676.7,346.1 L671.0,346.6 L665.3,347.1 L659.8,347.4 L654.7,347.6 L650.0,347.5 L645.8,347.2 L641.9,346.8 L638.2,346.3 L634.7,345.6 L631.4,344.8 L628.2,343.9 L625.1,342.9 L622.0,341.9 L619.0,340.7 L616.3,339.3 L613.6,337.7 L611.1,336.1 L608.6,334.5 L606.1,333.0 L603.6,331.6 L601.0,330.6 L598.4,329.8 L595.9,329.2 L593.4,328.7 L590.9,328.3 L588.4,328.1 L585.7,327.9 L583.0,327.8 L580.0,327.8 L576.8,327.8 L573.3,328.0 L569.6,328.2 L565.9,328.5 L562.1,328.9 L558.5,329.4 L555.1,329.9 L552.0,330.5 L549.2,331.2 L546.7,331.9 L544.3,332.8 L542.1,333.7 L539.9,334.7 L537.7,335.6 L535.4,336.5 L533.0,337.3 L530.5,338.1 L528.0,338.9 L525.4,339.6 L522.8,340.4 L520.2,341.1 L517.5,341.8 L514.8,342.4 L512.0,343.0 L509.1,343.6 L506.2,344.1 L503.2,344.6 L500.1,345.1 L497.1,345.5 L494.0,345.8 L491.0,346.1 L488.0,346.2 L485.1,346.2 L482.1,346.1 L479.2,345.9 L476.3,345.6 L473.5,345.2 L470.6,344.8 L467.8,344.4 L465.0,344.0 L462.1,343.5 L459.0,342.9 L455.9,342.3 L452.8,341.6 L449.9,341.0 L447.3,340.4 L445.1,339.9 L443.5,339.5Z" fill="#20a4dc"/>
<g clip-path="url(#m4c)">
<path d="M443.5,339.0L443.5,310.5M444.4,333.4L445.7,311.0M445.1,327.7L447.8,311.6M446.0,322.1L450.0,312.2M447.5,316.6L452.6,312.8M449.6,311.3L455.5,313.5M452.6,306.4L459.1,314.4M456.5,302.3L463.3,315.3M461.0,298.7L467.8,316.1M465.7,295.5L472.5,316.9M470.5,292.4L477.3,317.6M475.4,289.5L482.0,318.2M480.3,286.6L486.9,318.4M485.2,283.6L491.7,318.4M490.0,280.6L496.4,318.1M494.5,277.1L501.0,317.6M498.4,273.0L505.1,317.0M501.4,268.1L508.7,316.5M505.3,264.0L512.8,315.8M510.5,261.7L517.8,314.8M516.0,260.3L523.0,313.5M521.6,259.3L528.3,312.1M527.3,258.7L533.6,310.6M533.0,258.2L539.0,308.7M538.7,257.9L544.3,306.7M544.4,257.6L549.6,305.1M550.1,257.4L554.9,304.1M555.8,257.2L560.3,303.5M561.5,257.1L565.6,303.0M567.2,257.1L570.9,302.7M572.9,257.0L576.3,302.6M578.6,257.0L581.6,302.7M584.3,257.0L586.9,303.0M590.1,257.1L592.2,303.7M595.8,257.3L597.6,304.9M601.5,257.5L602.9,306.9M607.2,257.8L608.2,309.9M612.9,258.2L613.5,313.4M618.6,258.6L618.9,316.5M624.2,259.0L624.2,318.7M629.9,259.5L629.5,320.5M635.6,260.0L634.8,322.0M641.3,260.5L640.1,323.1M647.0,261.1L645.5,323.9M652.7,261.7L650.8,324.3M658.3,262.4L656.1,324.5M664.0,263.3L661.4,324.4M669.6,264.2L666.6,324.3M675.2,265.3L671.9,324.0M680.7,266.6L677.1,323.7M686.2,268.2L682.3,323.3M691.5,270.3L687.4,323.0M696.6,272.9L692.3,322.7M701.6,275.6L697.2,322.3M706.8,277.9L702.2,321.8M712.1,280.1L707.2,321.3M717.4,282.3L712.3,320.8M722.5,284.8L717.2,320.7M727.5,287.6L722.1,320.8M732.2,290.8L726.8,321.3M736.7,294.3L731.3,322.0M741.0,298.1L735.7,322.8M745.1,302.0L740.0,323.5M749.2,306.0L744.3,324.2M753.2,310.1L748.5,324.6M757.1,314.3L752.7,324.7M760.9,318.5L756.8,323.7M764.6,322.8L760.8,318.9M767.3,327.8L764.2,311.0M763.0,331.0L763.0,311.0" stroke="#25b6e8" stroke-width="3.8" fill="none"/>
<path d="M443.5,339.0L443.5,310.5M444.4,333.4L445.7,311.0M445.1,327.7L447.8,311.6M446.0,322.1L450.0,312.2M447.5,316.6L452.6,312.8M449.6,311.3L455.5,313.5M452.6,306.4L459.1,314.4M456.5,302.3L463.3,315.3M461.0,298.7L467.8,316.1M465.7,295.5L472.5,316.9M470.5,292.4L477.3,317.6M475.4,289.5L482.0,318.2M480.3,286.6L486.9,318.4M485.2,283.6L491.7,318.4M490.0,280.6L496.4,318.1M494.5,277.1L501.0,317.6M498.4,273.0L505.1,317.0M501.4,268.1L508.7,316.5M505.3,264.0L512.8,315.8M510.5,261.7L517.8,314.8M516.0,260.3L523.0,313.5M521.6,259.3L528.3,312.1M527.3,258.7L533.6,310.6M533.0,258.2L539.0,308.7M538.7,257.9L544.3,306.7M544.4,257.6L549.6,305.1M550.1,257.4L554.9,304.1M555.8,257.2L560.3,303.5M561.5,257.1L565.6,303.0M567.2,257.1L570.9,302.7M572.9,257.0L576.3,302.6M578.6,257.0L581.6,302.7M584.3,257.0L586.9,303.0M590.1,257.1L592.2,303.7M595.8,257.3L597.6,304.9M601.5,257.5L602.9,306.9M607.2,257.8L608.2,309.9M612.9,258.2L613.5,313.4M618.6,258.6L618.9,316.5M624.2,259.0L624.2,318.7M629.9,259.5L629.5,320.5M635.6,260.0L634.8,322.0M641.3,260.5L640.1,323.1M647.0,261.1L645.5,323.9M652.7,261.7L650.8,324.3M658.3,262.4L656.1,324.5M664.0,263.3L661.4,324.4M669.6,264.2L666.6,324.3M675.2,265.3L671.9,324.0M680.7,266.6L677.1,323.7M686.2,268.2L682.3,323.3M691.5,270.3L687.4,323.0M696.6,272.9L692.3,322.7M701.6,275.6L697.2,322.3M706.8,277.9L702.2,321.8M712.1,280.1L707.2,321.3M717.4,282.3L712.3,320.8M722.5,284.8L717.2,320.7M727.5,287.6L722.1,320.8M732.2,290.8L726.8,321.3M736.7,294.3L731.3,322.0M741.0,298.1L735.7,322.8M745.1,302.0L740.0,323.5M749.2,306.0L744.3,324.2M753.2,310.1L748.5,324.6M757.1,314.3L752.7,324.7M760.9,318.5L756.8,323.7M764.6,322.8L760.8,318.9M767.3,327.8L764.2,311.0M763.0,331.0L763.0,311.0" stroke="#38c8f2" stroke-width="4.3" stroke-linecap="round" stroke-dasharray="0.01 4.6" fill="none"/>
<path d="M442.8,338.3L442.8,309.8M443.7,332.7L445.0,310.3M444.4,327.0L447.1,310.9M445.3,321.4L449.3,311.5M446.8,315.9L451.9,312.1M448.9,310.6L454.8,312.8M451.9,305.7L458.4,313.7M455.8,301.6L462.6,314.6M460.3,298.0L467.1,315.4M465.0,294.8L471.8,316.2M469.8,291.7L476.6,316.9M474.7,288.8L481.3,317.5M479.6,285.9L486.2,317.7M484.5,282.9L491.0,317.7M489.3,279.9L495.7,317.4M493.8,276.4L500.3,316.9M497.7,272.3L504.4,316.3M500.7,267.4L508.0,315.8M504.6,263.3L512.1,315.1M509.8,261.0L517.1,314.1M515.3,259.6L522.3,312.8M520.9,258.6L527.6,311.4M526.6,258.0L532.9,309.9M532.3,257.5L538.3,308.0M538.0,257.2L543.6,306.0M543.7,256.9L548.9,304.4M549.4,256.7L554.2,303.4M555.1,256.5L559.6,302.8M560.8,256.4L564.9,302.3M566.5,256.4L570.2,302.0M572.2,256.3L575.6,301.9M577.9,256.3L580.9,302.0M583.6,256.3L586.2,302.3M589.4,256.4L591.5,303.0M595.1,256.6L596.9,304.2M600.8,256.8L602.2,306.2M606.5,257.1L607.5,309.2M612.2,257.5L612.8,312.7M617.9,257.9L618.2,315.8M623.5,258.3L623.5,318.0M629.2,258.8L628.8,319.8M634.9,259.3L634.1,321.3M640.6,259.8L639.4,322.4M646.3,260.4L644.8,323.2M652.0,261.0L650.1,323.6M657.6,261.7L655.4,323.8M663.3,262.6L660.7,323.7M668.9,263.5L665.9,323.6M674.5,264.6L671.2,323.3M680.0,265.9L676.4,323.0M685.5,267.5L681.6,322.6M690.8,269.6L686.7,322.3M695.9,272.2L691.6,322.0M700.9,274.9L696.5,321.6M706.1,277.2L701.5,321.1M711.4,279.4L706.5,320.6M716.7,281.6L711.6,320.1M721.8,284.1L716.5,320.0M726.8,286.9L721.4,320.1M731.5,290.1L726.1,320.6M736.0,293.6L730.6,321.3M740.3,297.4L735.0,322.1M744.4,301.3L739.3,322.8M748.5,305.3L743.6,323.5M752.5,309.4L747.8,323.9M756.4,313.6L752.0,324.0M760.2,317.8L756.1,323.0M763.9,322.1L760.1,318.2M766.6,327.1L763.5,310.3M762.3,330.3L762.3,310.3" stroke="#72e0fb" stroke-width="1.9" stroke-linecap="round" stroke-dasharray="0.01 4.6" fill="none" opacity="0.8"/>
<path d="M603.0,318.0 L602.8,315.1 L602.1,310.9 L601.3,305.9 L600.6,300.6 L600.3,295.2 L600.7,290.2 L602.2,286.0 L605.0,283.0 L609.2,281.2 L614.6,280.3 L621.0,280.1 L628.2,280.3 L635.9,280.8 L643.9,281.4 L652.0,281.8 L660.0,282.0 L668.5,281.9 L677.9,281.7 L687.8,281.4 L697.8,281.2 L707.6,281.2 L716.6,281.2 L724.6,281.5 L731.0,282.0 L735.8,282.7 L739.2,283.5 L741.7,284.4 L743.4,285.6 L744.7,286.9 L745.8,288.6 L747.2,290.6 L749.0,293.0 L751.3,296.1 L753.7,300.1 L756.2,304.5 L758.6,309.2 L760.9,313.8 L763.0,318.0 L764.7,321.5 L766.0,324.0" stroke="#1680bd" stroke-width="5" fill="none" opacity="0.55" transform="translate(0,-1.5)"/>
<path d="M603.0,318.0 L602.8,315.1 L602.1,310.9 L601.3,305.9 L600.6,300.6 L600.3,295.2 L600.7,290.2 L602.2,286.0 L605.0,283.0 L609.2,281.2 L614.6,280.3 L621.0,280.1 L628.2,280.3 L635.9,280.8 L643.9,281.4 L652.0,281.8 L660.0,282.0 L668.5,281.9 L677.9,281.7 L687.8,281.4 L697.8,281.2 L707.6,281.2 L716.6,281.2 L724.6,281.5 L731.0,282.0 L735.8,282.7 L739.2,283.5 L741.7,284.4 L743.4,285.6 L744.7,286.9 L745.8,288.6 L747.2,290.6 L749.0,293.0 L751.3,296.1 L753.7,300.1 L756.2,304.5 L758.6,309.2 L760.9,313.8 L763.0,318.0 L764.7,321.5 L766.0,324.0 L766.0,312.1 L760.4,321.0 L754.8,325.5 L749.1,325.7 L743.5,325.1 L737.9,324.2 L732.3,323.2 L726.7,322.3 L721.0,321.8 L715.4,321.7 L709.8,322.0 L704.2,322.6 L698.6,323.2 L692.9,323.6 L687.3,324.0 L681.7,324.4 L676.1,324.7 L670.4,325.1 L664.8,325.3 L659.2,325.5 L653.6,325.5 L648.0,325.1 L642.3,324.5 L636.7,323.4 L631.1,322.0 L625.5,320.2 L619.9,318.0 L614.2,314.9 L608.6,311.2 L603.0,307.9Z" fill="#20a4dc"/>
<path d="M603.0,318.0L603.0,307.9M602.3,312.2L607.0,310.2M601.4,306.5L610.8,312.6M600.6,300.7L614.7,315.1M600.3,294.9L618.7,317.3M601.1,289.2L622.8,319.2M603.8,284.2L627.1,320.7M608.8,281.4L631.5,322.1M614.5,280.4L635.9,323.2M620.3,280.1L640.4,324.1M626.1,280.2L644.9,324.8M631.9,280.6L649.5,325.2M637.7,280.9L654.0,325.5M643.5,281.4L658.6,325.5M649.3,281.7L663.2,325.4M655.1,281.9L667.8,325.2M660.9,282.0L672.3,324.9M666.8,281.9L676.9,324.7M672.6,281.8L681.4,324.4M678.4,281.7L686.0,324.1M684.2,281.5L690.6,323.8M690.0,281.4L695.1,323.5M695.8,281.3L699.7,323.1M701.6,281.2L704.2,322.6M707.4,281.2L708.8,322.1M713.2,281.2L713.3,321.8M719.1,281.3L717.9,321.7M724.9,281.5L722.5,321.9M730.7,282.0L727.0,322.4M736.4,282.9L731.5,323.1M741.9,284.6L736.0,323.8M745.9,288.7L740.6,324.6M749.3,293.4L745.1,325.2M752.6,298.2L749.6,325.6M755.5,303.3L754.2,325.5M758.2,308.4L757.9,323.0M760.8,313.6L761.1,319.8M763.4,318.8L763.6,315.9M766.0,324.0L766.0,312.1" stroke="#25b6e8" stroke-width="3.8" fill="none"/>
<path d="M603.0,318.0L603.0,307.9M602.3,312.2L607.0,310.2M601.4,306.5L610.8,312.6M600.6,300.7L614.7,315.1M600.3,294.9L618.7,317.3M601.1,289.2L622.8,319.2M603.8,284.2L627.1,320.7M608.8,281.4L631.5,322.1M614.5,280.4L635.9,323.2M620.3,280.1L640.4,324.1M626.1,280.2L644.9,324.8M631.9,280.6L649.5,325.2M637.7,280.9L654.0,325.5M643.5,281.4L658.6,325.5M649.3,281.7L663.2,325.4M655.1,281.9L667.8,325.2M660.9,282.0L672.3,324.9M666.8,281.9L676.9,324.7M672.6,281.8L681.4,324.4M678.4,281.7L686.0,324.1M684.2,281.5L690.6,323.8M690.0,281.4L695.1,323.5M695.8,281.3L699.7,323.1M701.6,281.2L704.2,322.6M707.4,281.2L708.8,322.1M713.2,281.2L713.3,321.8M719.1,281.3L717.9,321.7M724.9,281.5L722.5,321.9M730.7,282.0L727.0,322.4M736.4,282.9L731.5,323.1M741.9,284.6L736.0,323.8M745.9,288.7L740.6,324.6M749.3,293.4L745.1,325.2M752.6,298.2L749.6,325.6M755.5,303.3L754.2,325.5M758.2,308.4L757.9,323.0M760.8,313.6L761.1,319.8M763.4,318.8L763.6,315.9M766.0,324.0L766.0,312.1" stroke="#38c8f2" stroke-width="4.3" stroke-linecap="round" stroke-dasharray="0.01 4.6" fill="none"/>
<path d="M602.3,317.3L602.3,307.2M601.6,311.5L606.3,309.5M600.7,305.8L610.1,311.9M599.9,300.0L614.0,314.4M599.6,294.2L618.0,316.6M600.4,288.5L622.1,318.5M603.1,283.5L626.4,320.0M608.1,280.7L630.8,321.4M613.8,279.7L635.2,322.5M619.6,279.4L639.7,323.4M625.4,279.5L644.2,324.1M631.2,279.9L648.8,324.5M637.0,280.2L653.3,324.8M642.8,280.7L657.9,324.8M648.6,281.0L662.5,324.7M654.4,281.2L667.1,324.5M660.2,281.3L671.6,324.2M666.1,281.2L676.2,324.0M671.9,281.1L680.7,323.7M677.7,281.0L685.3,323.4M683.5,280.8L689.9,323.1M689.3,280.7L694.4,322.8M695.1,280.6L699.0,322.4M700.9,280.5L703.5,321.9M706.7,280.5L708.1,321.4M712.5,280.5L712.6,321.1M718.4,280.6L717.2,321.0M724.2,280.8L721.8,321.2M730.0,281.3L726.3,321.7M735.7,282.2L730.8,322.4M741.2,283.9L735.3,323.1M745.2,288.0L739.9,323.9M748.6,292.7L744.4,324.5M751.9,297.5L748.9,324.9M754.8,302.6L753.5,324.8M757.5,307.7L757.2,322.3M760.1,312.9L760.4,319.1M762.7,318.1L762.9,315.2M765.3,323.3L765.3,311.4" stroke="#72e0fb" stroke-width="1.9" stroke-linecap="round" stroke-dasharray="0.01 4.6" fill="none" opacity="0.8"/>
<path d="M603.0,318.0 L602.8,315.1 L602.1,310.9 L601.3,305.9 L600.6,300.6 L600.3,295.2 L600.7,290.2 L602.2,286.0 L605.0,283.0 L609.2,281.2 L614.6,280.3 L621.0,280.1 L628.2,280.3 L635.9,280.8 L643.9,281.4 L652.0,281.8 L660.0,282.0 L668.5,281.9 L677.9,281.7 L687.8,281.4 L697.8,281.2 L707.6,281.2 L716.6,281.2 L724.6,281.5 L731.0,282.0 L735.8,282.7 L739.2,283.5 L741.7,284.4 L743.4,285.6 L744.7,286.9 L745.8,288.6 L747.2,290.6 L749.0,293.0 L751.3,296.1 L753.7,300.1 L756.2,304.5 L758.6,309.2 L760.9,313.8 L763.0,318.0 L764.7,321.5 L766.0,324.0" stroke="#58d8fa" stroke-width="4.4" stroke-linecap="round" stroke-dasharray="0.01 5" fill="none"/>
<path d="M443.5,308.5 L448.9,309.9 L454.3,311.2 L459.7,312.5 L465.2,313.6 L470.6,314.6 L476.0,315.5 L481.4,316.1 L486.8,316.4 L492.2,316.3 L497.7,316.0 L503.1,315.3 L508.5,314.5 L513.9,313.6 L519.3,312.5 L524.7,311.1 L530.1,309.6 L535.6,308.0 L541.0,305.9 L546.4,303.9 L551.8,302.6 L557.2,301.8 L562.6,301.2 L568.1,300.9 L573.5,300.6 L578.9,300.6 L584.3,300.8 L589.7,301.3 L595.1,302.3 L600.5,303.9 L606.0,306.5 L611.4,310.0 L616.8,313.4 L622.2,316.0 L627.6,317.9 L633.0,319.5 L638.4,320.8 L643.9,321.7 L649.3,322.3 L654.7,322.5 L660.1,322.5 L665.5,322.3 L670.9,322.0 L676.4,321.7 L681.8,321.3 L687.2,321.0 L692.6,320.7 L698.0,320.3 L703.4,319.7 L708.8,319.1 L714.3,318.7 L719.7,318.7 L725.1,319.1 L730.5,319.9 L735.9,320.8 L741.3,321.7 L746.8,322.5 L752.2,322.8 L757.6,321.3 L763.0,309.0 L763.0,331.0 L757.6,343.5 L752.2,345.1 L746.8,344.9 L741.3,344.3 L735.9,343.6 L730.5,342.8 L725.1,342.2 L719.7,341.9 L714.3,342.1 L708.8,342.6 L703.4,343.4 L698.0,344.1 L692.6,344.6 L687.2,345.1 L681.8,345.6 L676.4,346.1 L670.9,346.6 L665.5,347.1 L660.1,347.4 L654.7,347.6 L649.3,347.5 L643.9,347.0 L638.4,346.3 L633.0,345.2 L627.6,343.7 L622.2,342.0 L616.8,339.5 L611.4,336.3 L606.0,332.9 L600.5,330.5 L595.1,329.0 L589.7,328.2 L584.3,327.9 L578.9,327.8 L573.5,328.0 L568.1,328.4 L562.6,328.9 L557.2,329.6 L551.8,330.5 L546.4,332.0 L541.0,334.2 L535.6,336.4 L530.1,338.2 L524.7,339.8 L519.3,341.3 L513.9,342.6 L508.5,343.7 L503.1,344.6 L497.7,345.4 L492.2,346.0 L486.8,346.2 L481.4,346.0 L476.0,345.5 L470.6,344.8 L465.2,344.0 L459.7,343.1 L454.3,341.9 L448.9,340.7 L443.5,339.5Z" fill="#24a8de"/>
<path d="M444.5,319.0L444.5,330.9M446.5,319.0L446.5,330.9M453.5,321.3L453.5,333.0M455.5,321.3L455.5,333.0M462.5,323.3L462.5,334.8M464.5,323.3L464.5,334.8M471.5,324.9L471.5,336.1M473.5,324.9L473.5,336.1M480.5,326.1L480.5,337.0M482.5,326.1L482.5,337.0M489.5,326.4L489.5,337.1M491.5,326.4L491.5,337.1M498.5,325.8L498.5,336.2M500.5,325.8L500.5,336.2M507.5,324.5L507.5,334.7M509.5,324.5L509.5,334.7M516.5,322.9L516.5,332.8M518.5,322.9L518.5,332.8M525.5,320.6L525.5,330.3M527.5,320.6L527.5,330.3M534.5,318.0L534.5,327.4M536.5,318.0L536.5,327.4M543.5,314.6L543.5,323.7M545.5,314.6L545.5,323.7M552.5,312.3L552.5,321.2M554.5,312.3L554.5,321.2M561.5,311.3L561.5,319.9M563.5,311.3L563.5,319.9M570.5,310.7L570.5,319.1M572.5,310.7L572.5,319.1M579.5,310.7L579.5,318.8M581.5,310.7L581.5,318.8M588.5,311.3L588.5,319.2M590.5,311.3L590.5,319.2M597.5,313.2L597.5,320.8M599.5,313.2L599.5,320.8M606.5,317.4L606.5,324.8M608.5,317.4L608.5,324.8M615.5,323.3L615.5,330.4M617.5,323.3L617.5,330.4M624.5,327.2L624.5,334.1M626.5,327.2L626.5,334.1M633.5,329.9L633.5,336.5M635.5,329.9L635.5,336.5M642.5,331.6L642.5,338.0M644.5,331.6L644.5,338.0M651.5,332.4L651.5,338.5M653.5,332.4L653.5,338.5M660.5,332.4L660.5,338.3M662.5,332.4L662.5,338.3M669.5,332.1L669.5,337.7M671.5,332.1L671.5,337.7M678.5,331.5L678.5,336.8M680.5,331.5L680.5,336.8M687.5,330.9L687.5,336.0M689.5,330.9L689.5,336.0M696.5,330.3L696.5,335.1M698.5,330.3L698.5,335.1M705.5,329.4L705.5,333.9M707.5,329.4L707.5,333.9M714.5,328.7L714.5,333.0M716.5,328.7L716.5,333.0M723.5,329.0L723.5,333.1M725.5,329.0L725.5,333.1M732.5,330.4L732.5,334.2M734.5,330.4L734.5,334.2M741.5,331.9L741.5,335.5M743.5,331.9L743.5,335.5M750.5,332.8L750.5,336.1M752.5,332.8L752.5,336.1M759.5,327.7L759.5,330.7M761.5,327.7L761.5,330.7" stroke="#4cc8f2" stroke-width="1" fill="none"/>
<circle cx="450.0" cy="315.2" r="5.0" fill="url(#sph)"/>
<circle cx="459.0" cy="317.4" r="5.0" fill="url(#sph)"/>
<circle cx="468.0" cy="319.1" r="5.0" fill="url(#sph)"/>
<circle cx="477.0" cy="320.6" r="5.0" fill="url(#sph)"/>
<circle cx="486.0" cy="321.4" r="5.0" fill="url(#sph)"/>
<circle cx="495.0" cy="321.2" r="5.0" fill="url(#sph)"/>
<circle cx="504.0" cy="320.2" r="5.0" fill="url(#sph)"/>
<circle cx="513.0" cy="318.7" r="5.0" fill="url(#sph)"/>
<circle cx="522.0" cy="316.8" r="5.0" fill="url(#sph)"/>
<circle cx="531.0" cy="314.4" r="5.0" fill="url(#sph)"/>
<circle cx="540.0" cy="311.3" r="5.0" fill="url(#sph)"/>
<circle cx="549.0" cy="308.2" r="5.0" fill="url(#sph)"/>
<circle cx="558.0" cy="306.7" r="5.0" fill="url(#sph)"/>
<circle cx="567.0" cy="305.9" r="5.0" fill="url(#sph)"/>
<circle cx="576.0" cy="305.6" r="5.0" fill="url(#sph)"/>
<circle cx="585.0" cy="305.9" r="5.0" fill="url(#sph)"/>
<circle cx="594.0" cy="307.0" r="5.0" fill="url(#sph)"/>
<circle cx="603.0" cy="309.9" r="5.0" fill="url(#sph)"/>
<circle cx="612.0" cy="315.4" r="5.0" fill="url(#sph)"/>
<circle cx="621.0" cy="320.5" r="5.0" fill="url(#sph)"/>
<circle cx="630.0" cy="323.7" r="5.0" fill="url(#sph)"/>
<circle cx="639.0" cy="325.9" r="5.0" fill="url(#sph)"/>
<circle cx="648.0" cy="327.1" r="5.0" fill="url(#sph)"/>
<circle cx="657.0" cy="327.5" r="5.0" fill="url(#sph)"/>
<circle cx="666.0" cy="327.3" r="5.0" fill="url(#sph)"/>
<circle cx="675.0" cy="326.8" r="5.0" fill="url(#sph)"/>
<circle cx="684.0" cy="326.2" r="5.0" fill="url(#sph)"/>
<circle cx="693.0" cy="325.6" r="5.0" fill="url(#sph)"/>
<circle cx="702.0" cy="324.9" r="5.0" fill="url(#sph)"/>
<circle cx="711.0" cy="323.9" r="5.0" fill="url(#sph)"/>
<circle cx="720.0" cy="323.7" r="5.0" fill="url(#sph)"/>
<circle cx="729.0" cy="324.7" r="5.0" fill="url(#sph)"/>
<circle cx="738.0" cy="326.2" r="5.0" fill="url(#sph)"/>
<circle cx="747.0" cy="327.5" r="5.0" fill="url(#sph)"/>
<circle cx="756.0" cy="327.1" r="5.0" fill="url(#sph)"/>
</g>
<circle cx="445.5" cy="336.1" r="5.0" fill="url(#sph)"/>
<circle cx="454.5" cy="338.2" r="5.0" fill="url(#sph)"/>
<circle cx="463.5" cy="340.0" r="5.0" fill="url(#sph)"/>
<circle cx="472.5" cy="341.3" r="5.0" fill="url(#sph)"/>
<circle cx="481.5" cy="342.2" r="5.0" fill="url(#sph)"/>
<circle cx="490.5" cy="342.3" r="5.0" fill="url(#sph)"/>
<circle cx="499.5" cy="341.4" r="5.0" fill="url(#sph)"/>
<circle cx="508.5" cy="339.9" r="5.0" fill="url(#sph)"/>
<circle cx="517.5" cy="338.0" r="5.0" fill="url(#sph)"/>
<circle cx="526.5" cy="335.5" r="5.0" fill="url(#sph)"/>
<circle cx="535.5" cy="332.6" r="5.0" fill="url(#sph)"/>
<circle cx="544.5" cy="328.9" r="5.0" fill="url(#sph)"/>
<circle cx="553.5" cy="326.4" r="5.0" fill="url(#sph)"/>
<circle cx="562.5" cy="325.1" r="5.0" fill="url(#sph)"/>
<circle cx="571.5" cy="324.3" r="5.0" fill="url(#sph)"/>
<circle cx="580.5" cy="324.0" r="5.0" fill="url(#sph)"/>
<circle cx="589.5" cy="324.4" r="5.0" fill="url(#sph)"/>
<circle cx="598.5" cy="326.0" r="5.0" fill="url(#sph)"/>
<circle cx="607.5" cy="330.0" r="5.0" fill="url(#sph)"/>
<circle cx="616.5" cy="335.6" r="5.0" fill="url(#sph)"/>
<circle cx="625.5" cy="339.3" r="5.0" fill="url(#sph)"/>
<circle cx="634.5" cy="341.7" r="5.0" fill="url(#sph)"/>
<circle cx="643.5" cy="343.2" r="5.0" fill="url(#sph)"/>
<circle cx="652.5" cy="343.7" r="5.0" fill="url(#sph)"/>
<circle cx="661.5" cy="343.5" r="5.0" fill="url(#sph)"/>
<circle cx="670.5" cy="342.9" r="5.0" fill="url(#sph)"/>
<circle cx="679.5" cy="342.0" r="5.0" fill="url(#sph)"/>
<circle cx="688.5" cy="341.2" r="5.0" fill="url(#sph)"/>
<circle cx="697.5" cy="340.3" r="5.0" fill="url(#sph)"/>
<circle cx="706.5" cy="339.1" r="5.0" fill="url(#sph)"/>
<circle cx="715.5" cy="338.2" r="5.0" fill="url(#sph)"/>
<circle cx="724.5" cy="338.3" r="5.0" fill="url(#sph)"/>
<circle cx="733.5" cy="339.4" r="5.0" fill="url(#sph)"/>
<circle cx="742.5" cy="340.7" r="5.0" fill="url(#sph)"/>
<circle cx="751.5" cy="341.3" r="5.0" fill="url(#sph)"/>
<circle cx="760.5" cy="335.9" r="5.0" fill="url(#sph)"/>
<clipPath id="m5c"><path d="M428.0,720.0 L428.5,717.8 L428.9,714.7 L429.5,711.1 L430.2,707.1 L431.1,702.9 L432.4,698.9 L434.1,695.1 L436.4,691.8 L439.4,689.0 L443.2,686.5 L447.5,684.2 L452.1,682.0 L456.8,679.9 L461.3,677.6 L465.5,675.3 L469.1,672.7 L471.9,669.7 L474.0,666.5 L475.7,663.0 L477.3,659.5 L479.0,656.1 L481.3,652.9 L484.2,650.2 L488.2,648.1 L493.2,646.6 L499.0,645.6 L505.4,645.0 L512.4,644.7 L519.7,644.5 L527.3,644.4 L535.0,644.3 L542.7,644.0 L550.7,643.6 L559.2,643.1 L568.1,642.7 L577.1,642.3 L586.1,642.0 L594.8,641.7 L603.1,641.4 L610.8,641.3 L618.1,641.2 L625.2,641.1 L632.0,641.0 L638.6,641.0 L644.7,641.1 L650.4,641.4 L655.5,641.9 L659.9,642.7 L663.5,643.8 L666.3,645.3 L668.4,647.0 L670.1,648.9 L671.6,650.9 L673.0,652.8 L674.5,654.6 L676.3,656.3 L678.3,657.8 L680.1,659.1 L681.9,660.3 L683.8,661.6 L685.7,662.8 L687.8,664.2 L690.0,665.6 L692.6,667.2 L695.5,668.9 L698.8,670.7 L702.3,672.5 L705.9,674.4 L709.6,676.4 L713.2,678.6 L716.7,681.0 L719.9,683.6 L723.1,686.7 L726.4,690.2 L729.6,694.1 L732.8,698.0 L735.7,701.9 L738.3,705.5 L740.4,708.6 L742.0,711.0 L742.9,712.7 L743.1,713.9 L742.9,714.7 L742.4,715.2 L741.7,715.5 L740.9,715.6 L740.3,715.8 L740.0,716.0 L740.0,716.0 L739.8,716.8 L739.8,718.1 L739.8,719.5 L739.7,721.1 L739.3,722.6 L738.5,724.1 L737.1,725.2 L735.0,726.0 L732.0,726.4 L728.2,726.4 L723.8,726.2 L718.9,725.8 L713.9,725.4 L709.0,725.1 L704.2,724.8 L700.0,724.8 L696.3,725.0 L692.8,725.2 L689.6,725.6 L686.4,726.0 L683.2,726.4 L679.8,726.9 L676.1,727.3 L672.0,727.7 L667.3,728.1 L662.2,728.6 L656.7,729.1 L651.0,729.6 L645.3,730.1 L639.8,730.4 L634.7,730.6 L630.0,730.5 L625.8,730.2 L621.9,729.8 L618.2,729.2 L614.7,728.5 L611.4,727.7 L608.2,726.8 L605.1,725.8 L602.0,724.8 L599.1,723.6 L596.4,722.2 L593.9,720.6 L591.4,719.0 L589.0,717.4 L586.5,715.9 L583.8,714.6 L581.0,713.6 L577.9,712.8 L574.7,712.2 L571.3,711.8 L567.8,711.4 L564.4,711.2 L561.0,711.1 L557.7,711.0 L554.5,711.0 L551.5,711.1 L548.5,711.2 L545.5,711.5 L542.7,711.8 L539.9,712.2 L537.1,712.7 L534.5,713.2 L532.0,713.8 L529.6,714.5 L527.5,715.2 L525.4,716.1 L523.5,717.0 L521.5,717.9 L519.5,718.8 L517.3,719.7 L515.0,720.5 L512.5,721.3 L509.9,722.1 L507.1,722.9 L504.3,723.6 L501.5,724.4 L498.7,725.0 L495.8,725.7 L493.0,726.2 L490.2,726.7 L487.4,727.2 L484.6,727.6 L481.8,727.9 L479.0,728.2 L476.1,728.4 L473.3,728.5 L470.5,728.4 L467.7,728.2 L464.8,727.7 L462.0,727.2 L459.1,726.6 L456.3,725.9 L453.4,725.2 L450.7,724.6 L448.0,724.0 L445.2,723.5 L442.4,723.0 L439.4,722.5 L436.6,722.0 L433.9,721.5 L431.5,721.1 L429.5,720.8 L428.0,720.5Z"/></clipPath>
<path d="M428.0,720.0 L428.5,717.8 L428.9,714.7 L429.5,711.1 L430.2,707.1 L431.1,702.9 L432.4,698.9 L434.1,695.1 L436.4,691.8 L439.4,689.0 L443.2,686.5 L447.5,684.2 L452.1,682.0 L456.8,679.9 L461.3,677.6 L465.5,675.3 L469.1,672.7 L471.9,669.7 L474.0,666.5 L475.7,663.0 L477.3,659.5 L479.0,656.1 L481.3,652.9 L484.2,650.2 L488.2,648.1 L493.2,646.6 L499.0,645.6 L505.4,645.0 L512.4,644.7 L519.7,644.5 L527.3,644.4 L535.0,644.3 L542.7,644.0 L550.7,643.6 L559.2,643.1 L568.1,642.7 L577.1,642.3 L586.1,642.0 L594.8,641.7 L603.1,641.4 L610.8,641.3 L618.1,641.2 L625.2,641.1 L632.0,641.0 L638.6,641.0 L644.7,641.1 L650.4,641.4 L655.5,641.9 L659.9,642.7 L663.5,643.8 L666.3,645.3 L668.4,647.0 L670.1,648.9 L671.6,650.9 L673.0,652.8 L674.5,654.6 L676.3,656.3 L678.3,657.8 L680.1,659.1 L681.9,660.3 L683.8,661.6 L685.7,662.8 L687.8,664.2 L690.0,665.6 L692.6,667.2 L695.5,668.9 L698.8,670.7 L702.3,672.5 L705.9,674.4 L709.6,676.4 L713.2,678.6 L716.7,681.0 L719.9,683.6 L723.1,686.7 L726.4,690.2 L729.6,694.1 L732.8,698.0 L735.7,701.9 L738.3,705.5 L740.4,708.6 L742.0,711.0 L742.9,712.7 L743.1,713.9 L742.9,714.7 L742.4,715.2 L741.7,715.5 L740.9,715.6 L740.3,715.8 L740.0,716.0 L740.0,716.0 L739.8,716.8 L739.8,718.1 L739.8,719.5 L739.7,721.1 L739.3,722.6 L738.5,724.1 L737.1,725.2 L735.0,726.0 L732.0,726.4 L728.2,726.4 L723.8,726.2 L718.9,725.8 L713.9,725.4 L709.0,725.1 L704.2,724.8 L700.0,724.8 L696.3,725.0 L692.8,725.2 L689.6,725.6 L686.4,726.0 L683.2,726.4 L679.8,726.9 L676.1,727.3 L672.0,727.7 L667.3,728.1 L662.2,728.6 L656.7,729.1 L651.0,729.6 L645.3,730.1 L639.8,730.4 L634.7,730.6 L630.0,730.5 L625.8,730.2 L621.9,729.8 L618.2,729.2 L614.7,728.5 L611.4,727.7 L608.2,726.8 L605.1,725.8 L602.0,724.8 L599.1,723.6 L596.4,722.2 L593.9,720.6 L591.4,719.0 L589.0,717.4 L586.5,715.9 L583.8,714.6 L581.0,713.6 L577.9,712.8 L574.7,712.2 L571.3,711.8 L567.8,711.4 L564.4,711.2 L561.0,711.1 L557.7,711.0 L554.5,711.0 L551.5,711.1 L548.5,711.2 L545.5,711.5 L542.7,711.8 L539.9,712.2 L537.1,712.7 L534.5,713.2 L532.0,713.8 L529.6,714.5 L527.5,715.2 L525.4,716.1 L523.5,717.0 L521.5,717.9 L519.5,718.8 L517.3,719.7 L515.0,720.5 L512.5,721.3 L509.9,722.1 L507.1,722.9 L504.3,723.6 L501.5,724.4 L498.7,725.0 L495.8,725.7 L493.0,726.2 L490.2,726.7 L487.4,727.2 L484.6,727.6 L481.8,727.9 L479.0,728.2 L476.1,728.4 L473.3,728.5 L470.5,728.4 L467.7,728.2 L464.8,727.7 L462.0,727.2 L459.1,726.6 L456.3,725.9 L453.4,725.2 L450.7,724.6 L448.0,724.0 L445.2,723.5 L442.4,723.0 L439.4,722.5 L436.6,722.0 L433.9,721.5 L431.5,721.1 L429.5,720.8 L428.0,720.5Z" fill="#20a4dc"/>
<g clip-path="url(#m5c)">
<path d="M428.0,720.0L428.0,691.5M429.0,714.4L430.2,692.0M429.9,708.7L432.4,692.4M431.1,703.2L434.8,692.9M432.9,697.8L437.6,693.4M435.7,692.8L441.0,694.1M439.7,688.8L445.2,695.0M444.5,685.8L450.0,696.0M449.6,683.2L454.9,697.3M454.8,680.8L459.9,698.6M459.9,678.3L464.8,699.8M464.9,675.6L469.7,700.5M469.5,672.2L474.3,700.8M473.1,667.8L478.2,700.7M475.8,662.8L481.5,700.5M478.2,657.7L484.7,700.2M481.3,652.9L488.3,699.7M485.8,649.4L492.9,699.1M491.0,647.3L497.9,698.2M496.6,646.0L503.1,697.1M502.3,645.3L508.4,695.8M507.9,644.9L513.7,694.4M513.6,644.7L519.0,692.6M519.3,644.5L524.3,690.4M525.0,644.5L529.6,688.4M530.7,644.4L534.9,687.2M536.5,644.2L540.2,686.4M542.2,644.0L545.6,685.9M547.8,643.7L550.9,685.6M553.5,643.4L556.2,685.7M559.2,643.1L561.5,685.9M564.9,642.9L566.8,686.4M570.6,642.6L572.1,687.0M576.3,642.3L577.4,688.0M582.0,642.1L582.7,689.7M587.7,641.9L588.0,692.5M593.4,641.7L593.3,696.1M599.1,641.5L598.7,699.3M604.8,641.4L604.0,701.5M610.5,641.3L609.3,703.4M616.2,641.2L614.6,704.9M622.0,641.1L619.9,706.0M627.7,641.0L625.2,706.9M633.4,641.0L630.5,707.3M639.1,641.0L635.9,707.5M644.8,641.1L641.2,707.5M650.5,641.4L646.5,707.3M656.1,642.0L651.8,707.0M661.7,643.3L657.0,706.7M666.8,645.7L661.9,706.4M670.8,649.8L666.1,706.1M674.2,654.3L669.9,705.9M678.6,658.0L674.4,705.6M683.3,661.2L679.0,705.2M688.0,664.3L683.7,704.7M692.9,667.4L688.5,704.2M697.8,670.2L693.3,703.9M702.9,672.8L698.2,703.7M707.9,675.5L703.1,703.8M712.8,678.4L707.9,704.1M717.5,681.7L712.5,704.5M721.8,685.4L716.9,705.0M725.7,689.5L721.1,705.5M729.5,693.9L725.1,705.8M733.0,698.3L729.0,706.1M736.4,702.9L732.9,706.1M739.7,707.5L736.6,705.3M742.7,712.4L740.2,696.0M740.0,716.0L740.0,696.0" stroke="#25b6e8" stroke-width="3.8" fill="none"/>
<path d="M428.0,720.0L428.0,691.5M429.0,714.4L430.2,692.0M429.9,708.7L432.4,692.4M431.1,703.2L434.8,692.9M432.9,697.8L437.6,693.4M435.7,692.8L441.0,694.1M439.7,688.8L445.2,695.0M444.5,685.8L450.0,696.0M449.6,683.2L454.9,697.3M454.8,680.8L459.9,698.6M459.9,678.3L464.8,699.8M464.9,675.6L469.7,700.5M469.5,672.2L474.3,700.8M473.1,667.8L478.2,700.7M475.8,662.8L481.5,700.5M478.2,657.7L484.7,700.2M481.3,652.9L488.3,699.7M485.8,649.4L492.9,699.1M491.0,647.3L497.9,698.2M496.6,646.0L503.1,697.1M502.3,645.3L508.4,695.8M507.9,644.9L513.7,694.4M513.6,644.7L519.0,692.6M519.3,644.5L524.3,690.4M525.0,644.5L529.6,688.4M530.7,644.4L534.9,687.2M536.5,644.2L540.2,686.4M542.2,644.0L545.6,685.9M547.8,643.7L550.9,685.6M553.5,643.4L556.2,685.7M559.2,643.1L561.5,685.9M564.9,642.9L566.8,686.4M570.6,642.6L572.1,687.0M576.3,642.3L577.4,688.0M582.0,642.1L582.7,689.7M587.7,641.9L588.0,692.5M593.4,641.7L593.3,696.1M599.1,641.5L598.7,699.3M604.8,641.4L604.0,701.5M610.5,641.3L609.3,703.4M616.2,641.2L614.6,704.9M622.0,641.1L619.9,706.0M627.7,641.0L625.2,706.9M633.4,641.0L630.5,707.3M639.1,641.0L635.9,707.5M644.8,641.1L641.2,707.5M650.5,641.4L646.5,707.3M656.1,642.0L651.8,707.0M661.7,643.3L657.0,706.7M666.8,645.7L661.9,706.4M670.8,649.8L666.1,706.1M674.2,654.3L669.9,705.9M678.6,658.0L674.4,705.6M683.3,661.2L679.0,705.2M688.0,664.3L683.7,704.7M692.9,667.4L688.5,704.2M697.8,670.2L693.3,703.9M702.9,672.8L698.2,703.7M707.9,675.5L703.1,703.8M712.8,678.4L707.9,704.1M717.5,681.7L712.5,704.5M721.8,685.4L716.9,705.0M725.7,689.5L721.1,705.5M729.5,693.9L725.1,705.8M733.0,698.3L729.0,706.1M736.4,702.9L732.9,706.1M739.7,707.5L736.6,705.3M742.7,712.4L740.2,696.0M740.0,716.0L740.0,696.0" stroke="#38c8f2" stroke-width="4.3" stroke-linecap="round" stroke-dasharray="0.01 4.6" fill="none"/>
<path d="M427.3,719.3L427.3,690.8M428.3,713.7L429.5,691.3M429.2,708.0L431.7,691.7M430.4,702.5L434.1,692.2M432.2,697.1L436.9,692.7M435.0,692.1L440.3,693.4M439.0,688.1L444.5,694.3M443.8,685.1L449.3,695.3M448.9,682.5L454.2,696.6M454.1,680.1L459.2,697.9M459.2,677.6L464.1,699.1M464.2,674.9L469.0,699.8M468.8,671.5L473.6,700.1M472.4,667.1L477.5,700.0M475.1,662.1L480.8,699.8M477.5,657.0L484.0,699.5M480.6,652.2L487.6,699.0M485.1,648.7L492.2,698.4M490.3,646.6L497.2,697.5M495.9,645.3L502.4,696.4M501.6,644.6L507.7,695.1M507.2,644.2L513.0,693.7M512.9,644.0L518.3,691.9M518.6,643.8L523.6,689.7M524.3,643.8L528.9,687.7M530.0,643.7L534.2,686.5M535.8,643.5L539.5,685.7M541.5,643.3L544.9,685.2M547.1,643.0L550.2,684.9M552.8,642.7L555.5,685.0M558.5,642.4L560.8,685.2M564.2,642.2L566.1,685.7M569.9,641.9L571.4,686.3M575.6,641.6L576.7,687.3M581.3,641.4L582.0,689.0M587.0,641.2L587.3,691.8M592.7,641.0L592.6,695.4M598.4,640.8L598.0,698.6M604.1,640.7L603.3,700.8M609.8,640.6L608.6,702.7M615.5,640.5L613.9,704.2M621.3,640.4L619.2,705.3M627.0,640.3L624.5,706.2M632.7,640.3L629.8,706.6M638.4,640.3L635.2,706.8M644.1,640.4L640.5,706.8M649.8,640.7L645.8,706.6M655.4,641.3L651.1,706.3M661.0,642.6L656.3,706.0M666.1,645.0L661.2,705.7M670.1,649.1L665.4,705.4M673.5,653.6L669.2,705.2M677.9,657.3L673.7,704.9M682.6,660.5L678.3,704.5M687.3,663.6L683.0,704.0M692.2,666.7L687.8,703.5M697.1,669.5L692.6,703.2M702.2,672.1L697.5,703.0M707.2,674.8L702.4,703.1M712.1,677.7L707.2,703.4M716.8,681.0L711.8,703.8M721.1,684.7L716.2,704.3M725.0,688.8L720.4,704.8M728.8,693.2L724.4,705.1M732.3,697.6L728.3,705.4M735.7,702.2L732.2,705.4M739.0,706.8L735.9,704.6M742.0,711.7L739.5,695.3M739.3,715.3L739.3,695.3" stroke="#72e0fb" stroke-width="1.9" stroke-linecap="round" stroke-dasharray="0.01 4.6" fill="none" opacity="0.8"/>
<path d="M579.0,705.0 L578.8,702.1 L578.1,697.9 L577.3,692.9 L576.6,687.6 L576.3,682.2 L576.7,677.2 L578.2,673.0 L581.0,670.0 L585.2,668.2 L590.6,667.3 L597.0,667.1 L604.2,667.3 L611.9,667.8 L619.9,668.4 L628.0,668.8 L636.0,669.0 L644.5,668.9 L653.9,668.7 L663.8,668.4 L673.8,668.2 L683.6,668.2 L692.6,668.2 L700.6,668.5 L707.0,669.0 L711.8,669.7 L715.2,670.5 L717.7,671.4 L719.4,672.6 L720.7,673.9 L721.8,675.6 L723.2,677.6 L725.0,680.0 L727.3,683.1 L729.7,687.1 L732.2,691.5 L734.6,696.2 L736.9,700.8 L739.0,705.0 L740.7,708.5 L742.0,711.0" stroke="#1680bd" stroke-width="5" fill="none" opacity="0.55" transform="translate(0,-1.5)"/>
<path d="M579.0,705.0 L578.8,702.1 L578.1,697.9 L577.3,692.9 L576.6,687.6 L576.3,682.2 L576.7,677.2 L578.2,673.0 L581.0,670.0 L585.2,668.2 L590.6,667.3 L597.0,667.1 L604.2,667.3 L611.9,667.8 L619.9,668.4 L628.0,668.8 L636.0,669.0 L644.5,668.9 L653.9,668.7 L663.8,668.4 L673.8,668.2 L683.6,668.2 L692.6,668.2 L700.6,668.5 L707.0,669.0 L711.8,669.7 L715.2,670.5 L717.7,671.4 L719.4,672.6 L720.7,673.9 L721.8,675.6 L723.2,677.6 L725.0,680.0 L727.3,683.1 L729.7,687.1 L732.2,691.5 L734.6,696.2 L736.9,700.8 L739.0,705.0 L740.7,708.5 L742.0,711.0 L742.0,697.1 L736.4,706.4 L730.8,707.1 L725.1,706.8 L719.5,706.3 L713.9,705.7 L708.3,705.1 L702.7,704.7 L697.0,704.7 L691.4,705.0 L685.8,705.5 L680.2,706.1 L674.6,706.6 L668.9,706.9 L663.3,707.3 L657.7,707.7 L652.1,708.0 L646.4,708.3 L640.8,708.5 L635.2,708.5 L629.6,708.3 L624.0,707.7 L618.3,706.7 L612.7,705.4 L607.1,703.6 L601.5,701.6 L595.9,698.7 L590.2,694.9 L584.6,691.5 L579.0,689.5Z" fill="#20a4dc"/>
<path d="M579.0,705.0L579.0,689.5M578.3,699.2L583.3,691.0M577.4,693.5L587.3,693.1M576.6,687.7L591.1,695.5M576.3,681.9L594.9,698.1M577.1,676.2L598.9,700.3M579.8,671.2L603.0,702.1M584.8,668.4L607.3,703.7M590.5,667.4L611.6,705.0M596.3,667.1L616.0,706.2M602.1,667.2L620.4,707.1M607.9,667.6L624.9,707.8M613.7,667.9L629.4,708.3M619.5,668.4L634.0,708.5M625.3,668.7L638.5,708.5M631.1,668.9L643.1,708.4M636.9,669.0L647.6,708.2M642.8,668.9L652.1,708.0M648.6,668.8L656.7,707.7M654.4,668.7L661.2,707.4M660.2,668.5L665.7,707.1M666.0,668.4L670.3,706.8M671.8,668.3L674.8,706.6M677.6,668.2L679.3,706.2M683.4,668.2L683.9,705.7M689.2,668.2L688.4,705.3M695.1,668.3L692.9,704.9M700.9,668.5L697.4,704.7M706.7,669.0L702.0,704.7M712.4,669.9L706.5,705.0M717.9,671.6L711.0,705.4M721.9,675.7L715.6,705.9M725.3,680.4L720.1,706.3M728.6,685.2L724.6,706.8M731.5,690.3L729.1,707.0M734.2,695.4L733.7,706.7M736.8,700.6L737.3,704.8M739.4,705.8L739.7,700.9M742.0,711.0L742.0,697.1" stroke="#25b6e8" stroke-width="3.8" fill="none"/>
<path d="M579.0,705.0L579.0,689.5M578.3,699.2L583.3,691.0M577.4,693.5L587.3,693.1M576.6,687.7L591.1,695.5M576.3,681.9L594.9,698.1M577.1,676.2L598.9,700.3M579.8,671.2L603.0,702.1M584.8,668.4L607.3,703.7M590.5,667.4L611.6,705.0M596.3,667.1L616.0,706.2M602.1,667.2L620.4,707.1M607.9,667.6L624.9,707.8M613.7,667.9L629.4,708.3M619.5,668.4L634.0,708.5M625.3,668.7L638.5,708.5M631.1,668.9L643.1,708.4M636.9,669.0L647.6,708.2M642.8,668.9L652.1,708.0M648.6,668.8L656.7,707.7M654.4,668.7L661.2,707.4M660.2,668.5L665.7,707.1M666.0,668.4L670.3,706.8M671.8,668.3L674.8,706.6M677.6,668.2L679.3,706.2M683.4,668.2L683.9,705.7M689.2,668.2L688.4,705.3M695.1,668.3L692.9,704.9M700.9,668.5L697.4,704.7M706.7,669.0L702.0,704.7M712.4,669.9L706.5,705.0M717.9,671.6L711.0,705.4M721.9,675.7L715.6,705.9M725.3,680.4L720.1,706.3M728.6,685.2L724.6,706.8M731.5,690.3L729.1,707.0M734.2,695.4L733.7,706.7M736.8,700.6L737.3,704.8M739.4,705.8L739.7,700.9M742.0,711.0L742.0,697.1" stroke="#38c8f2" stroke-width="4.3" stroke-linecap="round" stroke-dasharray="0.01 4.6" fill="none"/>
<path d="M578.3,704.3L578.3,688.8M577.6,698.5L582.6,690.3M576.7,692.8L586.6,692.4M575.9,687.0L590.4,694.8M575.6,681.2L594.2,697.4M576.4,675.5L598.2,699.6M579.1,670.5L602.3,701.4M584.1,667.7L606.6,703.0M589.8,666.7L610.9,704.3M595.6,666.4L615.3,705.5M601.4,666.5L619.7,706.4M607.2,666.9L624.2,707.1M613.0,667.2L628.7,707.6M618.8,667.7L633.3,707.8M624.6,668.0L637.8,707.8M630.4,668.2L642.4,707.7M636.2,668.3L646.9,707.5M642.1,668.2L651.4,707.3M647.9,668.1L656.0,707.0M653.7,668.0L660.5,706.7M659.5,667.8L665.0,706.4M665.3,667.7L669.6,706.1M671.1,667.6L674.1,705.9M676.9,667.5L678.6,705.5M682.7,667.5L683.2,705.0M688.5,667.5L687.7,704.6M694.4,667.6L692.2,704.2M700.2,667.8L696.7,704.0M706.0,668.3L701.3,704.0M711.7,669.2L705.8,704.3M717.2,670.9L710.3,704.7M721.2,675.0L714.9,705.2M724.6,679.7L719.4,705.6M727.9,684.5L723.9,706.1M730.8,689.6L728.4,706.3M733.5,694.7L733.0,706.0M736.1,699.9L736.6,704.1M738.7,705.1L739.0,700.2M741.3,710.3L741.3,696.4" stroke="#72e0fb" stroke-width="1.9" stroke-linecap="round" stroke-dasharray="0.01 4.6" fill="none" opacity="0.8"/>
<path d="M579.0,705.0 L578.8,702.1 L578.1,697.9 L577.3,692.9 L576.6,687.6 L576.3,682.2 L576.7,677.2 L578.2,673.0 L581.0,670.0 L585.2,668.2 L590.6,667.3 L597.0,667.1 L604.2,667.3 L611.9,667.8 L619.9,668.4 L628.0,668.8 L636.0,669.0 L644.5,668.9 L653.9,668.7 L663.8,668.4 L673.8,668.2 L683.6,668.2 L692.6,668.2 L700.6,668.5 L707.0,669.0 L711.8,669.7 L715.2,670.5 L717.7,671.4 L719.4,672.6 L720.7,673.9 L721.8,675.6 L723.2,677.6 L725.0,680.0 L727.3,683.1 L729.7,687.1 L732.2,691.5 L734.6,696.2 L736.9,700.8 L739.0,705.0 L740.7,708.5 L742.0,711.0" stroke="#58d8fa" stroke-width="4.4" stroke-linecap="round" stroke-dasharray="0.01 5" fill="none"/>
<path d="M428.0,689.5 L433.3,690.6 L438.6,691.6 L443.9,692.7 L449.2,693.8 L454.4,695.2 L459.7,696.6 L465.0,697.8 L470.3,698.6 L475.6,698.8 L480.9,698.5 L486.2,698.0 L491.5,697.3 L496.7,696.4 L502.0,695.4 L507.3,694.1 L512.6,692.7 L517.9,691.0 L523.2,688.8 L528.5,686.8 L533.8,685.4 L539.1,684.6 L544.3,684.0 L549.6,683.7 L554.9,683.7 L560.2,683.9 L565.5,684.2 L570.8,684.8 L576.1,685.8 L581.4,687.2 L586.6,689.6 L591.9,693.1 L597.2,696.5 L602.5,699.0 L607.8,700.9 L613.1,702.5 L618.4,703.8 L623.7,704.6 L628.9,705.2 L634.2,705.5 L639.5,705.5 L644.8,705.4 L650.1,705.1 L655.4,704.8 L660.7,704.5 L666.0,704.1 L671.3,703.8 L676.5,703.4 L681.8,702.9 L687.1,702.4 L692.4,701.9 L697.7,701.7 L703.0,701.8 L708.3,702.1 L713.6,702.7 L718.8,703.2 L724.1,703.7 L729.4,704.1 L734.7,703.9 L740.0,694.0 L740.0,716.0 L734.7,726.0 L729.4,726.4 L724.1,726.2 L718.8,725.8 L713.6,725.4 L708.3,725.0 L703.0,724.8 L697.7,724.9 L692.4,725.3 L687.1,725.9 L681.8,726.6 L676.5,727.3 L671.3,727.8 L666.0,728.2 L660.7,728.7 L655.4,729.2 L650.1,729.7 L644.8,730.1 L639.5,730.4 L634.2,730.6 L628.9,730.4 L623.7,730.0 L618.4,729.3 L613.1,728.1 L607.8,726.7 L602.5,725.0 L597.2,722.6 L591.9,719.4 L586.6,716.0 L581.4,713.7 L576.1,712.5 L570.8,711.7 L565.5,711.3 L560.2,711.1 L554.9,711.0 L549.6,711.2 L544.3,711.6 L539.1,712.4 L533.8,713.4 L528.5,714.9 L523.2,717.1 L517.9,719.4 L512.6,721.2 L507.3,722.8 L502.0,724.2 L496.7,725.5 L491.5,726.5 L486.2,727.3 L480.9,728.0 L475.6,728.4 L470.3,728.4 L465.0,727.8 L459.7,726.7 L454.4,725.4 L449.2,724.2 L443.9,723.2 L438.6,722.3 L433.3,721.4 L428.0,720.5Z" fill="#24a8de"/>
<path d="M429.0,699.9L429.0,711.8M431.0,699.9L431.0,711.8M438.0,701.7L438.0,713.4M440.0,701.7L440.0,713.4M447.0,703.6L447.0,715.0M449.0,703.6L449.0,715.0M456.0,705.9L456.0,717.1M458.0,705.9L458.0,717.1M465.0,708.0L465.0,718.9M467.0,708.0L467.0,718.9M474.0,708.8L474.0,719.4M476.0,708.8L476.0,719.4M483.0,708.3L483.0,718.6M485.0,708.3L485.0,718.6M492.0,707.1L492.0,717.2M494.0,707.1L494.0,717.2M501.0,705.4L501.0,715.2M503.0,705.4L503.0,715.2M510.0,703.1L510.0,712.7M512.0,703.1L512.0,712.7M519.0,700.2L519.0,709.6M521.0,700.2L521.0,709.6M528.0,696.6L528.0,705.7M530.0,696.6L530.0,705.7M537.0,694.7L537.0,703.6M539.0,694.7L539.0,703.6M546.0,693.8L546.0,702.4M548.0,693.8L548.0,702.4M555.0,693.7L555.0,702.0M557.0,693.7L557.0,702.0M564.0,694.2L564.0,702.2M566.0,694.2L566.0,702.2M573.0,695.3L573.0,703.1M575.0,695.3L575.0,703.1M582.0,697.8L582.0,705.3M584.0,697.8L584.0,705.3M591.0,703.1L591.0,710.4M593.0,703.1L593.0,710.4M600.0,708.4L600.0,715.4M602.0,708.4L602.0,715.4M609.0,711.6L609.0,718.3M611.0,711.6L611.0,718.3M618.0,713.9L618.0,720.4M620.0,713.9L620.0,720.4M627.0,715.1L627.0,721.4M629.0,715.1L629.0,721.4M636.0,715.5L636.0,721.5M638.0,715.5L638.0,721.5M645.0,715.3L645.0,721.0M647.0,715.3L647.0,721.0M654.0,714.8L654.0,720.3M656.0,714.8L656.0,720.3M663.0,714.2L663.0,719.4M665.0,714.2L665.0,719.4M672.0,713.7L672.0,718.6M674.0,713.7L674.0,718.6M681.0,712.9L681.0,717.6M683.0,712.9L683.0,717.6M690.0,712.0L690.0,716.4M692.0,712.0L692.0,716.4M699.0,711.6L699.0,715.8M701.0,711.6L701.0,715.8M708.0,712.2L708.0,716.1M710.0,712.2L710.0,716.1M717.0,713.1L717.0,716.8M719.0,713.1L719.0,716.8M726.0,714.0L726.0,717.3M728.0,714.0L728.0,717.3M735.0,713.5L735.0,716.6M737.0,713.5L737.0,716.6" stroke="#4cc8f2" stroke-width="1" fill="none"/>
<circle cx="434.5" cy="695.8" r="5.0" fill="url(#sph)"/>
<circle cx="443.5" cy="697.6" r="5.0" fill="url(#sph)"/>
<circle cx="452.5" cy="699.7" r="5.0" fill="url(#sph)"/>
<circle cx="461.5" cy="702.1" r="5.0" fill="url(#sph)"/>
<circle cx="470.5" cy="703.6" r="5.0" fill="url(#sph)"/>
<circle cx="479.5" cy="703.6" r="5.0" fill="url(#sph)"/>
<circle cx="488.5" cy="702.7" r="5.0" fill="url(#sph)"/>
<circle cx="497.5" cy="701.3" r="5.0" fill="url(#sph)"/>
<circle cx="506.5" cy="699.3" r="5.0" fill="url(#sph)"/>
<circle cx="515.5" cy="696.8" r="5.0" fill="url(#sph)"/>
<circle cx="524.5" cy="693.3" r="5.0" fill="url(#sph)"/>
<circle cx="533.5" cy="690.5" r="5.0" fill="url(#sph)"/>
<circle cx="542.5" cy="689.1" r="5.0" fill="url(#sph)"/>
<circle cx="551.5" cy="688.6" r="5.0" fill="url(#sph)"/>
<circle cx="560.5" cy="688.9" r="5.0" fill="url(#sph)"/>
<circle cx="569.5" cy="689.7" r="5.0" fill="url(#sph)"/>
<circle cx="578.5" cy="691.3" r="5.0" fill="url(#sph)"/>
<circle cx="587.5" cy="695.1" r="5.0" fill="url(#sph)"/>
<circle cx="596.5" cy="701.1" r="5.0" fill="url(#sph)"/>
<circle cx="605.5" cy="705.1" r="5.0" fill="url(#sph)"/>
<circle cx="614.5" cy="707.9" r="5.0" fill="url(#sph)"/>
<circle cx="623.5" cy="709.6" r="5.0" fill="url(#sph)"/>
<circle cx="632.5" cy="710.4" r="5.0" fill="url(#sph)"/>
<circle cx="641.5" cy="710.5" r="5.0" fill="url(#sph)"/>
<circle cx="650.5" cy="710.1" r="5.0" fill="url(#sph)"/>
<circle cx="659.5" cy="709.5" r="5.0" fill="url(#sph)"/>
<circle cx="668.5" cy="708.9" r="5.0" fill="url(#sph)"/>
<circle cx="677.5" cy="708.4" r="5.0" fill="url(#sph)"/>
<circle cx="686.5" cy="707.4" r="5.0" fill="url(#sph)"/>
<circle cx="695.5" cy="706.7" r="5.0" fill="url(#sph)"/>
<circle cx="704.5" cy="706.8" r="5.0" fill="url(#sph)"/>
<circle cx="713.5" cy="707.6" r="5.0" fill="url(#sph)"/>
<circle cx="722.5" cy="708.6" r="5.0" fill="url(#sph)"/>
<circle cx="731.5" cy="709.1" r="5.0" fill="url(#sph)"/>
</g>
<circle cx="430.0" cy="717.0" r="5.0" fill="url(#sph)"/>
<circle cx="439.0" cy="718.6" r="5.0" fill="url(#sph)"/>
<circle cx="448.0" cy="720.2" r="5.0" fill="url(#sph)"/>
<circle cx="457.0" cy="722.3" r="5.0" fill="url(#sph)"/>
<circle cx="466.0" cy="724.1" r="5.0" fill="url(#sph)"/>
<circle cx="475.0" cy="724.6" r="5.0" fill="url(#sph)"/>
<circle cx="484.0" cy="723.8" r="5.0" fill="url(#sph)"/>
<circle cx="493.0" cy="722.4" r="5.0" fill="url(#sph)"/>
<circle cx="502.0" cy="720.4" r="5.0" fill="url(#sph)"/>
<circle cx="511.0" cy="717.9" r="5.0" fill="url(#sph)"/>
<circle cx="520.0" cy="714.8" r="5.0" fill="url(#sph)"/>
<circle cx="529.0" cy="710.9" r="5.0" fill="url(#sph)"/>
<circle cx="538.0" cy="708.8" r="5.0" fill="url(#sph)"/>
<circle cx="547.0" cy="707.6" r="5.0" fill="url(#sph)"/>
<circle cx="556.0" cy="707.2" r="5.0" fill="url(#sph)"/>
<circle cx="565.0" cy="707.4" r="5.0" fill="url(#sph)"/>
<circle cx="574.0" cy="708.3" r="5.0" fill="url(#sph)"/>
<circle cx="583.0" cy="710.5" r="5.0" fill="url(#sph)"/>
<circle cx="592.0" cy="715.6" r="5.0" fill="url(#sph)"/>
<circle cx="601.0" cy="720.6" r="5.0" fill="url(#sph)"/>
<circle cx="610.0" cy="723.5" r="5.0" fill="url(#sph)"/>
<circle cx="619.0" cy="725.6" r="5.0" fill="url(#sph)"/>
<circle cx="628.0" cy="726.6" r="5.0" fill="url(#sph)"/>
<circle cx="637.0" cy="726.7" r="5.0" fill="url(#sph)"/>
<circle cx="646.0" cy="726.2" r="5.0" fill="url(#sph)"/>
<circle cx="655.0" cy="725.5" r="5.0" fill="url(#sph)"/>
<circle cx="664.0" cy="724.6" r="5.0" fill="url(#sph)"/>
<circle cx="673.0" cy="723.8" r="5.0" fill="url(#sph)"/>
<circle cx="682.0" cy="722.8" r="5.0" fill="url(#sph)"/>
<circle cx="691.0" cy="721.6" r="5.0" fill="url(#sph)"/>
<circle cx="700.0" cy="721.0" r="5.0" fill="url(#sph)"/>
<circle cx="709.0" cy="721.3" r="5.0" fill="url(#sph)"/>
<circle cx="718.0" cy="722.0" r="5.0" fill="url(#sph)"/>
<circle cx="727.0" cy="722.5" r="5.0" fill="url(#sph)"/>
<circle cx="736.0" cy="721.8" r="5.0" fill="url(#sph)"/>
<clipPath id="m6c"><path d="M811.0,728.0 L811.5,726.3 L812.0,723.9 L812.5,721.1 L813.2,718.0 L814.1,714.8 L815.4,711.7 L817.0,708.8 L819.0,706.3 L821.6,704.3 L824.9,702.6 L828.6,701.1 L832.5,699.7 L836.6,698.3 L840.6,696.6 L844.3,694.5 L847.7,692.0 L850.5,688.7 L852.9,684.8 L855.0,680.3 L857.1,675.8 L859.3,671.3 L861.9,667.1 L865.1,663.6 L869.1,661.0 L873.8,659.3 L879.1,658.4 L884.8,658.0 L891.0,657.9 L897.5,658.2 L904.4,658.4 L911.6,658.6 L919.1,658.6 L927.1,658.4 L935.8,658.1 L945.0,657.9 L954.4,657.6 L963.9,657.4 L973.2,657.3 L982.2,657.3 L990.6,657.4 L998.7,657.5 L1006.9,657.7 L1015.0,657.9 L1022.8,658.2 L1030.1,658.7 L1036.9,659.2 L1042.8,660.0 L1047.8,661.0 L1051.6,662.3 L1054.2,663.9 L1055.9,665.8 L1057.0,667.8 L1057.9,669.8 L1058.9,671.8 L1060.2,673.7 L1062.1,675.3 L1064.7,676.7 L1067.5,677.8 L1070.5,678.9 L1073.7,679.9 L1076.9,680.9 L1080.1,682.0 L1083.1,683.3 L1085.9,684.8 L1088.6,686.5 L1091.2,688.4 L1093.7,690.5 L1096.2,692.6 L1098.5,694.8 L1100.8,697.0 L1103.0,699.3 L1105.0,701.5 L1107.0,703.8 L1108.9,706.4 L1110.7,709.0 L1112.5,711.7 L1114.1,714.2 L1115.4,716.5 L1116.6,718.5 L1117.5,720.0 L1118.1,721.1 L1118.3,721.7 L1118.2,722.0 L1118.0,722.2 L1117.7,722.1 L1117.4,722.0 L1117.1,722.0 L1117.0,722.0 L1117.0,722.0 L1116.6,722.8 L1116.0,723.8 L1115.3,725.1 L1114.5,726.5 L1113.7,728.0 L1112.8,729.3 L1111.9,730.5 L1111.0,731.5 L1110.2,732.3 L1109.5,732.9 L1108.8,733.5 L1108.1,733.9 L1107.3,734.3 L1106.2,734.6 L1104.8,734.8 L1103.0,735.0 L1100.8,735.1 L1098.4,735.0 L1095.7,734.8 L1092.8,734.5 L1089.6,734.3 L1086.2,734.0 L1082.7,733.9 L1079.0,733.9 L1075.1,734.0 L1070.8,734.2 L1066.3,734.5 L1061.7,734.8 L1057.0,735.2 L1052.2,735.5 L1047.5,735.9 L1043.0,736.2 L1038.5,736.5 L1033.9,737.0 L1029.2,737.4 L1024.6,737.9 L1020.1,738.2 L1015.8,738.5 L1011.6,738.7 L1007.7,738.6 L1004.1,738.3 L1000.7,737.9 L997.5,737.4 L994.5,736.7 L991.6,736.0 L988.7,735.2 L985.9,734.4 L983.0,733.5 L980.1,732.6 L977.3,731.5 L974.5,730.3 L971.8,729.1 L969.1,727.9 L966.4,726.7 L963.7,725.7 L961.0,724.8 L958.3,724.0 L955.7,723.3 L953.1,722.6 L950.4,722.0 L947.8,721.5 L945.2,721.1 L942.6,720.8 L940.0,720.6 L937.4,720.6 L934.8,720.7 L932.1,720.9 L929.5,721.3 L926.9,721.7 L924.2,722.2 L921.6,722.8 L919.0,723.4 L916.4,724.1 L913.9,724.9 L911.4,725.8 L908.9,726.8 L906.4,727.8 L903.7,728.7 L901.0,729.7 L898.0,730.5 L894.8,731.3 L891.5,732.1 L888.0,732.9 L884.4,733.7 L880.8,734.4 L877.2,735.0 L873.5,735.6 L870.0,736.0 L866.5,736.3 L863.1,736.6 L859.6,736.7 L856.2,736.8 L852.7,736.8 L849.2,736.6 L845.6,736.4 L842.0,736.0 L838.1,735.4 L833.7,734.6 L829.2,733.6 L824.8,732.5 L820.5,731.4 L816.6,730.4 L813.4,729.6 L811.0,729.0Z"/></clipPath>
<path d="M811.0,728.0 L811.5,726.3 L812.0,723.9 L812.5,721.1 L813.2,718.0 L814.1,714.8 L815.4,711.7 L817.0,708.8 L819.0,706.3 L821.6,704.3 L824.9,702.6 L828.6,701.1 L832.5,699.7 L836.6,698.3 L840.6,696.6 L844.3,694.5 L847.7,692.0 L850.5,688.7 L852.9,684.8 L855.0,680.3 L857.1,675.8 L859.3,671.3 L861.9,667.1 L865.1,663.6 L869.1,661.0 L873.8,659.3 L879.1,658.4 L884.8,658.0 L891.0,657.9 L897.5,658.2 L904.4,658.4 L911.6,658.6 L919.1,658.6 L927.1,658.4 L935.8,658.1 L945.0,657.9 L954.4,657.6 L963.9,657.4 L973.2,657.3 L982.2,657.3 L990.6,657.4 L998.7,657.5 L1006.9,657.7 L1015.0,657.9 L1022.8,658.2 L1030.1,658.7 L1036.9,659.2 L1042.8,660.0 L1047.8,661.0 L1051.6,662.3 L1054.2,663.9 L1055.9,665.8 L1057.0,667.8 L1057.9,669.8 L1058.9,671.8 L1060.2,673.7 L1062.1,675.3 L1064.7,676.7 L1067.5,677.8 L1070.5,678.9 L1073.7,679.9 L1076.9,680.9 L1080.1,682.0 L1083.1,683.3 L1085.9,684.8 L1088.6,686.5 L1091.2,688.4 L1093.7,690.5 L1096.2,692.6 L1098.5,694.8 L1100.8,697.0 L1103.0,699.3 L1105.0,701.5 L1107.0,703.8 L1108.9,706.4 L1110.7,709.0 L1112.5,711.7 L1114.1,714.2 L1115.4,716.5 L1116.6,718.5 L1117.5,720.0 L1118.1,721.1 L1118.3,721.7 L1118.2,722.0 L1118.0,722.2 L1117.7,722.1 L1117.4,722.0 L1117.1,722.0 L1117.0,722.0 L1117.0,722.0 L1116.6,722.8 L1116.0,723.8 L1115.3,725.1 L1114.5,726.5 L1113.7,728.0 L1112.8,729.3 L1111.9,730.5 L1111.0,731.5 L1110.2,732.3 L1109.5,732.9 L1108.8,733.5 L1108.1,733.9 L1107.3,734.3 L1106.2,734.6 L1104.8,734.8 L1103.0,735.0 L1100.8,735.1 L1098.4,735.0 L1095.7,734.8 L1092.8,734.5 L1089.6,734.3 L1086.2,734.0 L1082.7,733.9 L1079.0,733.9 L1075.1,734.0 L1070.8,734.2 L1066.3,734.5 L1061.7,734.8 L1057.0,735.2 L1052.2,735.5 L1047.5,735.9 L1043.0,736.2 L1038.5,736.5 L1033.9,737.0 L1029.2,737.4 L1024.6,737.9 L1020.1,738.2 L1015.8,738.5 L1011.6,738.7 L1007.7,738.6 L1004.1,738.3 L1000.7,737.9 L997.5,737.4 L994.5,736.7 L991.6,736.0 L988.7,735.2 L985.9,734.4 L983.0,733.5 L980.1,732.6 L977.3,731.5 L974.5,730.3 L971.8,729.1 L969.1,727.9 L966.4,726.7 L963.7,725.7 L961.0,724.8 L958.3,724.0 L955.7,723.3 L953.1,722.6 L950.4,722.0 L947.8,721.5 L945.2,721.1 L942.6,720.8 L940.0,720.6 L937.4,720.6 L934.8,720.7 L932.1,720.9 L929.5,721.3 L926.9,721.7 L924.2,722.2 L921.6,722.8 L919.0,723.4 L916.4,724.1 L913.9,724.9 L911.4,725.8 L908.9,726.8 L906.4,727.8 L903.7,728.7 L901.0,729.7 L898.0,730.5 L894.8,731.3 L891.5,732.1 L888.0,732.9 L884.4,733.7 L880.8,734.4 L877.2,735.0 L873.5,735.6 L870.0,736.0 L866.5,736.3 L863.1,736.6 L859.6,736.7 L856.2,736.8 L852.7,736.8 L849.2,736.6 L845.6,736.4 L842.0,736.0 L838.1,735.4 L833.7,734.6 L829.2,733.6 L824.8,732.5 L820.5,731.4 L816.6,730.4 L813.4,729.6 L811.0,729.0Z" fill="#20a4dc"/>
<g clip-path="url(#m6c)">
<path d="M811.0,728.0L811.0,705.0M812.2,722.4L813.5,705.6M813.5,716.9L816.0,706.3M815.5,711.5L818.9,707.1M818.6,706.8L822.6,708.1M823.2,703.4L827.2,709.3M828.5,701.2L832.2,710.5M833.9,699.2L837.4,711.6M839.2,697.2L842.5,712.5M844.3,694.6L847.5,713.0M848.6,690.9L851.9,713.3M852.0,686.3L855.8,713.4M854.6,681.2L859.1,713.4M856.9,676.0L862.3,713.3M859.5,670.9L865.6,713.1M862.7,666.2L869.3,712.8M866.9,662.4L873.7,712.4M872.1,660.0L878.7,711.7M877.6,658.6L883.9,710.7M883.3,658.1L889.3,709.7M889.0,657.9L894.6,708.4M894.7,658.1L900.0,707.1M900.4,658.3L905.4,705.4M906.1,658.5L910.7,703.4M911.8,658.6L916.1,701.6M917.6,658.6L921.5,700.3M923.3,658.5L926.8,699.3M929.0,658.3L932.2,698.5M934.7,658.1L937.5,698.2M940.4,658.0L942.9,698.5M946.1,657.8L948.3,699.3M951.8,657.7L953.6,700.6M957.5,657.6L959.0,702.1M963.3,657.5L964.3,704.0M969.0,657.4L969.7,706.3M974.7,657.3L975.1,708.7M980.4,657.3L980.4,710.9M986.1,657.4L985.8,712.6M991.8,657.4L991.2,714.2M997.5,657.5L996.5,715.6M1003.3,657.6L1001.9,716.6M1009.0,657.8L1007.2,717.1M1014.7,657.9L1012.6,717.3M1020.4,658.1L1018.0,717.1M1026.1,658.4L1023.3,716.8M1031.8,658.8L1028.7,716.3M1037.5,659.3L1034.0,715.9M1043.2,660.1L1039.3,715.5M1048.7,661.3L1044.6,715.1M1053.9,663.7L1049.6,714.9M1057.2,668.3L1053.4,714.6M1059.9,673.3L1056.8,714.4M1064.5,676.6L1061.5,714.1M1069.8,678.7L1066.6,713.8M1075.3,680.4L1071.8,713.6M1080.7,682.3L1076.9,713.4M1085.8,684.8L1081.9,713.4M1090.5,688.0L1086.6,713.7M1095.0,691.6L1091.2,714.1M1099.2,695.4L1095.5,714.5M1103.2,699.5L1099.8,714.8M1106.9,703.8L1103.9,714.7M1110.3,708.4L1107.7,714.0M1113.4,713.2L1111.4,711.0M1116.4,718.1L1115.0,705.7M1117.0,722.0L1117.0,702.0" stroke="#25b6e8" stroke-width="3.8" fill="none"/>
<path d="M811.0,728.0L811.0,705.0M812.2,722.4L813.5,705.6M813.5,716.9L816.0,706.3M815.5,711.5L818.9,707.1M818.6,706.8L822.6,708.1M823.2,703.4L827.2,709.3M828.5,701.2L832.2,710.5M833.9,699.2L837.4,711.6M839.2,697.2L842.5,712.5M844.3,694.6L847.5,713.0M848.6,690.9L851.9,713.3M852.0,686.3L855.8,713.4M854.6,681.2L859.1,713.4M856.9,676.0L862.3,713.3M859.5,670.9L865.6,713.1M862.7,666.2L869.3,712.8M866.9,662.4L873.7,712.4M872.1,660.0L878.7,711.7M877.6,658.6L883.9,710.7M883.3,658.1L889.3,709.7M889.0,657.9L894.6,708.4M894.7,658.1L900.0,707.1M900.4,658.3L905.4,705.4M906.1,658.5L910.7,703.4M911.8,658.6L916.1,701.6M917.6,658.6L921.5,700.3M923.3,658.5L926.8,699.3M929.0,658.3L932.2,698.5M934.7,658.1L937.5,698.2M940.4,658.0L942.9,698.5M946.1,657.8L948.3,699.3M951.8,657.7L953.6,700.6M957.5,657.6L959.0,702.1M963.3,657.5L964.3,704.0M969.0,657.4L969.7,706.3M974.7,657.3L975.1,708.7M980.4,657.3L980.4,710.9M986.1,657.4L985.8,712.6M991.8,657.4L991.2,714.2M997.5,657.5L996.5,715.6M1003.3,657.6L1001.9,716.6M1009.0,657.8L1007.2,717.1M1014.7,657.9L1012.6,717.3M1020.4,658.1L1018.0,717.1M1026.1,658.4L1023.3,716.8M1031.8,658.8L1028.7,716.3M1037.5,659.3L1034.0,715.9M1043.2,660.1L1039.3,715.5M1048.7,661.3L1044.6,715.1M1053.9,663.7L1049.6,714.9M1057.2,668.3L1053.4,714.6M1059.9,673.3L1056.8,714.4M1064.5,676.6L1061.5,714.1M1069.8,678.7L1066.6,713.8M1075.3,680.4L1071.8,713.6M1080.7,682.3L1076.9,713.4M1085.8,684.8L1081.9,713.4M1090.5,688.0L1086.6,713.7M1095.0,691.6L1091.2,714.1M1099.2,695.4L1095.5,714.5M1103.2,699.5L1099.8,714.8M1106.9,703.8L1103.9,714.7M1110.3,708.4L1107.7,714.0M1113.4,713.2L1111.4,711.0M1116.4,718.1L1115.0,705.7M1117.0,722.0L1117.0,702.0" stroke="#38c8f2" stroke-width="4.3" stroke-linecap="round" stroke-dasharray="0.01 4.6" fill="none"/>
<path d="M810.3,727.3L810.3,704.3M811.5,721.7L812.8,704.9M812.8,716.2L815.3,705.6M814.8,710.8L818.2,706.4M817.9,706.1L821.9,707.4M822.5,702.7L826.5,708.6M827.8,700.5L831.5,709.8M833.2,698.5L836.7,710.9M838.5,696.5L841.8,711.8M843.6,693.9L846.8,712.3M847.9,690.2L851.2,712.6M851.3,685.6L855.1,712.7M853.9,680.5L858.4,712.7M856.2,675.3L861.6,712.6M858.8,670.2L864.9,712.4M862.0,665.5L868.6,712.1M866.2,661.7L873.0,711.7M871.4,659.3L878.0,711.0M876.9,657.9L883.2,710.0M882.6,657.4L888.6,709.0M888.3,657.2L893.9,707.7M894.0,657.4L899.3,706.4M899.7,657.6L904.7,704.7M905.4,657.8L910.0,702.7M911.1,657.9L915.4,700.9M916.9,657.9L920.8,699.6M922.6,657.8L926.1,698.6M928.3,657.6L931.5,697.8M934.0,657.4L936.8,697.5M939.7,657.3L942.2,697.8M945.4,657.1L947.6,698.6M951.1,657.0L952.9,699.9M956.8,656.9L958.3,701.4M962.6,656.8L963.6,703.3M968.3,656.7L969.0,705.6M974.0,656.6L974.4,708.0M979.7,656.6L979.7,710.2M985.4,656.7L985.1,711.9M991.1,656.7L990.5,713.5M996.8,656.8L995.8,714.9M1002.6,656.9L1001.2,715.9M1008.3,657.1L1006.5,716.4M1014.0,657.2L1011.9,716.6M1019.7,657.4L1017.3,716.4M1025.4,657.7L1022.6,716.1M1031.1,658.1L1028.0,715.6M1036.8,658.6L1033.3,715.2M1042.5,659.4L1038.6,714.8M1048.0,660.6L1043.9,714.4M1053.2,663.0L1048.9,714.2M1056.5,667.6L1052.7,713.9M1059.2,672.6L1056.1,713.7M1063.8,675.9L1060.8,713.4M1069.1,678.0L1065.9,713.1M1074.6,679.7L1071.1,712.9M1080.0,681.6L1076.2,712.7M1085.1,684.1L1081.2,712.7M1089.8,687.3L1085.9,713.0M1094.3,690.9L1090.5,713.4M1098.5,694.7L1094.8,713.8M1102.5,698.8L1099.1,714.1M1106.2,703.1L1103.2,714.0M1109.6,707.7L1107.0,713.3M1112.7,712.5L1110.7,710.3M1115.7,717.4L1114.3,705.0M1116.3,721.3L1116.3,701.3" stroke="#72e0fb" stroke-width="1.9" stroke-linecap="round" stroke-dasharray="0.01 4.6" fill="none" opacity="0.8"/>
<path d="M968.0,722.0 L968.0,718.8 L967.7,714.3 L967.3,708.8 L967.0,703.0 L967.1,697.1 L967.8,691.6 L969.4,687.1 L972.0,683.8 L975.9,681.9 L981.1,680.9 L987.2,680.7 L993.8,680.9 L1000.7,681.5 L1007.5,682.1 L1013.9,682.5 L1019.6,682.6 L1024.7,682.4 L1029.6,682.1 L1034.3,681.7 L1038.8,681.4 L1043.1,681.1 L1047.2,680.9 L1051.2,680.9 L1055.0,681.0 L1058.5,681.2 L1061.8,681.5 L1064.8,681.8 L1067.7,682.3 L1070.5,682.9 L1073.3,683.8 L1076.1,684.8 L1079.0,686.2 L1082.1,687.9 L1085.2,690.1 L1088.4,692.5 L1091.6,695.1 L1094.7,697.8 L1097.7,700.5 L1100.5,703.0 L1103.0,705.3 L1105.3,707.5 L1107.6,709.8 L1109.7,712.1 L1111.7,714.2 L1113.4,716.3 L1115.0,718.1 L1116.3,719.6 L1117.3,720.8" stroke="#1680bd" stroke-width="5" fill="none" opacity="0.55" transform="translate(0,-1.5)"/>
<path d="M968.0,722.0 L968.0,718.8 L967.7,714.3 L967.3,708.8 L967.0,703.0 L967.1,697.1 L967.8,691.6 L969.4,687.1 L972.0,683.8 L975.9,681.9 L981.1,680.9 L987.2,680.7 L993.8,680.9 L1000.7,681.5 L1007.5,682.1 L1013.9,682.5 L1019.6,682.6 L1024.7,682.4 L1029.6,682.1 L1034.3,681.7 L1038.8,681.4 L1043.1,681.1 L1047.2,680.9 L1051.2,680.9 L1055.0,681.0 L1058.5,681.2 L1061.8,681.5 L1064.8,681.8 L1067.7,682.3 L1070.5,682.9 L1073.3,683.8 L1076.1,684.8 L1079.0,686.2 L1082.1,687.9 L1085.2,690.1 L1088.4,692.5 L1091.6,695.1 L1094.7,697.8 L1097.7,700.5 L1100.5,703.0 L1103.0,705.3 L1105.3,707.5 L1107.6,709.8 L1109.7,712.1 L1111.7,714.2 L1113.4,716.3 L1115.0,718.1 L1116.3,719.6 L1117.3,720.8 L1117.3,703.0 L1112.2,711.1 L1107.0,715.2 L1101.9,715.8 L1096.7,715.6 L1091.6,715.1 L1086.4,714.7 L1081.3,714.4 L1076.1,714.5 L1071.0,714.6 L1065.8,714.9 L1060.7,715.2 L1055.5,715.5 L1050.4,715.8 L1045.2,716.1 L1040.1,716.4 L1034.9,716.8 L1029.8,717.2 L1024.6,717.7 L1019.5,718.0 L1014.3,718.2 L1009.2,718.2 L1004.0,717.9 L998.9,717.1 L993.7,715.9 L988.6,714.5 L983.4,712.9 L978.3,711.0 L973.1,708.8 L968.0,706.5Z" fill="#20a4dc"/>
<path d="M968.0,722.0L968.0,706.5M967.8,716.1L972.2,708.4M967.4,710.3L976.5,710.3M967.1,704.4L980.8,711.9M967.1,698.5L985.1,713.4M967.7,692.7L989.6,714.8M969.4,687.1L994.0,716.0M973.5,683.1L998.5,717.0M979.1,681.3L1003.1,717.7M984.9,680.8L1007.7,718.1M990.8,680.8L1012.4,718.2M996.6,681.1L1017.0,718.1M1002.5,681.6L1021.6,717.9M1008.3,682.1L1026.2,717.5M1014.2,682.5L1030.8,717.1M1020.1,682.6L1035.4,716.8M1025.9,682.3L1040.1,716.4M1031.8,681.9L1044.7,716.1M1037.6,681.5L1049.3,715.9M1043.5,681.1L1053.9,715.6M1049.4,680.9L1058.5,715.3M1055.3,681.0L1063.1,715.0M1061.1,681.4L1067.8,714.8M1066.9,682.2L1072.4,714.6M1072.6,683.6L1077.0,714.5M1078.1,685.8L1081.6,714.5M1083.2,688.7L1086.3,714.7M1087.9,692.1L1090.9,715.0M1092.5,695.9L1095.5,715.5M1096.9,699.7L1100.1,715.7M1101.2,703.7L1104.7,715.5M1105.5,707.7L1108.8,713.8M1109.6,711.9L1112.3,710.8M1113.5,716.3L1114.8,706.9M1117.3,720.8L1117.3,703.0" stroke="#25b6e8" stroke-width="3.8" fill="none"/>
<path d="M968.0,722.0L968.0,706.5M967.8,716.1L972.2,708.4M967.4,710.3L976.5,710.3M967.1,704.4L980.8,711.9M967.1,698.5L985.1,713.4M967.7,692.7L989.6,714.8M969.4,687.1L994.0,716.0M973.5,683.1L998.5,717.0M979.1,681.3L1003.1,717.7M984.9,680.8L1007.7,718.1M990.8,680.8L1012.4,718.2M996.6,681.1L1017.0,718.1M1002.5,681.6L1021.6,717.9M1008.3,682.1L1026.2,717.5M1014.2,682.5L1030.8,717.1M1020.1,682.6L1035.4,716.8M1025.9,682.3L1040.1,716.4M1031.8,681.9L1044.7,716.1M1037.6,681.5L1049.3,715.9M1043.5,681.1L1053.9,715.6M1049.4,680.9L1058.5,715.3M1055.3,681.0L1063.1,715.0M1061.1,681.4L1067.8,714.8M1066.9,682.2L1072.4,714.6M1072.6,683.6L1077.0,714.5M1078.1,685.8L1081.6,714.5M1083.2,688.7L1086.3,714.7M1087.9,692.1L1090.9,715.0M1092.5,695.9L1095.5,715.5M1096.9,699.7L1100.1,715.7M1101.2,703.7L1104.7,715.5M1105.5,707.7L1108.8,713.8M1109.6,711.9L1112.3,710.8M1113.5,716.3L1114.8,706.9M1117.3,720.8L1117.3,703.0" stroke="#38c8f2" stroke-width="4.3" stroke-linecap="round" stroke-dasharray="0.01 4.6" fill="none"/>
<path d="M967.3,721.3L967.3,705.8M967.1,715.4L971.5,707.7M966.7,709.6L975.8,709.6M966.4,703.7L980.1,711.2M966.4,697.8L984.4,712.7M967.0,692.0L988.9,714.1M968.7,686.4L993.3,715.3M972.8,682.4L997.8,716.3M978.4,680.6L1002.4,717.0M984.2,680.1L1007.0,717.4M990.1,680.1L1011.7,717.5M995.9,680.4L1016.3,717.4M1001.8,680.9L1020.9,717.2M1007.6,681.4L1025.5,716.8M1013.5,681.8L1030.1,716.4M1019.4,681.9L1034.7,716.1M1025.2,681.6L1039.4,715.7M1031.1,681.2L1044.0,715.4M1036.9,680.8L1048.6,715.2M1042.8,680.4L1053.2,714.9M1048.7,680.2L1057.8,714.6M1054.6,680.3L1062.4,714.3M1060.4,680.7L1067.1,714.1M1066.2,681.5L1071.7,713.9M1071.9,682.9L1076.3,713.8M1077.4,685.1L1080.9,713.8M1082.5,688.0L1085.6,714.0M1087.2,691.4L1090.2,714.3M1091.8,695.2L1094.8,714.8M1096.2,699.0L1099.4,715.0M1100.5,703.0L1104.0,714.8M1104.8,707.0L1108.1,713.1M1108.9,711.2L1111.6,710.1M1112.8,715.6L1114.1,706.2M1116.6,720.1L1116.6,702.3" stroke="#72e0fb" stroke-width="1.9" stroke-linecap="round" stroke-dasharray="0.01 4.6" fill="none" opacity="0.8"/>
<path d="M968.0,722.0 L968.0,718.8 L967.7,714.3 L967.3,708.8 L967.0,703.0 L967.1,697.1 L967.8,691.6 L969.4,687.1 L972.0,683.8 L975.9,681.9 L981.1,680.9 L987.2,680.7 L993.8,680.9 L1000.7,681.5 L1007.5,682.1 L1013.9,682.5 L1019.6,682.6 L1024.7,682.4 L1029.6,682.1 L1034.3,681.7 L1038.8,681.4 L1043.1,681.1 L1047.2,680.9 L1051.2,680.9 L1055.0,681.0 L1058.5,681.2 L1061.8,681.5 L1064.8,681.8 L1067.7,682.3 L1070.5,682.9 L1073.3,683.8 L1076.1,684.8 L1079.0,686.2 L1082.1,687.9 L1085.2,690.1 L1088.4,692.5 L1091.6,695.1 L1094.7,697.8 L1097.7,700.5 L1100.5,703.0 L1103.0,705.3 L1105.3,707.5 L1107.6,709.8 L1109.7,712.1 L1111.7,714.2 L1113.4,716.3 L1115.0,718.1 L1116.3,719.6 L1117.3,720.8" stroke="#58d8fa" stroke-width="4.4" stroke-linecap="round" stroke-dasharray="0.01 5" fill="none"/>
<path d="M811.0,703.0 L816.2,704.4 L821.4,705.8 L826.6,707.1 L831.7,708.4 L836.9,709.5 L842.1,710.4 L847.3,711.0 L852.5,711.3 L857.7,711.4 L862.9,711.2 L868.1,710.9 L873.2,710.4 L878.4,709.7 L883.6,708.8 L888.8,707.8 L894.0,706.6 L899.2,705.3 L904.4,703.7 L909.5,701.8 L914.7,700.0 L919.9,698.6 L925.1,697.6 L930.3,696.7 L935.5,696.3 L940.7,696.3 L945.8,696.9 L951.0,698.0 L956.2,699.3 L961.4,700.9 L966.6,702.9 L971.8,705.2 L977.0,707.5 L982.2,709.5 L987.3,711.1 L992.5,712.6 L997.7,713.9 L1002.9,714.7 L1008.1,715.2 L1013.3,715.2 L1018.5,715.1 L1023.6,714.7 L1028.8,714.3 L1034.0,713.9 L1039.2,713.5 L1044.4,713.2 L1049.6,712.9 L1054.8,712.5 L1059.9,712.2 L1065.1,711.9 L1070.3,711.7 L1075.5,711.5 L1080.7,711.4 L1085.9,711.6 L1091.1,712.0 L1096.3,712.5 L1101.4,712.8 L1106.6,712.3 L1111.8,708.5 L1117.0,700.0 L1117.0,722.0 L1111.8,730.6 L1106.6,734.5 L1101.4,735.0 L1096.3,734.8 L1091.1,734.4 L1085.9,734.0 L1080.7,733.9 L1075.5,734.0 L1070.3,734.3 L1065.1,734.6 L1059.9,735.0 L1054.8,735.3 L1049.6,735.7 L1044.4,736.1 L1039.2,736.5 L1034.0,737.0 L1028.8,737.5 L1023.6,737.9 L1018.5,738.4 L1013.3,738.6 L1008.1,738.6 L1002.9,738.2 L997.7,737.4 L992.5,736.2 L987.3,734.8 L982.2,733.2 L977.0,731.3 L971.8,729.1 L966.6,726.8 L961.4,724.9 L956.2,723.4 L951.0,722.1 L945.8,721.2 L940.7,720.6 L935.5,720.7 L930.3,721.2 L925.1,722.1 L919.9,723.2 L914.7,724.6 L909.5,726.5 L904.4,728.5 L899.2,730.2 L894.0,731.5 L888.8,732.7 L883.6,733.9 L878.4,734.8 L873.2,735.6 L868.1,736.2 L862.9,736.6 L857.7,736.8 L852.5,736.7 L847.3,736.5 L842.1,736.0 L836.9,735.2 L831.7,734.1 L826.6,732.9 L821.4,731.6 L816.2,730.3 L811.0,729.0Z" fill="#24a8de"/>
<path d="M812.0,713.3L812.0,720.7M814.0,713.3L814.0,720.7M820.8,715.7L820.8,723.0M822.8,715.7L822.8,723.0M829.6,717.9L829.6,725.1M831.6,717.9L831.6,725.1M838.4,719.8L838.4,726.8M840.4,719.8L840.4,726.8M847.2,720.8L847.2,727.8M849.2,720.8L849.2,727.8M856.0,721.2L856.0,728.0M858.0,721.2L858.0,728.0M864.8,720.9L864.8,727.6M866.8,720.9L866.8,727.6M873.6,720.1L873.6,726.6M875.6,720.1L875.6,726.6M882.4,718.6L882.4,725.1M884.4,718.6L884.4,725.1M891.2,716.8L891.2,723.1M893.2,716.8L893.2,723.1M900.0,714.6L900.0,720.8M902.0,714.6L902.0,720.8M908.8,711.5L908.8,717.6M910.8,711.5L910.8,717.6M917.6,708.7L917.6,714.7M919.6,708.7L919.6,714.7M926.4,707.0L926.4,712.8M928.4,707.0L928.4,712.8M935.2,706.1L935.2,711.8M937.2,706.1L937.2,711.8M944.0,706.6L944.0,712.2M946.0,706.6L946.0,712.2M952.8,708.4L952.8,714.0M954.8,708.4L954.8,714.0M961.6,711.1L961.6,716.5M963.6,711.1L963.6,716.5M970.4,714.8L970.4,720.1M972.4,714.8L972.4,720.1M979.2,718.6L979.2,723.8M981.2,718.6L981.2,723.8M988.0,721.4L988.0,726.5M990.0,721.4L990.0,726.5M996.8,723.7L996.8,728.6M998.8,723.7L998.8,728.6M1005.6,724.9L1005.6,729.7M1007.6,724.9L1007.6,729.7M1014.4,725.0L1014.4,729.7M1016.4,725.0L1016.4,729.7M1023.2,724.5L1023.2,729.1M1025.2,724.5L1025.2,729.1M1032.0,723.8L1032.0,728.3M1034.0,723.8L1034.0,728.3M1040.8,723.1L1040.8,727.5M1042.8,723.1L1042.8,727.5M1049.6,722.6L1049.6,726.9M1051.6,722.6L1051.6,726.9M1058.4,722.0L1058.4,726.2M1060.4,722.0L1060.4,726.2M1067.2,721.6L1067.2,725.6M1069.2,721.6L1069.2,725.6M1076.0,721.2L1076.0,725.2M1078.0,721.2L1078.0,725.2M1084.8,721.4L1084.8,725.2M1086.8,721.4L1086.8,725.2M1093.6,722.2L1093.6,725.9M1095.6,722.2L1095.6,725.9M1102.4,722.6L1102.4,726.2M1104.4,722.6L1104.4,726.2M1111.2,717.8L1111.2,721.3M1113.2,717.8L1113.2,721.3" stroke="#4cc8f2" stroke-width="1" fill="none"/>
<circle cx="817.4" cy="709.6" r="4.9" fill="url(#sph)"/>
<circle cx="826.2" cy="711.9" r="4.9" fill="url(#sph)"/>
<circle cx="835.0" cy="714.0" r="4.9" fill="url(#sph)"/>
<circle cx="843.8" cy="715.5" r="4.9" fill="url(#sph)"/>
<circle cx="852.6" cy="716.2" r="4.9" fill="url(#sph)"/>
<circle cx="861.4" cy="716.2" r="4.9" fill="url(#sph)"/>
<circle cx="870.2" cy="715.7" r="4.9" fill="url(#sph)"/>
<circle cx="879.0" cy="714.5" r="4.9" fill="url(#sph)"/>
<circle cx="887.8" cy="712.9" r="4.9" fill="url(#sph)"/>
<circle cx="896.6" cy="710.9" r="4.9" fill="url(#sph)"/>
<circle cx="905.4" cy="708.3" r="4.9" fill="url(#sph)"/>
<circle cx="914.2" cy="705.1" r="4.9" fill="url(#sph)"/>
<circle cx="923.0" cy="702.9" r="4.9" fill="url(#sph)"/>
<circle cx="931.8" cy="701.5" r="4.9" fill="url(#sph)"/>
<circle cx="940.6" cy="701.2" r="4.9" fill="url(#sph)"/>
<circle cx="949.4" cy="702.5" r="4.9" fill="url(#sph)"/>
<circle cx="958.2" cy="704.8" r="4.9" fill="url(#sph)"/>
<circle cx="967.0" cy="708.0" r="4.9" fill="url(#sph)"/>
<circle cx="975.8" cy="711.9" r="4.9" fill="url(#sph)"/>
<circle cx="984.6" cy="715.1" r="4.9" fill="url(#sph)"/>
<circle cx="993.4" cy="717.7" r="4.9" fill="url(#sph)"/>
<circle cx="1002.2" cy="719.5" r="4.9" fill="url(#sph)"/>
<circle cx="1011.0" cy="720.2" r="4.9" fill="url(#sph)"/>
<circle cx="1019.8" cy="719.9" r="4.9" fill="url(#sph)"/>
<circle cx="1028.6" cy="719.2" r="4.9" fill="url(#sph)"/>
<circle cx="1037.4" cy="718.5" r="4.9" fill="url(#sph)"/>
<circle cx="1046.2" cy="718.0" r="4.9" fill="url(#sph)"/>
<circle cx="1055.0" cy="717.4" r="4.9" fill="url(#sph)"/>
<circle cx="1063.8" cy="716.9" r="4.9" fill="url(#sph)"/>
<circle cx="1072.6" cy="716.5" r="4.9" fill="url(#sph)"/>
<circle cx="1081.4" cy="716.3" r="4.9" fill="url(#sph)"/>
<circle cx="1090.2" cy="716.9" r="4.9" fill="url(#sph)"/>
<circle cx="1099.0" cy="717.7" r="4.9" fill="url(#sph)"/>
<circle cx="1107.8" cy="716.8" r="4.9" fill="url(#sph)"/>
</g>
<circle cx="813.0" cy="725.8" r="4.9" fill="url(#sph)"/>
<circle cx="821.8" cy="728.1" r="4.9" fill="url(#sph)"/>
<circle cx="830.6" cy="730.2" r="4.9" fill="url(#sph)"/>
<circle cx="839.4" cy="731.9" r="4.9" fill="url(#sph)"/>
<circle cx="848.2" cy="732.9" r="4.9" fill="url(#sph)"/>
<circle cx="857.0" cy="733.1" r="4.9" fill="url(#sph)"/>
<circle cx="865.8" cy="732.7" r="4.9" fill="url(#sph)"/>
<circle cx="874.6" cy="731.7" r="4.9" fill="url(#sph)"/>
<circle cx="883.4" cy="730.2" r="4.9" fill="url(#sph)"/>
<circle cx="892.2" cy="728.2" r="4.9" fill="url(#sph)"/>
<circle cx="901.0" cy="725.9" r="4.9" fill="url(#sph)"/>
<circle cx="909.8" cy="722.7" r="4.9" fill="url(#sph)"/>
<circle cx="918.6" cy="719.8" r="4.9" fill="url(#sph)"/>
<circle cx="927.4" cy="717.9" r="4.9" fill="url(#sph)"/>
<circle cx="936.2" cy="716.9" r="4.9" fill="url(#sph)"/>
<circle cx="945.0" cy="717.3" r="4.9" fill="url(#sph)"/>
<circle cx="953.8" cy="719.1" r="4.9" fill="url(#sph)"/>
<circle cx="962.6" cy="721.6" r="4.9" fill="url(#sph)"/>
<circle cx="971.4" cy="725.2" r="4.9" fill="url(#sph)"/>
<circle cx="980.2" cy="728.9" r="4.9" fill="url(#sph)"/>
<circle cx="989.0" cy="731.6" r="4.9" fill="url(#sph)"/>
<circle cx="997.8" cy="733.7" r="4.9" fill="url(#sph)"/>
<circle cx="1006.6" cy="734.8" r="4.9" fill="url(#sph)"/>
<circle cx="1015.4" cy="734.8" r="4.9" fill="url(#sph)"/>
<circle cx="1024.2" cy="734.2" r="4.9" fill="url(#sph)"/>
<circle cx="1033.0" cy="733.4" r="4.9" fill="url(#sph)"/>
<circle cx="1041.8" cy="732.6" r="4.9" fill="url(#sph)"/>
<circle cx="1050.6" cy="732.0" r="4.9" fill="url(#sph)"/>
<circle cx="1059.4" cy="731.3" r="4.9" fill="url(#sph)"/>
<circle cx="1068.2" cy="730.7" r="4.9" fill="url(#sph)"/>
<circle cx="1077.0" cy="730.3" r="4.9" fill="url(#sph)"/>
<circle cx="1085.8" cy="730.3" r="4.9" fill="url(#sph)"/>
<circle cx="1094.6" cy="731.0" r="4.9" fill="url(#sph)"/>
<circle cx="1103.4" cy="731.3" r="4.9" fill="url(#sph)"/>
<circle cx="1112.2" cy="726.4" r="4.9" fill="url(#sph)"/>
<path d="M827,140 C865,162 895,172 930,172 L930,143 L1003,191 L930,239 L930,205 C893,205 862,215 827,238 Z" fill="url(#bigArrow)"/>
<path d="M317,157 C337,135 367,118 403,114 L405,105 L418,118.5 L404,136 L402.5,129 C370,129 342,139 317,157 Z" fill="url(#arrG)"/>
<path d="M316,199 C336,224 370,235 406,234 L407,222 L421.5,241 L408,253 L406,247 C366,246 336,232 316,199 Z" fill="url(#arrG)"/>
<path transform="translate(293.5,601.3)" d="M0,0 C20,13 45,15 82,14.6 C92,14 98,12.5 103.5,11.2 L103.7,3.9 L122.2,18.5 L111,37 L109.8,30.3 C92,30.7 67,30 51,27 C31,22.5 12,14 0,0 Z" fill="url(#arrG)"/>
<path transform="translate(717.4,608.5)" d="M0,0 C20,13 45,15 82,14.6 C92,14 98,12.5 103.5,11.2 L103.7,3.9 L122.2,18.5 L111,37 L109.8,30.3 C92,30.7 67,30 51,27 C31,22.5 12,14 0,0 Z" fill="url(#arrG)"/>
<path transform="translate(1044.6,604.7)" d="M0,0 C20,13 45,15 82,14.6 C92,14 98,12.5 103.5,11.2 L103.7,3.9 L122.2,18.5 L111,37 L109.8,30.3 C92,30.7 67,30 51,27 C31,22.5 12,14 0,0 Z" fill="url(#arrG)"/>
<g id="fishOff">
<path d="M1053,212 C1052,180 1062,155 1085,139 C1110,134 1170,135 1208,134 C1225,126 1248,122 1263,125 C1273,130 1274,155 1266,160 C1246,166 1222,165 1205,162 C1180,161 1150,163 1122,166 L1088,195 L1076,228 C1066,234 1056,226 1053,212 Z" fill="#e9e7ec"/>
<path d="M1056,218 C1054,190 1060,165 1075,152 C1085,144 1100,142 1130,141 C1170,140 1220,140 1258,141 C1256,145 1250,148 1240,150 C1215,154 1190,157 1160,158 C1135,160 1115,162 1100,166 C1085,175 1080,200 1078,218 C1072,224 1060,224 1056,218 Z" fill="#9ebdcd"/>
<ellipse cx="1103" cy="190" rx="21.5" ry="32.5" fill="#15191c" stroke="#eef4f8" stroke-width="1.2"/>
<path d="M1108,163 C1130,162 1160,162 1178,160.5 C1173,170 1165,173.5 1150,174 C1138,175 1128,178 1122,184 Z" fill="#15191c"/>
<ellipse cx="1068.6" cy="203.5" rx="9.5" ry="12.5" fill="#34505e"/>
<ellipse cx="1068" cy="205" rx="5.5" ry="7" fill="#2b2a30"/>
</g>
<g id="fishOn">
<path d="M1211,654.6 C1200,654 1192,648 1191,630 C1190,605 1193,585 1205,575 C1215,565 1230,561 1260,560 L1357,557.7 C1365,553 1375,550 1390,550 C1402,551 1408,556 1406,565 C1404,575 1395,582 1373,587 C1350,589 1320,590 1312,592 C1305,596 1300,600 1290,602 C1275,603 1265,604 1258,610 C1262,625 1258,650 1240,650 C1232,650 1226,647 1222,645 C1218,648 1215,652 1211,654.6 Z" fill="#e8344a"/>
<path d="M1241.9,564.6 C1221,566 1205,573.5 1197.5,587.5 C1192.8,600 1192.2,620 1192.8,634 C1194,643.5 1199.5,648 1207,648 C1213,646.5 1218,642 1220,638 L1222,600 C1228,590 1240,588 1256,587 C1290,584 1330,582 1365,579 C1380,576 1390,571 1396,565.3 C1370,563 1330,563.5 1297.7,564 C1270,564.5 1250,565 1241.9,565.2 Z" fill="#fdfdfd"/>
<ellipse cx="1239.6" cy="615.9" rx="21" ry="33.5" fill="#e8344a"/>
<path d="M1235,590 C1245,583 1252,585 1258,587 C1275,586 1290,587 1300,587.5 L1299,600.5 C1285,602 1270,603 1262,606 Z" fill="#e8344a"/>
<ellipse cx="1205.5" cy="628.3" rx="10.5" ry="15.2" fill="#fdfdfd"/>
<ellipse cx="1205.5" cy="628.3" rx="8.5" ry="13.2" fill="#e8344a"/>
</g>
<g filter="url(#blurB)" opacity="0.75"><rect x="60.5" y="117" width="38.8" height="32.5" fill="#5a90ff"/><path d="M70.1,120.0 L70.1,113.8 A9.5,9.5 0 0 1 89.0,113.8 L89.0,120.0" stroke="#5a90ff" stroke-width="10.6" fill="none"/></g>
<path d="M70.1,120.0 L70.1,113.8 A9.5,9.5 0 0 1 89.0,113.8 L89.0,120.0" stroke="#3a4ee2" stroke-width="6.6" fill="none"/>
<rect x="62.5" y="119" width="34.8" height="28.5" rx="1.5" fill="#3a4ee2"/>
<rect x="62.5" y="143.3" width="34.8" height="1.3" fill="#7f8ff0" opacity="0.8"/>
<g filter="url(#blurB)" opacity="0.75"><rect x="137" y="125.6" width="41.19999999999999" height="30.900000000000006" fill="#ff7080"/><path d="M147.3,128.6 L147.3,121.0 A10.2,10.2 0 0 1 167.8,121.0 L167.8,128.6" stroke="#ff7080" stroke-width="10.5" fill="none"/></g>
<path d="M147.3,128.6 L147.3,121.0 A10.2,10.2 0 0 1 167.8,121.0 L167.8,128.6" stroke="#e82a40" stroke-width="6.5" fill="none"/>
<rect x="139" y="127.6" width="37.19999999999999" height="26.900000000000006" rx="1.5" fill="#e82a40"/>
<rect x="139" y="150.3" width="37.19999999999999" height="1.3" fill="#c9a060" opacity="0.8"/>
<path d="M155.8,138.9 a1.9,1.9 0 1 1 3.6,0 l-0.6,5 h-2.4 Z" fill="#ffffff"/>
<g filter="url(#blurB)" opacity="0.75"><rect x="601.7" y="44" width="38.69999999999993" height="30.799999999999997" fill="#ff7080"/><path d="M611.5,47.0 L611.5,39.0 A9.2,9.2 0 0 1 630.0,39.0 L630.0,47.0" stroke="#ff7080" stroke-width="10.3" fill="none"/></g>
<path d="M611.5,47.0 L611.5,39.0 A9.2,9.2 0 0 1 630.0,39.0 L630.0,47.0" stroke="#e82a40" stroke-width="6.3" fill="none"/>
<rect x="603.7" y="46" width="34.69999999999993" height="26.799999999999997" rx="1.5" fill="#e82a40"/>
<rect x="603.7" y="68.6" width="34.69999999999993" height="1.3" fill="#c9a060" opacity="0.8"/>
<path d="M619.2,57.3 a1.9,1.9 0 1 1 3.6,0 l-0.6,5 h-2.4 Z" fill="#ffffff"/>
<g filter="url(#blurB)" opacity="0.75"><rect x="629.1" y="238.2" width="39.60000000000002" height="30.400000000000034" fill="#5a90ff"/><path d="M639.8,241.2 L639.8,233.3 A9.2,9.2 0 0 1 658.1,233.3 L658.1,241.2" stroke="#5a90ff" stroke-width="10.3" fill="none"/></g>
<path d="M639.8,241.2 L639.8,233.3 A9.2,9.2 0 0 1 658.1,233.3 L658.1,241.2" stroke="#3a4ee2" stroke-width="6.3" fill="none"/>
<rect x="631.1" y="240.2" width="35.60000000000002" height="26.400000000000034" rx="1.5" fill="#3a4ee2"/>
<rect x="631.1" y="262.4" width="35.60000000000002" height="1.3" fill="#7f8ff0" opacity="0.8"/>
<g filter="url(#blurB)" opacity="0.75"><rect x="54.5" y="567.4" width="41.3" height="34.39999999999998" fill="#5a90ff"/><path d="M65.9,570.4 L65.9,565.0 A9.7,9.7 0 0 1 85.3,565.0 L85.3,570.4" stroke="#5a90ff" stroke-width="10.6" fill="none"/></g>
<path d="M65.9,570.4 L65.9,565.0 A9.7,9.7 0 0 1 85.3,565.0 L85.3,570.4" stroke="#3a4ee2" stroke-width="6.6" fill="none"/>
<rect x="56.5" y="569.4" width="37.3" height="30.399999999999977" rx="1.5" fill="#3a4ee2"/>
<rect x="56.5" y="595.6" width="37.3" height="1.3" fill="#7f8ff0" opacity="0.8"/>
<g filter="url(#blurB)" opacity="0.75"><rect x="144.7" y="586.5" width="41.30000000000001" height="30.899999999999977" fill="#ff7080"/><path d="M155.2,589.5 L155.2,582.0 A10.2,10.2 0 0 1 175.6,582.0 L175.6,589.5" stroke="#ff7080" stroke-width="10.5" fill="none"/></g>
<path d="M155.2,589.5 L155.2,582.0 A10.2,10.2 0 0 1 175.6,582.0 L175.6,589.5" stroke="#e82a40" stroke-width="6.5" fill="none"/>
<rect x="146.7" y="588.5" width="37.30000000000001" height="26.899999999999977" rx="1.5" fill="#e82a40"/>
<rect x="146.7" y="611.2" width="37.30000000000001" height="1.3" fill="#c9a060" opacity="0.8"/>
<path d="M163.5,599.8 a1.9,1.9 0 1 1 3.6,0 l-0.6,5 h-2.4 Z" fill="#ffffff"/>
<path d="M67.6,271.4 L67.6,263.2 A9.0,9.0 0 0 1 85.6,263.2 L85.6,271.4" stroke="#9c9ea3" stroke-width="4.4" fill="none"/>
<rect x="61.6" y="270.4" width="29.999999999999993" height="26.200000000000045" rx="1.5" fill="#9c9ea3"/>
<path d="M69.6,282.4 a2.8,2.8 0 1 1 5.6,0 C75.2,285.4 73.6,288.4 72.4,289.9 C71.2,288.4 69.6,285.4 69.6,282.4 Z" fill="#3a50e8"/>
<path d="M78.0,282.4 a2.8,2.8 0 1 1 5.6,0 C83.6,285.4 82.0,288.4 80.8,289.9 C79.6,288.4 78.0,285.4 78.0,282.4 Z" fill="#e83048"/>
<path d="M59.2,749.5 L59.2,740.8 A8.5,8.5 0 0 1 76.3,740.8 L76.3,749.5" stroke="#9c9ea3" stroke-width="4.4" fill="none"/>
<rect x="53.1" y="748.5" width="29.300000000000004" height="25.5" rx="1.5" fill="#9c9ea3"/>
<path d="M60.8,760.2 a2.8,2.8 0 1 1 5.6,0 C66.4,763.2 64.8,766.2 63.6,767.7 C62.4,766.2 60.8,763.2 60.8,760.2 Z" fill="#3a50e8"/>
<path d="M69.1,760.2 a2.8,2.8 0 1 1 5.6,0 C74.7,763.2 73.1,766.2 71.9,767.7 C70.7,766.2 69.1,763.2 69.1,760.2 Z" fill="#e83048"/>
<rect x="518.5" y="757.8" width="32.39999999999998" height="25.40000000000009" rx="1.5" fill="#9c9ea3"/>
<path d="M527.4,769.5 a2.8,2.8 0 1 1 5.6,0 C533.0,772.5 531.4,775.5 530.2,777.0 C529.0,775.5 527.4,772.5 527.4,769.5 Z" fill="#3a50e8"/>
<path d="M536.4,769.5 a2.8,2.8 0 1 1 5.6,0 C542.0,772.5 540.4,775.5 539.2,777.0 C538.0,775.5 536.4,772.5 536.4,769.5 Z" fill="#e83048"/>
<path d="M509,757 L509,750 A8,8 0 0 1 525,750 L525,758" stroke="#9c9ea3" stroke-width="4.4" fill="none"/>
<g transform="translate(349.8,83.7)"><g filter="url(#blurK)" opacity="0.85"><ellipse cx="15.5" cy="3" rx="40.0" ry="16" fill="#86c0ff" opacity="0.5"/><ellipse cx="-7.5" cy="-7.9" rx="4.7" ry="6.0" fill="none" stroke="#86c0ff" stroke-width="8.1"/><ellipse cx="-16.6" cy="0.3" rx="4.7" ry="6.8" fill="none" stroke="#86c0ff" stroke-width="8.1"/><ellipse cx="-7.5" cy="9.3" rx="4.7" ry="6.0" fill="none" stroke="#86c0ff" stroke-width="8.1"/><path d="M-5.5,-2.9000000000000004 L5,-1.2 L5,2.2 L-5.5,4.300000000000001 Z" fill="#86c0ff"/><path d="M-6.5,0.5 L-2.5,-4.5 L3.5,-1.2 L3.5,2.6 L-2.5,5.5 Z" fill="#86c0ff"/><rect x="3" y="-0.9" width="47.5" height="7" fill="#86c0ff"/><path d="M39.2,1 L39.7,10.3 L42.7,13.3 L46.2,7.300000000000001 L46.2,1 Z" fill="#86c0ff"/><path d="M-20.9,4.5 L-32.9,17.1 L-30.4,19.3 L-19.5,5.7 Z" stroke="#86c0ff" stroke-width="5.6" stroke-linejoin="round" fill="#86c0ff"/></g><ellipse cx="-7.5" cy="-7.9" rx="4.7" ry="6.0" fill="none" stroke="#2f3fe8" stroke-width="3.1"/><ellipse cx="-16.6" cy="0.3" rx="4.7" ry="6.8" fill="none" stroke="#2f3fe8" stroke-width="3.1"/><ellipse cx="-7.5" cy="9.3" rx="4.7" ry="6.0" fill="none" stroke="#2f3fe8" stroke-width="3.1"/><path d="M-5.5,-2.9000000000000004 L5,-1.2 L5,2.2 L-5.5,4.300000000000001 Z" fill="#2f3fe8"/><path d="M-6.5,0.5 L-2.5,-4.5 L3.5,-1.2 L3.5,2.6 L-2.5,5.5 Z" fill="#2f3fe8"/><rect x="3" y="-0.9" width="47.5" height="3" fill="#2f3fe8"/><path d="M39.2,1 L39.7,10.3 L42.7,13.3 L46.2,7.300000000000001 L46.2,1 Z" fill="#2f3fe8"/><path d="M-20.9,4.5 L-32.9,17.1 L-30.4,19.3 L-19.5,5.7 Z" stroke="#2f3fe8" stroke-width="0.6" stroke-linejoin="round" fill="#2f3fe8"/></g>
<g transform="translate(358.3,273.1)"><g filter="url(#blurK)" opacity="0.85"><ellipse cx="16.7" cy="3" rx="44.9" ry="16" fill="#ff96a2" opacity="0.5"/><ellipse cx="-11.2" cy="-5.8" rx="5.6" ry="6.4" fill="none" stroke="#ff96a2" stroke-width="8.1"/><ellipse cx="-21.5" cy="0.8" rx="5.6" ry="7.2" fill="none" stroke="#ff96a2" stroke-width="8.1"/><ellipse cx="-11.2" cy="8.5" rx="5.6" ry="6.4" fill="none" stroke="#ff96a2" stroke-width="8.1"/><path d="M-9.2,-0.39999999999999947 L5,-1.2 L5,2.2 L-9.2,3.0999999999999996 Z" fill="#ff96a2"/><path d="M-10.2,0.5 L-6.199999999999999,-4.5 L-0.1999999999999993,-1.2 L-0.1999999999999993,2.6 L-6.199999999999999,5.5 Z" fill="#ff96a2"/><rect x="3" y="-0.9" width="53.6" height="7" fill="#ff96a2"/><path d="M43.1,1 L43.6,9 L47.150000000000006,12 L51.2,6 L51.2,1 Z" fill="#ff96a2"/><path d="M-26.1,5.2 L-41.2,16.0 L-39.2,18.6 L-25.0,6.6 Z" stroke="#ff96a2" stroke-width="5.6" stroke-linejoin="round" fill="#ff96a2"/></g><ellipse cx="-11.2" cy="-5.8" rx="5.6" ry="6.4" fill="none" stroke="#e8283e" stroke-width="3.1"/><ellipse cx="-21.5" cy="0.8" rx="5.6" ry="7.2" fill="none" stroke="#e8283e" stroke-width="3.1"/><ellipse cx="-11.2" cy="8.5" rx="5.6" ry="6.4" fill="none" stroke="#e8283e" stroke-width="3.1"/><path d="M-9.2,-0.39999999999999947 L5,-1.2 L5,2.2 L-9.2,3.0999999999999996 Z" fill="#e8283e"/><path d="M-10.2,0.5 L-6.199999999999999,-4.5 L-0.1999999999999993,-1.2 L-0.1999999999999993,2.6 L-6.199999999999999,5.5 Z" fill="#e8283e"/><rect x="3" y="-0.9" width="53.6" height="3" fill="#e8283e"/><path d="M43.1,1 L43.6,9 L47.150000000000006,12 L51.2,6 L51.2,1 Z" fill="#e8283e"/><path d="M-26.1,5.2 L-41.2,16.0 L-39.2,18.6 L-25.0,6.6 Z" stroke="#e8283e" stroke-width="0.6" stroke-linejoin="round" fill="#e8283e"/></g>
<g transform="translate(345.1,564.3)"><g filter="url(#blurK)" opacity="0.85"><ellipse cx="13.9" cy="3" rx="39.5" ry="16" fill="#86c0ff" opacity="0.5"/><ellipse cx="-8.6" cy="-7.4" rx="4.7" ry="5.8" fill="none" stroke="#86c0ff" stroke-width="8.1"/><ellipse cx="-16.3" cy="0" rx="4.7" ry="6.6" fill="none" stroke="#86c0ff" stroke-width="8.1"/><ellipse cx="-8.6" cy="8.1" rx="4.7" ry="5.8" fill="none" stroke="#86c0ff" stroke-width="8.1"/><path d="M-6.6,-2.6000000000000005 L5,-1.2 L5,2.2 L-6.6,3.3 Z" fill="#86c0ff"/><path d="M-7.6,0.5 L-3.5999999999999996,-4.5 L2.4000000000000004,-1.2 L2.4000000000000004,2.6 L-3.5999999999999996,5.5 Z" fill="#86c0ff"/><rect x="3" y="-0.9" width="45.4" height="7" fill="#86c0ff"/><path d="M37.2,1 L37.7,9.4 L41.25,12.4 L45.3,6.4 L45.3,1 Z" fill="#86c0ff"/><path d="M-20.5,4.0 L-34.1,17.4 L-31.7,19.6 L-19.2,5.3 Z" stroke="#86c0ff" stroke-width="5.6" stroke-linejoin="round" fill="#86c0ff"/></g><ellipse cx="-8.6" cy="-7.4" rx="4.7" ry="5.8" fill="none" stroke="#2f3fe8" stroke-width="3.1"/><ellipse cx="-16.3" cy="0" rx="4.7" ry="6.6" fill="none" stroke="#2f3fe8" stroke-width="3.1"/><ellipse cx="-8.6" cy="8.1" rx="4.7" ry="5.8" fill="none" stroke="#2f3fe8" stroke-width="3.1"/><path d="M-6.6,-2.6000000000000005 L5,-1.2 L5,2.2 L-6.6,3.3 Z" fill="#2f3fe8"/><path d="M-7.6,0.5 L-3.5999999999999996,-4.5 L2.4000000000000004,-1.2 L2.4000000000000004,2.6 L-3.5999999999999996,5.5 Z" fill="#2f3fe8"/><rect x="3" y="-0.9" width="45.4" height="3" fill="#2f3fe8"/><path d="M37.2,1 L37.7,9.4 L41.25,12.4 L45.3,6.4 L45.3,1 Z" fill="#2f3fe8"/><path d="M-20.5,4.0 L-34.1,17.4 L-31.7,19.6 L-19.2,5.3 Z" stroke="#2f3fe8" stroke-width="0.6" stroke-linejoin="round" fill="#2f3fe8"/></g>
<g transform="translate(344.5,666)"><g filter="url(#blurK)" opacity="0.85"><ellipse cx="16.9" cy="3" rx="43.9" ry="16" fill="#ff96a2" opacity="0.5"/><ellipse cx="-9.9" cy="-6.2" rx="5.0" ry="5.4" fill="none" stroke="#ff96a2" stroke-width="8.1"/><ellipse cx="-19.4" cy="0" rx="5.0" ry="6.2" fill="none" stroke="#ff96a2" stroke-width="8.1"/><ellipse cx="-9.9" cy="6.8" rx="5.0" ry="5.4" fill="none" stroke="#ff96a2" stroke-width="8.1"/><path d="M-7.9,-1.7999999999999998 L5,-1.2 L5,2.2 L-7.9,2.3999999999999995 Z" fill="#ff96a2"/><path d="M-8.9,0.5 L-4.9,-4.5 L1.0999999999999996,-1.2 L1.0999999999999996,2.6 L-4.9,5.5 Z" fill="#ff96a2"/><rect x="3" y="-0.9" width="52.8" height="7" fill="#ff96a2"/><path d="M42.1,1 L42.6,8.2 L46.75,11.2 L51.4,5.199999999999999 L51.4,1 Z" fill="#ff96a2"/><path d="M-23.7,3.6 L-40.1,15.3 L-38.1,17.9 L-22.6,5.0 Z" stroke="#ff96a2" stroke-width="5.6" stroke-linejoin="round" fill="#ff96a2"/></g><ellipse cx="-9.9" cy="-6.2" rx="5.0" ry="5.4" fill="none" stroke="#e8283e" stroke-width="3.1"/><ellipse cx="-19.4" cy="0" rx="5.0" ry="6.2" fill="none" stroke="#e8283e" stroke-width="3.1"/><ellipse cx="-9.9" cy="6.8" rx="5.0" ry="5.4" fill="none" stroke="#e8283e" stroke-width="3.1"/><path d="M-7.9,-1.7999999999999998 L5,-1.2 L5,2.2 L-7.9,2.3999999999999995 Z" fill="#e8283e"/><path d="M-8.9,0.5 L-4.9,-4.5 L1.0999999999999996,-1.2 L1.0999999999999996,2.6 L-4.9,5.5 Z" fill="#e8283e"/><rect x="3" y="-0.9" width="52.8" height="3" fill="#e8283e"/><path d="M42.1,1 L42.6,8.2 L46.75,11.2 L51.4,5.199999999999999 L51.4,1 Z" fill="#e8283e"/><path d="M-23.7,3.6 L-40.1,15.3 L-38.1,17.9 L-22.6,5.0 Z" stroke="#e8283e" stroke-width="0.6" stroke-linejoin="round" fill="#e8283e"/></g>
<path d="M144.5,139.4 L145.4,140.0 L146.4,140.9 L147.7,142.0 L149.1,143.2 L150.6,144.4 L152.2,145.6 L153.9,146.7 L155.7,147.6 L157.4,148.2 L159.2,148.4 L161.0,148.2 L162.9,147.5 L165.0,146.5 L167.1,145.4 L169.2,144.1 L171.3,142.8 L173.4,141.6 L175.5,140.7 L177.4,140.1 L179.2,140.0" fill="none" stroke="#4b3fb0" stroke-width="2" stroke-linecap="round"/><path d="M179.2,140.0 L180.9,140.4 L182.4,141.3 L183.9,142.6 L185.4,144.0 L186.8,145.6 L188.1,147.2 L189.5,148.7 L190.9,149.9 L192.4,150.7 L193.9,151.0 L195.5,150.7 L197.1,149.9 L198.8,148.8 L200.5,147.4 L202.2,145.8 L204.0,144.3 L205.7,142.8 L207.4,141.6 L209.1,140.8 L210.7,140.5" fill="none" stroke="#2e2e34" stroke-width="2" stroke-linecap="round"/><path d="M210.7,140.5 L212.3,140.8 L213.9,141.5 L215.5,142.6 L217.0,143.9 L218.6,145.4 L220.2,146.8 L221.7,148.2 L223.3,149.3 L224.9,150.2 L226.5,150.5 L228.1,150.3 L229.8,149.7 L231.5,148.7 L233.2,147.6 L234.9,146.3 L236.6,145.0 L238.3,143.8 L240.0,142.9 L241.7,142.3 L243.3,142.1 L244.9,142.5 L246.5,143.3 L248.2,144.5 L249.8,145.9 L251.3,147.4 L252.9,148.9 L254.5,150.3 L256.0,151.4 L257.5,152.3 L259.0,152.6 L260.5,152.5 L262.1,151.9 L263.7,151.1 L265.3,150.0 L266.8,148.8 L268.3,147.6 L269.7,146.3 L270.9,145.2 L271.9,144.3 L272.7,143.7" fill="none" stroke="#26b48e" stroke-width="2" stroke-linecap="round"/>
<path d="M147.7,600.6 L148.6,601.2 L149.6,602.1 L150.9,603.2 L152.3,604.4 L153.8,605.6 L155.4,606.8 L157.1,607.9 L158.9,608.8 L160.6,609.4 L162.4,609.6 L164.2,609.4 L166.1,608.7 L168.2,607.7 L170.3,606.6 L172.4,605.3 L174.5,604.0 L176.6,602.8 L178.7,601.9 L180.6,601.3 L182.4,601.2" fill="none" stroke="#4b3fb0" stroke-width="2" stroke-linecap="round"/><path d="M182.4,601.2 L184.1,601.6 L185.6,602.5 L187.1,603.8 L188.6,605.2 L190.0,606.8 L191.3,608.4 L192.7,609.9 L194.1,611.1 L195.6,611.9 L197.1,612.2 L198.7,611.9 L200.3,611.1 L202.0,610.0 L203.7,608.6 L205.4,607.0 L207.2,605.5 L208.9,604.0 L210.6,602.8 L212.3,602.0 L213.9,601.7" fill="none" stroke="#2e2e34" stroke-width="2" stroke-linecap="round"/><path d="M213.9,601.7 L215.5,602.0 L217.1,602.7 L218.7,603.8 L220.2,605.1 L221.8,606.6 L223.4,608.0 L224.9,609.4 L226.5,610.5 L228.1,611.4 L229.7,611.7 L231.3,611.5 L233.0,610.9 L234.7,609.9 L236.4,608.8 L238.1,607.5 L239.8,606.2 L241.5,605.0 L243.2,604.1 L244.9,603.5 L246.5,603.3 L248.1,603.7 L249.7,604.5 L251.4,605.7 L253.0,607.1 L254.5,608.6 L256.1,610.1 L257.7,611.5 L259.2,612.6 L260.7,613.5 L262.2,613.8 L263.7,613.7 L265.3,613.1 L266.9,612.3 L268.5,611.2 L270.0,610.0 L271.5,608.8 L272.9,607.5 L274.1,606.4 L275.1,605.5 L275.9,604.9" fill="none" stroke="#26b48e" stroke-width="2" stroke-linecap="round"/>
<path d="M606.8,57.0 L607.7,57.7 L608.7,58.6 L610.0,59.8 L611.4,61.1 L613.0,62.5 L614.6,63.8 L616.3,64.9 L618.0,65.8 L619.8,66.4 L621.5,66.5 L623.2,66.1 L625.1,65.2 L627.0,63.9 L628.9,62.3 L630.9,60.6 L632.9,59.0 L634.8,57.4 L636.8,56.2 L638.7,55.3 L640.5,55.0" fill="none" stroke="#4b3fb0" stroke-width="2" stroke-linecap="round"/><path d="M640.5,55.0 L642.3,55.3 L644.0,56.2 L645.7,57.5 L647.4,59.1 L649.1,60.8 L650.8,62.5 L652.4,64.1 L654.0,65.4 L655.7,66.2 L657.3,66.5 L658.9,66.1 L660.5,65.1 L662.0,63.7 L663.6,62.0 L665.1,60.2 L666.6,58.4 L668.2,56.7 L669.7,55.3 L671.3,54.3 L673.0,53.9" fill="none" stroke="#2e2e34" stroke-width="2" stroke-linecap="round"/><path d="M673.0,53.9 L674.7,54.2 L676.4,55.1 L678.2,56.4 L680.0,58.0 L681.8,59.7 L683.6,61.4 L685.5,63.0 L687.3,64.3 L689.1,65.2 L690.9,65.5 L692.7,65.1 L694.5,64.1 L696.3,62.7 L698.2,61.0 L700.0,59.1 L701.8,57.3 L703.6,55.6 L705.4,54.2 L707.1,53.2 L708.8,52.8 L710.5,53.1 L712.1,53.9 L713.8,55.2 L715.4,56.8 L717.0,58.5 L718.5,60.2 L720.1,61.8 L721.6,63.1 L723.1,64.0 L724.6,64.4 L726.1,64.2 L727.7,63.5 L729.3,62.5 L730.9,61.3 L732.4,59.9 L733.8,58.4 L735.2,57.0 L736.4,55.7 L737.4,54.6 L738.2,53.9" fill="none" stroke="#26b48e" stroke-width="2" stroke-linecap="round"/>
<g transform="translate(105,106)"><circle cx="-26" cy="26" r="5" fill="#eef4dc"/><path d="M-27.5,24 a1.8,1.8 0 1 1 3,0 l-0.4,5 h-2.2 Z" fill="#ffffff"/><path d="M-4,-11.5 C-11,-11 -13,-4 -12,2 C-11,8 -6,12 0,12 C7,12 12,7 12,0 C12,-7 8,-12 1,-12" fill="none" stroke="#c8d962" stroke-width="2.1"/><line x1="10.7" y1="-6.9" x2="23.7" y2="-23.9" stroke="#c8d962" stroke-width="2.0"/><line x1="5.3" y1="-11.1" x2="18.3" y2="-28.1" stroke="#c8d962" stroke-width="2.0"/><line x1="12.3" y1="-9.1" x2="6.9" y2="-13.2" stroke="#c8d962" stroke-width="1.4"/><line x1="15.6" y1="-13.3" x2="10.2" y2="-17.4" stroke="#c8d962" stroke-width="1.4"/><line x1="18.8" y1="-17.6" x2="13.4" y2="-21.7" stroke="#c8d962" stroke-width="1.4"/><line x1="22.1" y1="-21.8" x2="16.7" y2="-25.9" stroke="#c8d962" stroke-width="1.4"/><line x1="5.5" y1="11.0" x2="16.0" y2="24.0" stroke="#c8d962" stroke-width="2.0"/><line x1="10.5" y1="7.0" x2="21.0" y2="20.0" stroke="#c8d962" stroke-width="2.0"/><line x1="7.3" y1="13.2" x2="12.2" y2="9.2" stroke="#c8d962" stroke-width="1.4"/><line x1="10.8" y1="17.5" x2="15.7" y2="13.5" stroke="#c8d962" stroke-width="1.4"/><line x1="14.3" y1="21.8" x2="19.2" y2="17.8" stroke="#c8d962" stroke-width="1.4"/><circle cx="23" cy="28.5" r="6.3" fill="none" stroke="#c8d962" stroke-width="2.1"/><line x1="-11.4" y1="6.3" x2="-22.9" y2="18.8" stroke="#c8d962" stroke-width="2.0"/><line x1="-6.6" y1="10.7" x2="-18.1" y2="23.2" stroke="#c8d962" stroke-width="2.0"/><line x1="-13.3" y1="8.4" x2="-8.6" y2="12.7" stroke="#c8d962" stroke-width="1.4"/><line x1="-17.1" y1="12.6" x2="-12.4" y2="16.9" stroke="#c8d962" stroke-width="1.4"/><line x1="-20.9" y1="16.8" x2="-16.2" y2="21.1" stroke="#c8d962" stroke-width="1.4"/><circle cx="-26" cy="26" r="5.8" fill="none" stroke="#c8d962" stroke-width="2.1"/><path d="M22,-24 L30,-31 Q36,-37 40,-32 L47,-26" fill="none" stroke="#2e2e32" stroke-width="2"/><line x1="50.3" y1="-19.5" x2="65.3" y2="-31.0" stroke="#26b48e" stroke-width="2.0"/><line x1="45.7" y1="-25.5" x2="60.7" y2="-37.0" stroke="#26b48e" stroke-width="2.0"/><line x1="52.2" y1="-20.9" x2="47.6" y2="-27.0" stroke="#26b48e" stroke-width="1.4"/><line x1="55.9" y1="-23.8" x2="51.3" y2="-29.8" stroke="#26b48e" stroke-width="1.4"/><line x1="59.7" y1="-26.7" x2="55.1" y2="-32.7" stroke="#26b48e" stroke-width="1.4"/><line x1="63.4" y1="-29.5" x2="58.8" y2="-35.6" stroke="#26b48e" stroke-width="1.4"/><line x1="52" y1="-17" x2="67" y2="-30" stroke="#b04050" stroke-width="1.9"/><circle cx="72.3" cy="-42.8" r="10.3" fill="none" stroke="#26b48e" stroke-width="2.3"/></g>
<g transform="translate(675.8,226.5)"><circle cx="-26" cy="26" r="5" fill="#eef4dc"/><path d="M-27.5,24 a1.8,1.8 0 1 1 3,0 l-0.4,5 h-2.2 Z" fill="#ffffff"/><path d="M-4,-11.5 C-11,-11 -13,-4 -12,2 C-11,8 -6,12 0,12 C7,12 12,7 12,0 C12,-7 8,-12 1,-12" fill="none" stroke="#c8d962" stroke-width="2.1"/><line x1="10.7" y1="-6.9" x2="23.7" y2="-23.9" stroke="#c8d962" stroke-width="2.0"/><line x1="5.3" y1="-11.1" x2="18.3" y2="-28.1" stroke="#c8d962" stroke-width="2.0"/><line x1="12.3" y1="-9.1" x2="6.9" y2="-13.2" stroke="#c8d962" stroke-width="1.4"/><line x1="15.6" y1="-13.3" x2="10.2" y2="-17.4" stroke="#c8d962" stroke-width="1.4"/><line x1="18.8" y1="-17.6" x2="13.4" y2="-21.7" stroke="#c8d962" stroke-width="1.4"/><line x1="22.1" y1="-21.8" x2="16.7" y2="-25.9" stroke="#c8d962" stroke-width="1.4"/><line x1="5.5" y1="11.0" x2="16.0" y2="24.0" stroke="#c8d962" stroke-width="2.0"/><line x1="10.5" y1="7.0" x2="21.0" y2="20.0" stroke="#c8d962" stroke-width="2.0"/><line x1="7.3" y1="13.2" x2="12.2" y2="9.2" stroke="#c8d962" stroke-width="1.4"/><line x1="10.8" y1="17.5" x2="15.7" y2="13.5" stroke="#c8d962" stroke-width="1.4"/><line x1="14.3" y1="21.8" x2="19.2" y2="17.8" stroke="#c8d962" stroke-width="1.4"/><circle cx="23" cy="28.5" r="6.3" fill="none" stroke="#c8d962" stroke-width="2.1"/><line x1="-11.4" y1="6.3" x2="-22.9" y2="18.8" stroke="#c8d962" stroke-width="2.0"/><line x1="-6.6" y1="10.7" x2="-18.1" y2="23.2" stroke="#c8d962" stroke-width="2.0"/><line x1="-13.3" y1="8.4" x2="-8.6" y2="12.7" stroke="#c8d962" stroke-width="1.4"/><line x1="-17.1" y1="12.6" x2="-12.4" y2="16.9" stroke="#c8d962" stroke-width="1.4"/><line x1="-20.9" y1="16.8" x2="-16.2" y2="21.1" stroke="#c8d962" stroke-width="1.4"/><circle cx="-26" cy="26" r="5.8" fill="none" stroke="#c8d962" stroke-width="2.1"/><path d="M22,-24 L30,-31 Q36,-37 40,-32 L47,-26" fill="none" stroke="#2e2e32" stroke-width="2"/><line x1="50.3" y1="-19.5" x2="65.3" y2="-31.0" stroke="#26b48e" stroke-width="2.0"/><line x1="45.7" y1="-25.5" x2="60.7" y2="-37.0" stroke="#26b48e" stroke-width="2.0"/><line x1="52.2" y1="-20.9" x2="47.6" y2="-27.0" stroke="#26b48e" stroke-width="1.4"/><line x1="55.9" y1="-23.8" x2="51.3" y2="-29.8" stroke="#26b48e" stroke-width="1.4"/><line x1="59.7" y1="-26.7" x2="55.1" y2="-32.7" stroke="#26b48e" stroke-width="1.4"/><line x1="63.4" y1="-29.5" x2="58.8" y2="-35.6" stroke="#26b48e" stroke-width="1.4"/><line x1="52" y1="-17" x2="67" y2="-30" stroke="#b04050" stroke-width="1.9"/><circle cx="72.3" cy="-42.8" r="10.3" fill="none" stroke="#26b48e" stroke-width="2.3"/></g>
<g transform="translate(100.5,557.5)"><circle cx="-26" cy="26" r="5" fill="#eef4dc"/><path d="M-27.5,24 a1.8,1.8 0 1 1 3,0 l-0.4,5 h-2.2 Z" fill="#ffffff"/><path d="M-4,-11.5 C-11,-11 -13,-4 -12,2 C-11,8 -6,12 0,12 C7,12 12,7 12,0 C12,-7 8,-12 1,-12" fill="none" stroke="#c8d962" stroke-width="2.1"/><line x1="10.7" y1="-6.9" x2="23.7" y2="-23.9" stroke="#c8d962" stroke-width="2.0"/><line x1="5.3" y1="-11.1" x2="18.3" y2="-28.1" stroke="#c8d962" stroke-width="2.0"/><line x1="12.3" y1="-9.1" x2="6.9" y2="-13.2" stroke="#c8d962" stroke-width="1.4"/><line x1="15.6" y1="-13.3" x2="10.2" y2="-17.4" stroke="#c8d962" stroke-width="1.4"/><line x1="18.8" y1="-17.6" x2="13.4" y2="-21.7" stroke="#c8d962" stroke-width="1.4"/><line x1="22.1" y1="-21.8" x2="16.7" y2="-25.9" stroke="#c8d962" stroke-width="1.4"/><line x1="5.5" y1="11.0" x2="16.0" y2="24.0" stroke="#c8d962" stroke-width="2.0"/><line x1="10.5" y1="7.0" x2="21.0" y2="20.0" stroke="#c8d962" stroke-width="2.0"/><line x1="7.3" y1="13.2" x2="12.2" y2="9.2" stroke="#c8d962" stroke-width="1.4"/><line x1="10.8" y1="17.5" x2="15.7" y2="13.5" stroke="#c8d962" stroke-width="1.4"/><line x1="14.3" y1="21.8" x2="19.2" y2="17.8" stroke="#c8d962" stroke-width="1.4"/><circle cx="23" cy="28.5" r="6.3" fill="none" stroke="#c8d962" stroke-width="2.1"/><line x1="-11.4" y1="6.3" x2="-22.9" y2="18.8" stroke="#c8d962" stroke-width="2.0"/><line x1="-6.6" y1="10.7" x2="-18.1" y2="23.2" stroke="#c8d962" stroke-width="2.0"/><line x1="-13.3" y1="8.4" x2="-8.6" y2="12.7" stroke="#c8d962" stroke-width="1.4"/><line x1="-17.1" y1="12.6" x2="-12.4" y2="16.9" stroke="#c8d962" stroke-width="1.4"/><line x1="-20.9" y1="16.8" x2="-16.2" y2="21.1" stroke="#c8d962" stroke-width="1.4"/><circle cx="-26" cy="26" r="5.8" fill="none" stroke="#c8d962" stroke-width="2.1"/><path d="M22,-24 L30,-31 Q36,-37 40,-32 L47,-26" fill="none" stroke="#2e2e32" stroke-width="2"/><line x1="50.3" y1="-19.5" x2="65.3" y2="-31.0" stroke="#26b48e" stroke-width="2.0"/><line x1="45.7" y1="-25.5" x2="60.7" y2="-37.0" stroke="#26b48e" stroke-width="2.0"/><line x1="52.2" y1="-20.9" x2="47.6" y2="-27.0" stroke="#26b48e" stroke-width="1.4"/><line x1="55.9" y1="-23.8" x2="51.3" y2="-29.8" stroke="#26b48e" stroke-width="1.4"/><line x1="59.7" y1="-26.7" x2="55.1" y2="-32.7" stroke="#26b48e" stroke-width="1.4"/><line x1="63.4" y1="-29.5" x2="58.8" y2="-35.6" stroke="#26b48e" stroke-width="1.4"/><line x1="52" y1="-17" x2="67" y2="-30" stroke="#b04050" stroke-width="1.9"/><circle cx="72.3" cy="-42.8" r="10.3" fill="none" stroke="#26b48e" stroke-width="2.3"/></g>
<g transform="translate(525.5,50.9) rotate(10) scale(0.68)"><circle cx="-26" cy="26" r="5" fill="#eef4dc"/><path d="M-27.5,24 a1.8,1.8 0 1 1 3,0 l-0.4,5 h-2.2 Z" fill="#ffffff"/><path d="M-4,-11.5 C-11,-11 -13,-4 -12,2 C-11,8 -6,12 0,12 C7,12 12,7 12,0 C12,-7 8,-12 1,-12" fill="none" stroke="#c8d962" stroke-width="2.1"/><line x1="10.7" y1="-6.9" x2="23.7" y2="-23.9" stroke="#c8d962" stroke-width="2.0"/><line x1="5.3" y1="-11.1" x2="18.3" y2="-28.1" stroke="#c8d962" stroke-width="2.0"/><line x1="12.3" y1="-9.1" x2="6.9" y2="-13.2" stroke="#c8d962" stroke-width="1.4"/><line x1="15.6" y1="-13.3" x2="10.2" y2="-17.4" stroke="#c8d962" stroke-width="1.4"/><line x1="18.8" y1="-17.6" x2="13.4" y2="-21.7" stroke="#c8d962" stroke-width="1.4"/><line x1="22.1" y1="-21.8" x2="16.7" y2="-25.9" stroke="#c8d962" stroke-width="1.4"/><line x1="5.5" y1="11.0" x2="16.0" y2="24.0" stroke="#c8d962" stroke-width="2.0"/><line x1="10.5" y1="7.0" x2="21.0" y2="20.0" stroke="#c8d962" stroke-width="2.0"/><line x1="7.3" y1="13.2" x2="12.2" y2="9.2" stroke="#c8d962" stroke-width="1.4"/><line x1="10.8" y1="17.5" x2="15.7" y2="13.5" stroke="#c8d962" stroke-width="1.4"/><line x1="14.3" y1="21.8" x2="19.2" y2="17.8" stroke="#c8d962" stroke-width="1.4"/><circle cx="23" cy="28.5" r="6.3" fill="none" stroke="#c8d962" stroke-width="2.1"/><line x1="-11.4" y1="6.3" x2="-22.9" y2="18.8" stroke="#c8d962" stroke-width="2.0"/><line x1="-6.6" y1="10.7" x2="-18.1" y2="23.2" stroke="#c8d962" stroke-width="2.0"/><line x1="-13.3" y1="8.4" x2="-8.6" y2="12.7" stroke="#c8d962" stroke-width="1.4"/><line x1="-17.1" y1="12.6" x2="-12.4" y2="16.9" stroke="#c8d962" stroke-width="1.4"/><line x1="-20.9" y1="16.8" x2="-16.2" y2="21.1" stroke="#c8d962" stroke-width="1.4"/><circle cx="-26" cy="26" r="5.8" fill="none" stroke="#c8d962" stroke-width="2.1"/><path d="M22,-24 L30,-31 Q36,-37 40,-32 L47,-26" fill="none" stroke="#2e2e32" stroke-width="2"/><line x1="50.3" y1="-19.5" x2="65.3" y2="-31.0" stroke="#26b48e" stroke-width="2.0"/><line x1="45.7" y1="-25.5" x2="60.7" y2="-37.0" stroke="#26b48e" stroke-width="2.0"/><line x1="52.2" y1="-20.9" x2="47.6" y2="-27.0" stroke="#26b48e" stroke-width="1.4"/><line x1="55.9" y1="-23.8" x2="51.3" y2="-29.8" stroke="#26b48e" stroke-width="1.4"/><line x1="59.7" y1="-26.7" x2="55.1" y2="-32.7" stroke="#26b48e" stroke-width="1.4"/><line x1="63.4" y1="-29.5" x2="58.8" y2="-35.6" stroke="#26b48e" stroke-width="1.4"/><line x1="52" y1="-17" x2="67" y2="-30" stroke="#b04050" stroke-width="1.9"/><circle cx="72.3" cy="-42.8" r="10.3" fill="none" stroke="#26b48e" stroke-width="2.3"/></g>
<g>
<path d="M505,64.5 L528.2,74.8 L533.6,86.4 L524.1,91.8 L512.5,100 M524.1,91.8 L529.5,104.1 M533.6,86.4 L537.7,89.1 L547.3,93.2 L560.9,105.5 L554.1,112.3" fill="none" stroke="#2c3440" stroke-width="1.9"/>
<circle cx="505" cy="64.5" r="3" fill="#e0c050"/>
<circle cx="528.2" cy="74.8" r="2.8" fill="#6a4fe0"/>
<circle cx="524.1" cy="91.8" r="2.6" fill="#6a4fe0"/>
<circle cx="537.7" cy="89.1" r="2.6" fill="#6a4fe0"/>
<circle cx="512.5" cy="100" r="3" fill="#e08040"/>
<circle cx="529.5" cy="104.1" r="2.8" fill="#e06040"/>
<rect x="544.5" y="91" width="5" height="4" fill="#e0e040"/>
</g>
<g transform="translate(210.4,68.3)"><circle cx="0" cy="0" r="14" fill="none" stroke="#c64f84" stroke-width="1.8"/><circle cx="0" cy="0" r="11.6" fill="none" stroke="#c64f84" stroke-width="1" stroke-dasharray="0.8 2.2" opacity="0.7"/><path d="M-5,12.8 C-2,18 6,22 2,30 C-2,37 -6,40 -3,46" fill="none" stroke="#c64f84" stroke-width="1.9"/><path d="M5,12.8 C2,18 -6,22 -2,30 C2,37 5,40 2,47" fill="none" stroke="#c64f84" stroke-width="1.9"/><ellipse cx="0" cy="23" rx="3" ry="5" fill="#e58fb0" opacity="0.8"/><ellipse cx="0" cy="37" rx="2.6" ry="4.5" fill="#e58fb0" opacity="0.8"/><path d="M-3,46 C-5,48 -9,48 -12,47.5" fill="none" stroke="#c64f84" stroke-width="1.9"/><path d="M2,47 C-4,52 -5,60 -1,67" fill="none" stroke="#d6ceb4" stroke-width="2"/></g>
<g transform="translate(248.2,69.2)"><circle cx="0" cy="0" r="14" fill="none" stroke="#c64f84" stroke-width="1.8"/><circle cx="0" cy="0" r="11.6" fill="none" stroke="#c64f84" stroke-width="1" stroke-dasharray="0.8 2.2" opacity="0.7"/><path d="M-5,12.8 C-2,18 6,22 2,30 C-2,37 -6,40 -3,46" fill="none" stroke="#c64f84" stroke-width="1.9"/><path d="M5,12.8 C2,18 -6,22 -2,30 C2,37 5,40 2,47" fill="none" stroke="#c64f84" stroke-width="1.9"/><ellipse cx="0" cy="23" rx="3" ry="5" fill="#e58fb0" opacity="0.8"/><ellipse cx="0" cy="37" rx="2.6" ry="4.5" fill="#e58fb0" opacity="0.8"/><path d="M-3,46 C-5,48 -9,48 -12,47.5" fill="none" stroke="#c64f84" stroke-width="1.9"/><path d="M2,47 C-4,52 -5,60 -1,67" fill="none" stroke="#d6ceb4" stroke-width="2"/></g>
<g transform="translate(659.9,554.1)"><circle cx="0" cy="0" r="14" fill="none" stroke="#c64f84" stroke-width="1.8"/><circle cx="0" cy="0" r="11.6" fill="none" stroke="#c64f84" stroke-width="1" stroke-dasharray="0.8 2.2" opacity="0.7"/><path d="M-5,12.8 C-2,18 6,22 2,30 C-2,37 -6,40 -3,46" fill="none" stroke="#c64f84" stroke-width="1.9"/><path d="M5,12.8 C2,18 -6,22 -2,30 C2,37 5,40 2,47" fill="none" stroke="#c64f84" stroke-width="1.9"/><ellipse cx="0" cy="23" rx="3" ry="5" fill="#e58fb0" opacity="0.8"/><ellipse cx="0" cy="37" rx="2.6" ry="4.5" fill="#e58fb0" opacity="0.8"/><path d="M-3,46 C-5,48 -9,48 -12,47.5" fill="none" stroke="#c64f84" stroke-width="1.9"/><path d="M2,47 C-4,52 -5,60 -1,67" fill="none" stroke="#d6ceb4" stroke-width="2"/></g>
<g transform="translate(699.4,554.1)"><circle cx="0" cy="0" r="14" fill="none" stroke="#c64f84" stroke-width="1.8"/><circle cx="0" cy="0" r="11.6" fill="none" stroke="#c64f84" stroke-width="1" stroke-dasharray="0.8 2.2" opacity="0.7"/><path d="M-5,12.8 C-2,18 6,22 2,30 C-2,37 -6,40 -3,46" fill="none" stroke="#c64f84" stroke-width="1.9"/><path d="M5,12.8 C2,18 -6,22 -2,30 C2,37 5,40 2,47" fill="none" stroke="#c64f84" stroke-width="1.9"/><ellipse cx="0" cy="23" rx="3" ry="5" fill="#e58fb0" opacity="0.8"/><ellipse cx="0" cy="37" rx="2.6" ry="4.5" fill="#e58fb0" opacity="0.8"/><path d="M-3,46 C-5,48 -9,48 -12,47.5" fill="none" stroke="#c64f84" stroke-width="1.9"/><path d="M2,47 C-4,52 -5,60 -1,67" fill="none" stroke="#d6ceb4" stroke-width="2"/></g>
<g transform="translate(590.1,259.3)"><path d="M-12.5,-19.9 A23.5,23.5 0 0 1 17.5,15.7" fill="none" stroke="#5b4fd6" stroke-width="2.2"/><line x1="-8.1" y1="-16.6" x2="-10.3" y2="-21.1" stroke="#5b4fd6" stroke-width="1.6"/><line x1="-4.8" y1="-17.9" x2="-6.1" y2="-22.7" stroke="#5b4fd6" stroke-width="1.6"/><line x1="-1.3" y1="-18.5" x2="-1.6" y2="-23.4" stroke="#5b4fd6" stroke-width="1.6"/><line x1="2.3" y1="-18.4" x2="2.9" y2="-23.3" stroke="#5b4fd6" stroke-width="1.6"/><line x1="5.7" y1="-17.6" x2="7.3" y2="-22.3" stroke="#5b4fd6" stroke-width="1.6"/><line x1="9.0" y1="-16.2" x2="11.4" y2="-20.6" stroke="#5b4fd6" stroke-width="1.6"/><line x1="11.9" y1="-14.2" x2="15.1" y2="-18.0" stroke="#5b4fd6" stroke-width="1.6"/><line x1="14.4" y1="-11.6" x2="18.3" y2="-14.8" stroke="#5b4fd6" stroke-width="1.6"/><line x1="16.3" y1="-8.7" x2="20.7" y2="-11.0" stroke="#5b4fd6" stroke-width="1.6"/><line x1="17.7" y1="-5.4" x2="22.5" y2="-6.9" stroke="#5b4fd6" stroke-width="1.6"/><line x1="18.4" y1="-1.9" x2="23.4" y2="-2.5" stroke="#5b4fd6" stroke-width="1.6"/><line x1="18.4" y1="1.6" x2="23.4" y2="2.0" stroke="#5b4fd6" stroke-width="1.6"/><line x1="17.8" y1="5.1" x2="22.6" y2="6.5" stroke="#5b4fd6" stroke-width="1.6"/><line x1="16.5" y1="8.4" x2="20.9" y2="10.7" stroke="#5b4fd6" stroke-width="1.6"/><line x1="14.6" y1="11.4" x2="18.5" y2="14.5" stroke="#5b4fd6" stroke-width="1.6"/><path d="M-4.3,15.9 A16.5,16.5 0 1 1 4.3,15.9" fill="none" stroke="#2f3540" stroke-width="2.4"/><path d="M-4.3,15.9 L-4.3,34 M4.3,15.9 L4.3,34" fill="none" stroke="#2f3540" stroke-width="2.4"/><line x1="-4.3" y1="20" x2="4.3" y2="20" stroke="#2f3540" stroke-width="1.4"/><line x1="-4.3" y1="24" x2="4.3" y2="24" stroke="#2f3540" stroke-width="1.4"/><line x1="-4.3" y1="28" x2="4.3" y2="28" stroke="#2f3540" stroke-width="1.4"/><line x1="-4.3" y1="32" x2="4.3" y2="32" stroke="#2f3540" stroke-width="1.4"/><path d="M-16,-5 L-33,-5 M-16,0 L-33,0" stroke="#2f3540" stroke-width="2"/><line x1="-30" y1="-5" x2="-30" y2="0" stroke="#2f3540" stroke-width="1.3"/><line x1="-26" y1="-5" x2="-26" y2="0" stroke="#2f3540" stroke-width="1.3"/><line x1="-22" y1="-5" x2="-22" y2="0" stroke="#2f3540" stroke-width="1.3"/><line x1="-18" y1="-5" x2="-18" y2="0" stroke="#2f3540" stroke-width="1.3"/><circle cx="-38" cy="-2.5" r="5.3" fill="none" stroke="#2f3540" stroke-width="2.2"/></g>
<g transform="translate(570,646.3)"><path d="M-12.5,-19.9 A23.5,23.5 0 0 1 17.5,15.7" fill="none" stroke="#5b4fd6" stroke-width="2.2"/><line x1="-8.1" y1="-16.6" x2="-10.3" y2="-21.1" stroke="#5b4fd6" stroke-width="1.6"/><line x1="-4.8" y1="-17.9" x2="-6.1" y2="-22.7" stroke="#5b4fd6" stroke-width="1.6"/><line x1="-1.3" y1="-18.5" x2="-1.6" y2="-23.4" stroke="#5b4fd6" stroke-width="1.6"/><line x1="2.3" y1="-18.4" x2="2.9" y2="-23.3" stroke="#5b4fd6" stroke-width="1.6"/><line x1="5.7" y1="-17.6" x2="7.3" y2="-22.3" stroke="#5b4fd6" stroke-width="1.6"/><line x1="9.0" y1="-16.2" x2="11.4" y2="-20.6" stroke="#5b4fd6" stroke-width="1.6"/><line x1="11.9" y1="-14.2" x2="15.1" y2="-18.0" stroke="#5b4fd6" stroke-width="1.6"/><line x1="14.4" y1="-11.6" x2="18.3" y2="-14.8" stroke="#5b4fd6" stroke-width="1.6"/><line x1="16.3" y1="-8.7" x2="20.7" y2="-11.0" stroke="#5b4fd6" stroke-width="1.6"/><line x1="17.7" y1="-5.4" x2="22.5" y2="-6.9" stroke="#5b4fd6" stroke-width="1.6"/><line x1="18.4" y1="-1.9" x2="23.4" y2="-2.5" stroke="#5b4fd6" stroke-width="1.6"/><line x1="18.4" y1="1.6" x2="23.4" y2="2.0" stroke="#5b4fd6" stroke-width="1.6"/><line x1="17.8" y1="5.1" x2="22.6" y2="6.5" stroke="#5b4fd6" stroke-width="1.6"/><line x1="16.5" y1="8.4" x2="20.9" y2="10.7" stroke="#5b4fd6" stroke-width="1.6"/><line x1="14.6" y1="11.4" x2="18.5" y2="14.5" stroke="#5b4fd6" stroke-width="1.6"/><path d="M-4.3,15.9 A16.5,16.5 0 1 1 4.3,15.9" fill="none" stroke="#2f3540" stroke-width="2.4"/><path d="M-4.3,15.9 L-4.3,34 M4.3,15.9 L4.3,34" fill="none" stroke="#2f3540" stroke-width="2.4"/><line x1="-4.3" y1="20" x2="4.3" y2="20" stroke="#2f3540" stroke-width="1.4"/><line x1="-4.3" y1="24" x2="4.3" y2="24" stroke="#2f3540" stroke-width="1.4"/><line x1="-4.3" y1="28" x2="4.3" y2="28" stroke="#2f3540" stroke-width="1.4"/><line x1="-4.3" y1="32" x2="4.3" y2="32" stroke="#2f3540" stroke-width="1.4"/><path d="M-16,-5 L-33,-5 M-16,0 L-33,0" stroke="#2f3540" stroke-width="2"/><line x1="-30" y1="-5" x2="-30" y2="0" stroke="#2f3540" stroke-width="1.3"/><line x1="-26" y1="-5" x2="-26" y2="0" stroke="#2f3540" stroke-width="1.3"/><line x1="-22" y1="-5" x2="-22" y2="0" stroke="#2f3540" stroke-width="1.3"/><line x1="-18" y1="-5" x2="-18" y2="0" stroke="#2f3540" stroke-width="1.3"/><circle cx="-38" cy="-2.5" r="5.3" fill="none" stroke="#2f3540" stroke-width="2.2"/></g>
<g transform="translate(949.9,661)"><path d="M-12.5,-19.9 A23.5,23.5 0 0 1 17.5,15.7" fill="none" stroke="#5b4fd6" stroke-width="2.2"/><line x1="-8.1" y1="-16.6" x2="-10.3" y2="-21.1" stroke="#5b4fd6" stroke-width="1.6"/><line x1="-4.8" y1="-17.9" x2="-6.1" y2="-22.7" stroke="#5b4fd6" stroke-width="1.6"/><line x1="-1.3" y1="-18.5" x2="-1.6" y2="-23.4" stroke="#5b4fd6" stroke-width="1.6"/><line x1="2.3" y1="-18.4" x2="2.9" y2="-23.3" stroke="#5b4fd6" stroke-width="1.6"/><line x1="5.7" y1="-17.6" x2="7.3" y2="-22.3" stroke="#5b4fd6" stroke-width="1.6"/><line x1="9.0" y1="-16.2" x2="11.4" y2="-20.6" stroke="#5b4fd6" stroke-width="1.6"/><line x1="11.9" y1="-14.2" x2="15.1" y2="-18.0" stroke="#5b4fd6" stroke-width="1.6"/><line x1="14.4" y1="-11.6" x2="18.3" y2="-14.8" stroke="#5b4fd6" stroke-width="1.6"/><line x1="16.3" y1="-8.7" x2="20.7" y2="-11.0" stroke="#5b4fd6" stroke-width="1.6"/><line x1="17.7" y1="-5.4" x2="22.5" y2="-6.9" stroke="#5b4fd6" stroke-width="1.6"/><line x1="18.4" y1="-1.9" x2="23.4" y2="-2.5" stroke="#5b4fd6" stroke-width="1.6"/><line x1="18.4" y1="1.6" x2="23.4" y2="2.0" stroke="#5b4fd6" stroke-width="1.6"/><line x1="17.8" y1="5.1" x2="22.6" y2="6.5" stroke="#5b4fd6" stroke-width="1.6"/><line x1="16.5" y1="8.4" x2="20.9" y2="10.7" stroke="#5b4fd6" stroke-width="1.6"/><line x1="14.6" y1="11.4" x2="18.5" y2="14.5" stroke="#5b4fd6" stroke-width="1.6"/><path d="M-4.3,15.9 A16.5,16.5 0 1 1 4.3,15.9" fill="none" stroke="#2f3540" stroke-width="2.4"/><path d="M-4.3,15.9 L-4.3,34 M4.3,15.9 L4.3,34" fill="none" stroke="#2f3540" stroke-width="2.4"/><line x1="-4.3" y1="20" x2="4.3" y2="20" stroke="#2f3540" stroke-width="1.4"/><line x1="-4.3" y1="24" x2="4.3" y2="24" stroke="#2f3540" stroke-width="1.4"/><line x1="-4.3" y1="28" x2="4.3" y2="28" stroke="#2f3540" stroke-width="1.4"/><line x1="-4.3" y1="32" x2="4.3" y2="32" stroke="#2f3540" stroke-width="1.4"/><path d="M-16,-5 L-33,-5 M-16,0 L-33,0" stroke="#2f3540" stroke-width="2"/><line x1="-30" y1="-5" x2="-30" y2="0" stroke="#2f3540" stroke-width="1.3"/><line x1="-26" y1="-5" x2="-26" y2="0" stroke="#2f3540" stroke-width="1.3"/><line x1="-22" y1="-5" x2="-22" y2="0" stroke="#2f3540" stroke-width="1.3"/><line x1="-18" y1="-5" x2="-18" y2="0" stroke="#2f3540" stroke-width="1.3"/><circle cx="-38" cy="-2.5" r="5.3" fill="none" stroke="#2f3540" stroke-width="2.2"/></g>
<path d="M574,238.5 C560,239 545,240 543,232 C541,222 546,214 552,209 C558,203 566,202 575,204 C590,208 600,202 614,192.8" fill="none" stroke="#2e2e34" stroke-width="2"/>
<path d="M552,209 C558,203 566,202 575,204 C590,208 600,202 614,192.8" fill="none" stroke="#26b48e" stroke-width="2"/>
<path d="M504,587 C508,583 511,577 515,576.5 C519,576 521,582 522.5,588 C523.5,592 525,596 527,598" fill="none" stroke="#2e2e34" stroke-width="2.1"/>
<path d="M527.0,598.0 L528.3,598.8 L529.7,599.5 L531.0,600.1 L532.3,600.6 L533.6,601.0 L534.9,601.2 L536.1,601.2 L537.4,601.1 L538.5,600.7 L539.7,600.1 L540.9,599.4 L542.0,598.6 L543.1,597.6 L544.2,596.5 L545.2,595.4 L546.3,594.3 L547.4,593.3 L548.5,592.3 L549.6,591.4 L550.8,590.7 L552.0,590.2 L553.1,589.8 L554.4,589.6 L555.6,589.6 L556.9,589.8 L558.2,590.2 L559.5,590.7 L560.8,591.4 L562.2,592.1 L563.5,592.9 L564.8,593.6 L566.2,594.3 L567.5,595.0 L568.8,595.5 L570.1,595.9 L571.4,596.1 L572.6,596.1 L573.9,595.9 L575.0,595.5 L576.2,595.0 L577.4,594.3 L578.5,593.4 L579.6,592.4 L580.7,591.4 L581.8,590.3 L582.8,589.2 L583.9,588.1 L585.0,587.1 L586.1,586.3 L587.3,585.6 L588.5,585.0 L589.6,584.6 L590.9,584.5 L592.1,584.5 L593.4,584.7 L594.7,585.1 L596.0,585.6 L597.3,586.2 L598.7,586.9 L600.0,587.7" fill="none" stroke="#26b48e" stroke-width="1.8"/><path d="M527.0,598.0 L528.1,596.9 L529.2,595.8 L530.3,594.9 L531.4,594.0 L532.5,593.3 L533.7,592.7 L534.9,592.4 L536.1,592.2 L537.4,592.2 L538.6,592.4 L539.9,592.8 L541.2,593.3 L542.6,594.0 L543.9,594.7 L545.2,595.4 L546.6,596.2 L547.9,596.9 L549.3,597.5 L550.6,598.0 L551.9,598.4 L553.1,598.6 L554.4,598.7 L555.6,598.5 L556.8,598.1 L558.0,597.6 L559.1,596.8 L560.2,596.0 L561.3,595.0 L562.4,593.9 L563.5,592.9 L564.6,591.8 L565.7,590.7 L566.8,589.7 L567.9,588.9 L569.0,588.1 L570.2,587.6 L571.4,587.2 L572.6,587.0 L573.9,587.1 L575.1,587.3 L576.4,587.7 L577.7,588.2 L579.1,588.8 L580.4,589.5 L581.8,590.3 L583.1,591.0 L584.4,591.7 L585.8,592.4 L587.1,592.9 L588.4,593.3 L589.6,593.5 L590.9,593.5 L592.1,593.3 L593.3,593.0 L594.5,592.4 L595.6,591.7 L596.7,590.8 L597.8,589.9 L598.9,588.8 L600.0,587.7" fill="none" stroke="#26b48e" stroke-width="1.8"/><line x1="529.9" y1="599.6" x2="529.3" y2="595.7" stroke="#26b48e" stroke-width="1" opacity="0.85"/><line x1="532.7" y1="600.7" x2="531.7" y2="593.8" stroke="#26b48e" stroke-width="1" opacity="0.85"/><line x1="535.4" y1="601.2" x2="534.2" y2="592.6" stroke="#26b48e" stroke-width="1" opacity="0.85"/><line x1="538.0" y1="600.9" x2="536.8" y2="592.2" stroke="#26b48e" stroke-width="1" opacity="0.85"/><line x1="540.5" y1="599.6" x2="539.5" y2="592.7" stroke="#26b48e" stroke-width="1" opacity="0.85"/><line x1="542.9" y1="597.7" x2="542.4" y2="593.9" stroke="#26b48e" stroke-width="1" opacity="0.85"/><line x1="547.6" y1="593.1" x2="548.1" y2="597.0" stroke="#26b48e" stroke-width="1" opacity="0.85"/><line x1="550.0" y1="591.2" x2="551.0" y2="598.2" stroke="#26b48e" stroke-width="1" opacity="0.85"/><line x1="552.5" y1="590.0" x2="553.7" y2="598.7" stroke="#26b48e" stroke-width="1" opacity="0.85"/><line x1="555.1" y1="589.6" x2="556.3" y2="598.3" stroke="#26b48e" stroke-width="1" opacity="0.85"/><line x1="557.8" y1="590.1" x2="558.8" y2="597.1" stroke="#26b48e" stroke-width="1" opacity="0.85"/><line x1="560.6" y1="591.3" x2="561.2" y2="595.2" stroke="#26b48e" stroke-width="1" opacity="0.85"/><line x1="566.4" y1="594.4" x2="565.8" y2="590.5" stroke="#26b48e" stroke-width="1" opacity="0.85"/><line x1="569.2" y1="595.6" x2="568.2" y2="588.6" stroke="#26b48e" stroke-width="1" opacity="0.85"/><line x1="571.9" y1="596.1" x2="570.7" y2="587.4" stroke="#26b48e" stroke-width="1" opacity="0.85"/><line x1="574.5" y1="595.7" x2="573.3" y2="587.0" stroke="#26b48e" stroke-width="1" opacity="0.85"/><line x1="577.0" y1="594.5" x2="576.0" y2="587.5" stroke="#26b48e" stroke-width="1" opacity="0.85"/><line x1="579.4" y1="592.6" x2="578.9" y2="588.7" stroke="#26b48e" stroke-width="1" opacity="0.85"/><line x1="584.1" y1="588.0" x2="584.6" y2="591.8" stroke="#26b48e" stroke-width="1" opacity="0.85"/><line x1="586.5" y1="586.1" x2="587.5" y2="593.0" stroke="#26b48e" stroke-width="1" opacity="0.85"/><line x1="589.0" y1="584.8" x2="590.2" y2="593.5" stroke="#26b48e" stroke-width="1" opacity="0.85"/><line x1="591.6" y1="584.5" x2="592.8" y2="593.1" stroke="#26b48e" stroke-width="1" opacity="0.85"/><line x1="594.3" y1="585.0" x2="595.3" y2="591.9" stroke="#26b48e" stroke-width="1" opacity="0.85"/><line x1="597.1" y1="586.1" x2="597.7" y2="590.0" stroke="#26b48e" stroke-width="1" opacity="0.85"/>
<path d="M596,584 L601,578 L602,588 Z" fill="#26b48e"/>
<path d="M600,588 L622.4,573.4" fill="none" stroke="#b04a5a" stroke-width="2"/>
<path d="M527,601 C524,607 522,615 524,620 C527,625 535,625 556.3,624.5" fill="none" stroke="#2e2e34" stroke-width="2"/>
<path d="M884,606.6 C888,603 891,599 895,598.5 C899,598 901,604 902.5,609 C903.5,613 906,616 909,617.3" fill="none" stroke="#2e2e34" stroke-width="2.1"/>
<path d="M909.0,617.3 L910.2,618.0 L911.5,618.7 L912.7,619.3 L913.9,619.8 L915.1,620.1 L916.2,620.3 L917.3,620.3 L918.4,620.1 L919.4,619.7 L920.4,619.1 L921.4,618.3 L922.3,617.4 L923.2,616.4 L924.1,615.3 L925.0,614.2 L925.9,613.1 L926.8,612.0 L927.7,611.0 L928.6,610.1 L929.6,609.4 L930.6,608.8 L931.6,608.4 L932.7,608.2 L933.8,608.2 L934.9,608.3 L936.1,608.7 L937.3,609.2 L938.5,609.8 L939.8,610.4 L941.0,611.1 L942.2,611.9 L943.5,612.5 L944.7,613.1 L945.9,613.6 L947.1,614.0 L948.2,614.1 L949.3,614.1 L950.4,613.9 L951.4,613.5 L952.4,612.9 L953.4,612.2 L954.3,611.3 L955.2,610.3 L956.1,609.2 L957.0,608.1 L957.9,607.0 L958.8,605.9 L959.7,604.9 L960.6,604.0 L961.6,603.2 L962.6,602.6 L963.6,602.2 L964.7,602.0 L965.8,602.0 L966.9,602.2 L968.1,602.5 L969.3,603.0 L970.5,603.6 L971.8,604.3 L973.0,605.0" fill="none" stroke="#26b48e" stroke-width="1.8"/><path d="M909.0,617.3 L909.9,616.2 L910.8,615.1 L911.7,614.1 L912.6,613.2 L913.6,612.4 L914.6,611.9 L915.6,611.5 L916.7,611.3 L917.8,611.3 L918.9,611.4 L920.1,611.8 L921.3,612.2 L922.5,612.8 L923.8,613.5 L925.0,614.2 L926.2,614.9 L927.5,615.6 L928.7,616.2 L929.9,616.7 L931.1,617.0 L932.2,617.2 L933.3,617.2 L934.4,617.0 L935.4,616.6 L936.4,616.0 L937.4,615.3 L938.3,614.4 L939.2,613.4 L940.1,612.3 L941.0,611.1 L941.9,610.0 L942.8,608.9 L943.7,607.9 L944.6,607.0 L945.6,606.3 L946.6,605.7 L947.6,605.3 L948.7,605.1 L949.8,605.1 L950.9,605.3 L952.1,605.6 L953.3,606.1 L954.5,606.7 L955.8,607.4 L957.0,608.1 L958.2,608.8 L959.5,609.5 L960.7,610.1 L961.9,610.5 L963.1,610.9 L964.2,611.0 L965.3,611.0 L966.4,610.8 L967.4,610.4 L968.4,609.9 L969.4,609.1 L970.3,608.2 L971.2,607.2 L972.1,606.1 L973.0,605.0" fill="none" stroke="#26b48e" stroke-width="1.8"/><line x1="912.0" y1="618.9" x2="911.2" y2="614.7" stroke="#26b48e" stroke-width="1" opacity="0.85"/><line x1="914.8" y1="620.0" x2="913.4" y2="612.6" stroke="#26b48e" stroke-width="1" opacity="0.85"/><line x1="917.5" y1="620.2" x2="915.8" y2="611.4" stroke="#26b48e" stroke-width="1" opacity="0.85"/><line x1="920.0" y1="619.3" x2="918.5" y2="611.3" stroke="#26b48e" stroke-width="1" opacity="0.85"/><line x1="922.3" y1="617.4" x2="921.3" y2="612.2" stroke="#26b48e" stroke-width="1" opacity="0.85"/><line x1="926.6" y1="612.2" x2="927.2" y2="615.5" stroke="#26b48e" stroke-width="1" opacity="0.85"/><line x1="928.8" y1="610.0" x2="930.1" y2="616.8" stroke="#26b48e" stroke-width="1" opacity="0.85"/><line x1="931.2" y1="608.5" x2="932.9" y2="617.2" stroke="#26b48e" stroke-width="1" opacity="0.85"/><line x1="933.8" y1="608.2" x2="935.4" y2="616.6" stroke="#26b48e" stroke-width="1" opacity="0.85"/><line x1="936.6" y1="608.9" x2="937.7" y2="614.9" stroke="#26b48e" stroke-width="1" opacity="0.85"/><line x1="945.4" y1="613.4" x2="944.3" y2="607.4" stroke="#26b48e" stroke-width="1" opacity="0.85"/><line x1="948.2" y1="614.1" x2="946.6" y2="605.7" stroke="#26b48e" stroke-width="1" opacity="0.85"/><line x1="950.8" y1="613.8" x2="949.1" y2="605.1" stroke="#26b48e" stroke-width="1" opacity="0.85"/><line x1="953.2" y1="612.3" x2="951.9" y2="605.5" stroke="#26b48e" stroke-width="1" opacity="0.85"/><line x1="955.4" y1="610.1" x2="954.8" y2="606.8" stroke="#26b48e" stroke-width="1" opacity="0.85"/><line x1="959.7" y1="604.9" x2="960.7" y2="610.1" stroke="#26b48e" stroke-width="1" opacity="0.85"/><line x1="962.0" y1="603.0" x2="963.5" y2="611.0" stroke="#26b48e" stroke-width="1" opacity="0.85"/><line x1="964.5" y1="602.1" x2="966.2" y2="610.9" stroke="#26b48e" stroke-width="1" opacity="0.85"/><line x1="967.2" y1="602.3" x2="968.6" y2="609.7" stroke="#26b48e" stroke-width="1" opacity="0.85"/><line x1="970.0" y1="603.4" x2="970.8" y2="607.6" stroke="#26b48e" stroke-width="1" opacity="0.85"/>
<path d="M969,601.5 L974,595.5 L975,605 Z" fill="#26b48e"/>
<path d="M909,620 C905,627 903,635 906,640 C910,644 918,643.5 936.3,643.2" fill="none" stroke="#2e2e34" stroke-width="2"/>
<path d="M975.0,606.0 L975.7,606.1 L976.4,606.2 L977.1,606.3 L977.8,606.4 L978.5,606.4 L979.2,606.5 L979.8,606.5 L980.5,606.5 L981.1,606.5 L981.8,606.4 L982.4,606.3 L982.9,606.2 L983.5,606.0 L984.1,605.8 L984.6,605.6 L985.1,605.3 L985.6,604.9 L986.0,604.6 L986.5,604.2 L986.9,603.7 L987.3,603.3 L987.7,602.8 L988.1,602.2 L988.5,601.7 L988.8,601.1 L989.2,600.5 L989.5,599.9 L989.8,599.3 L990.2,598.6 L990.5,598.0 L990.8,597.4 L991.2,596.7 L991.5,596.1 L991.8,595.5 L992.2,594.9 L992.5,594.3 L992.9,593.8 L993.3,593.2 L993.7,592.7 L994.1,592.3 L994.5,591.8 L995.0,591.4 L995.4,591.1 L995.9,590.7 L996.4,590.4 L996.9,590.2 L997.5,590.0 L998.1,589.8 L998.6,589.7 L999.2,589.6 L999.9,589.5 L1000.5,589.5 L1001.2,589.5 L1001.8,589.5 L1002.5,589.6 L1003.2,589.6 L1003.9,589.7 L1004.6,589.8 L1005.3,589.9 L1006.0,590.0" fill="none" stroke="#cf5a7a" stroke-width="1.8"/><path d="M975.0,606.0 L975.3,605.4 L975.7,604.7 L976.0,604.1 L976.3,603.5 L976.7,602.9 L977.0,602.3 L977.4,601.8 L977.8,601.2 L978.2,600.7 L978.6,600.3 L979.0,599.8 L979.5,599.4 L979.9,599.1 L980.4,598.7 L980.9,598.4 L981.4,598.2 L982.0,598.0 L982.6,597.8 L983.1,597.7 L983.7,597.6 L984.4,597.5 L985.0,597.5 L985.7,597.5 L986.3,597.5 L987.0,597.6 L987.7,597.6 L988.4,597.7 L989.1,597.8 L989.8,597.9 L990.5,598.0 L991.2,598.1 L991.9,598.2 L992.6,598.3 L993.3,598.4 L994.0,598.4 L994.7,598.5 L995.3,598.5 L996.0,598.5 L996.6,598.5 L997.3,598.4 L997.9,598.3 L998.4,598.2 L999.0,598.0 L999.6,597.8 L1000.1,597.6 L1000.6,597.3 L1001.1,596.9 L1001.5,596.6 L1002.0,596.2 L1002.4,595.7 L1002.8,595.3 L1003.2,594.8 L1003.6,594.2 L1004.0,593.7 L1004.3,593.1 L1004.7,592.5 L1005.0,591.9 L1005.3,591.3 L1005.7,590.6 L1006.0,590.0" fill="none" stroke="#cf5a7a" stroke-width="1.8"/><line x1="978.2" y1="606.4" x2="976.5" y2="603.1" stroke="#cf5a7a" stroke-width="1" opacity="0.85"/><line x1="981.3" y1="606.5" x2="978.3" y2="600.6" stroke="#cf5a7a" stroke-width="1" opacity="0.85"/><line x1="984.0" y1="605.8" x2="980.3" y2="598.8" stroke="#cf5a7a" stroke-width="1" opacity="0.85"/><line x1="986.3" y1="604.4" x2="982.8" y2="597.8" stroke="#cf5a7a" stroke-width="1" opacity="0.85"/><line x1="988.1" y1="602.2" x2="985.7" y2="597.5" stroke="#cf5a7a" stroke-width="1" opacity="0.85"/><line x1="992.9" y1="593.8" x2="995.3" y2="598.5" stroke="#cf5a7a" stroke-width="1" opacity="0.85"/><line x1="994.7" y1="591.6" x2="998.2" y2="598.2" stroke="#cf5a7a" stroke-width="1" opacity="0.85"/><line x1="997.0" y1="590.2" x2="1000.7" y2="597.2" stroke="#cf5a7a" stroke-width="1" opacity="0.85"/><line x1="999.7" y1="589.5" x2="1002.7" y2="595.4" stroke="#cf5a7a" stroke-width="1" opacity="0.85"/><line x1="1002.8" y1="589.6" x2="1004.5" y2="592.9" stroke="#cf5a7a" stroke-width="1" opacity="0.85"/>
<path d="M1008.5,590.0 L1009.6,588.1 L1010.5,586.2 L1011.4,584.4 L1012.2,582.5 L1012.7,580.6 L1013.0,578.7 L1013.1,576.8 L1012.9,574.9 L1012.5,573.0 L1011.9,571.2 L1011.1,569.3 L1010.2,567.4 L1009.2,565.5 L1008.1,563.6 L1007.1,561.8 L1006.1,559.9 L1005.3,558.0 L1004.6,556.1 L1004.2,554.2 L1003.9,552.3 L1003.9,550.5 L1004.2,548.6 L1004.7,546.7 L1005.4,544.8 L1006.2,542.9 L1007.2,541.0 L1008.2,539.1 L1009.3,537.3 L1010.3,535.4 L1011.2,533.5 L1012.0,531.6 L1012.6,529.7 L1013.0,527.9 L1013.1,526.0 L1013.0,524.1 L1012.7,522.2 L1012.1,520.3 L1011.4,518.4 L1010.5,516.5 L1009.5,514.7 L1008.4,512.8 L1007.4,510.9 L1006.4,509.0 L1005.5,507.1 L1004.8,505.2 L1004.3,503.4 L1004.0,501.5 L1003.9,499.6 L1004.1,497.7 L1004.5,495.8 L1005.1,493.9 L1006.0,492.1 L1006.9,490.2 L1007.9,488.3 L1009.0,486.4 L1010.0,484.5 L1011.0,482.6 L1011.8,480.8 L1012.4,478.9 L1012.9,477.0" fill="none" stroke="#d06a8c" stroke-width="1.5"/><path d="M1008.5,590.0 L1007.4,588.1 L1006.5,586.2 L1005.6,584.4 L1004.8,582.5 L1004.3,580.6 L1004.0,578.7 L1003.9,576.8 L1004.1,574.9 L1004.5,573.0 L1005.1,571.2 L1005.9,569.3 L1006.8,567.4 L1007.8,565.5 L1008.9,563.6 L1009.9,561.8 L1010.9,559.9 L1011.7,558.0 L1012.4,556.1 L1012.8,554.2 L1013.1,552.3 L1013.1,550.5 L1012.8,548.6 L1012.3,546.7 L1011.6,544.8 L1010.8,542.9 L1009.8,541.0 L1008.8,539.1 L1007.7,537.3 L1006.7,535.4 L1005.8,533.5 L1005.0,531.6 L1004.4,529.7 L1004.0,527.9 L1003.9,526.0 L1004.0,524.1 L1004.3,522.2 L1004.9,520.3 L1005.6,518.4 L1006.5,516.5 L1007.5,514.7 L1008.6,512.8 L1009.6,510.9 L1010.6,509.0 L1011.5,507.1 L1012.2,505.2 L1012.7,503.4 L1013.0,501.5 L1013.1,499.6 L1012.9,497.7 L1012.5,495.8 L1011.9,493.9 L1011.0,492.1 L1010.1,490.2 L1009.1,488.3 L1008.0,486.4 L1007.0,484.5 L1006.0,482.6 L1005.2,480.8 L1004.6,478.9 L1004.1,477.0" fill="none" stroke="#d06a8c" stroke-width="1.5"/><line x1="1010.0" y1="587.4" x2="1007.0" y2="587.4" stroke="#d06a8c" stroke-width="1" opacity="0.85"/><line x1="1011.3" y1="584.7" x2="1005.7" y2="584.7" stroke="#d06a8c" stroke-width="1" opacity="0.85"/><line x1="1012.3" y1="582.1" x2="1004.7" y2="582.1" stroke="#d06a8c" stroke-width="1" opacity="0.85"/><line x1="1012.9" y1="579.5" x2="1004.1" y2="579.5" stroke="#d06a8c" stroke-width="1" opacity="0.85"/><line x1="1013.1" y1="576.9" x2="1003.9" y2="576.9" stroke="#d06a8c" stroke-width="1" opacity="0.85"/><line x1="1012.8" y1="574.2" x2="1004.2" y2="574.2" stroke="#d06a8c" stroke-width="1" opacity="0.85"/><line x1="1012.1" y1="571.6" x2="1004.9" y2="571.6" stroke="#d06a8c" stroke-width="1" opacity="0.85"/><line x1="1011.0" y1="569.0" x2="1006.0" y2="569.0" stroke="#d06a8c" stroke-width="1" opacity="0.85"/><line x1="1006.7" y1="561.1" x2="1010.3" y2="561.1" stroke="#d06a8c" stroke-width="1" opacity="0.85"/><line x1="1005.5" y1="558.5" x2="1011.5" y2="558.5" stroke="#d06a8c" stroke-width="1" opacity="0.85"/><line x1="1004.5" y1="555.8" x2="1012.5" y2="555.8" stroke="#d06a8c" stroke-width="1" opacity="0.85"/><line x1="1004.0" y1="553.2" x2="1013.0" y2="553.2" stroke="#d06a8c" stroke-width="1" opacity="0.85"/><line x1="1003.9" y1="550.6" x2="1013.1" y2="550.6" stroke="#d06a8c" stroke-width="1" opacity="0.85"/><line x1="1004.3" y1="548.0" x2="1012.7" y2="548.0" stroke="#d06a8c" stroke-width="1" opacity="0.85"/><line x1="1005.1" y1="545.3" x2="1011.9" y2="545.3" stroke="#d06a8c" stroke-width="1" opacity="0.85"/><line x1="1006.3" y1="542.7" x2="1010.7" y2="542.7" stroke="#d06a8c" stroke-width="1" opacity="0.85"/><line x1="1010.6" y1="534.8" x2="1006.4" y2="534.8" stroke="#d06a8c" stroke-width="1" opacity="0.85"/><line x1="1011.8" y1="532.2" x2="1005.2" y2="532.2" stroke="#d06a8c" stroke-width="1" opacity="0.85"/><line x1="1012.6" y1="529.6" x2="1004.4" y2="529.6" stroke="#d06a8c" stroke-width="1" opacity="0.85"/><line x1="1013.1" y1="526.9" x2="1003.9" y2="526.9" stroke="#d06a8c" stroke-width="1" opacity="0.85"/><line x1="1013.0" y1="524.3" x2="1004.0" y2="524.3" stroke="#d06a8c" stroke-width="1" opacity="0.85"/><line x1="1012.5" y1="521.7" x2="1004.5" y2="521.7" stroke="#d06a8c" stroke-width="1" opacity="0.85"/><line x1="1011.6" y1="519.0" x2="1005.4" y2="519.0" stroke="#d06a8c" stroke-width="1" opacity="0.85"/><line x1="1010.4" y1="516.4" x2="1006.6" y2="516.4" stroke="#d06a8c" stroke-width="1" opacity="0.85"/><line x1="1006.1" y1="508.5" x2="1010.9" y2="508.5" stroke="#d06a8c" stroke-width="1" opacity="0.85"/><line x1="1005.0" y1="505.9" x2="1012.0" y2="505.9" stroke="#d06a8c" stroke-width="1" opacity="0.85"/><line x1="1004.2" y1="503.3" x2="1012.8" y2="503.3" stroke="#d06a8c" stroke-width="1" opacity="0.85"/><line x1="1003.9" y1="500.7" x2="1013.1" y2="500.7" stroke="#d06a8c" stroke-width="1" opacity="0.85"/><line x1="1004.0" y1="498.0" x2="1013.0" y2="498.0" stroke="#d06a8c" stroke-width="1" opacity="0.85"/><line x1="1004.6" y1="495.4" x2="1012.4" y2="495.4" stroke="#d06a8c" stroke-width="1" opacity="0.85"/><line x1="1005.6" y1="492.8" x2="1011.4" y2="492.8" stroke="#d06a8c" stroke-width="1" opacity="0.85"/><line x1="1006.9" y1="490.1" x2="1010.1" y2="490.1" stroke="#d06a8c" stroke-width="1" opacity="0.85"/><line x1="1009.8" y1="484.9" x2="1007.2" y2="484.9" stroke="#d06a8c" stroke-width="1" opacity="0.85"/><line x1="1011.1" y1="482.3" x2="1005.9" y2="482.3" stroke="#d06a8c" stroke-width="1" opacity="0.85"/><line x1="1012.2" y1="479.6" x2="1004.8" y2="479.6" stroke="#d06a8c" stroke-width="1" opacity="0.85"/>
<g transform="translate(507.2,643.6)"><path d="M-43.6,-9.6 L-14.9,-9.6 L0,0 L13.7,0.7 L19,0 M0,0 L-13.6,12.3 L-21.8,24.5 M-13.6,12.3 L-2,19.8" fill="none" stroke="#2c3440" stroke-width="2"/>
<line x1="-38" y1="-9.6" x2="-24" y2="-9.6" stroke="#b04050" stroke-width="2"/>
<circle cx="-43.6" cy="-9.6" r="3.6" fill="#d8b850"/>
<circle cx="-14.9" cy="-9.6" r="2.2" fill="#6a4fe0"/>
<circle cx="0" cy="0" r="2.8" fill="#6a4fe0"/>
<rect x="11" y="-1.8" width="6" height="4.2" rx="1.5" fill="#c8d870"/>
<circle cx="-13.6" cy="12.3" r="2.6" fill="#6a4fe0"/>
<circle cx="-21.8" cy="24.5" r="3.2" fill="#e07030"/>
<circle cx="-2" cy="19.8" r="3.2" fill="#e07030"/></g>
<g transform="translate(888.6,660.2)"><path d="M-43.6,-9.6 L-14.9,-9.6 L0,0 L13.7,0.7 L19,0 M0,0 L-13.6,12.3 L-21.8,24.5 M-13.6,12.3 L-2,19.8" fill="none" stroke="#2c3440" stroke-width="2"/>
<line x1="-38" y1="-9.6" x2="-24" y2="-9.6" stroke="#b04050" stroke-width="2"/>
<circle cx="-43.6" cy="-9.6" r="3.6" fill="#d8b850"/>
<circle cx="-14.9" cy="-9.6" r="2.2" fill="#6a4fe0"/>
<circle cx="0" cy="0" r="2.8" fill="#6a4fe0"/>
<rect x="11" y="-1.8" width="6" height="4.2" rx="1.5" fill="#c8d870"/>
<circle cx="-13.6" cy="12.3" r="2.6" fill="#6a4fe0"/>
<circle cx="-21.8" cy="24.5" r="3.2" fill="#e07030"/>
<circle cx="-2" cy="19.8" r="3.2" fill="#e07030"/></g>
<g transform="translate(485.4,609.5) scale(0.88)"><path d="M-4,-11.5 C-11,-11 -13,-4 -12,2 C-11,8 -6,12 0,12 C7,12 12,7 12,0 C12,-7 8,-12 1,-12" fill="none" stroke="#d4da8c" stroke-width="2.1"/><line x1="10.7" y1="-6.9" x2="23.7" y2="-23.9" stroke="#d4da8c" stroke-width="2.0"/><line x1="5.3" y1="-11.1" x2="18.3" y2="-28.1" stroke="#d4da8c" stroke-width="2.0"/><line x1="12.3" y1="-9.1" x2="6.9" y2="-13.2" stroke="#d4da8c" stroke-width="1.4"/><line x1="15.6" y1="-13.3" x2="10.2" y2="-17.4" stroke="#d4da8c" stroke-width="1.4"/><line x1="18.8" y1="-17.6" x2="13.4" y2="-21.7" stroke="#d4da8c" stroke-width="1.4"/><line x1="22.1" y1="-21.8" x2="16.7" y2="-25.9" stroke="#d4da8c" stroke-width="1.4"/><line x1="5.5" y1="11.0" x2="16.0" y2="24.0" stroke="#d4da8c" stroke-width="2.0"/><line x1="10.5" y1="7.0" x2="21.0" y2="20.0" stroke="#d4da8c" stroke-width="2.0"/><line x1="7.3" y1="13.2" x2="12.2" y2="9.2" stroke="#d4da8c" stroke-width="1.4"/><line x1="10.8" y1="17.5" x2="15.7" y2="13.5" stroke="#d4da8c" stroke-width="1.4"/><line x1="14.3" y1="21.8" x2="19.2" y2="17.8" stroke="#d4da8c" stroke-width="1.4"/><circle cx="23" cy="28.5" r="6.3" fill="none" stroke="#d4da8c" stroke-width="2.1"/><line x1="-11.4" y1="6.3" x2="-22.9" y2="18.8" stroke="#d4da8c" stroke-width="2.0"/><line x1="-6.6" y1="10.7" x2="-18.1" y2="23.2" stroke="#d4da8c" stroke-width="2.0"/><line x1="-13.3" y1="8.4" x2="-8.6" y2="12.7" stroke="#d4da8c" stroke-width="1.4"/><line x1="-17.1" y1="12.6" x2="-12.4" y2="16.9" stroke="#d4da8c" stroke-width="1.4"/><line x1="-20.9" y1="16.8" x2="-16.2" y2="21.1" stroke="#d4da8c" stroke-width="1.4"/><circle cx="-26" cy="26" r="5.8" fill="none" stroke="#d4da8c" stroke-width="2.1"/></g>
<g transform="translate(865.4,629.5) scale(0.88)"><path d="M-4,-11.5 C-11,-11 -13,-4 -12,2 C-11,8 -6,12 0,12 C7,12 12,7 12,0 C12,-7 8,-12 1,-12" fill="none" stroke="#d4da8c" stroke-width="2.1"/><line x1="10.7" y1="-6.9" x2="23.7" y2="-23.9" stroke="#d4da8c" stroke-width="2.0"/><line x1="5.3" y1="-11.1" x2="18.3" y2="-28.1" stroke="#d4da8c" stroke-width="2.0"/><line x1="12.3" y1="-9.1" x2="6.9" y2="-13.2" stroke="#d4da8c" stroke-width="1.4"/><line x1="15.6" y1="-13.3" x2="10.2" y2="-17.4" stroke="#d4da8c" stroke-width="1.4"/><line x1="18.8" y1="-17.6" x2="13.4" y2="-21.7" stroke="#d4da8c" stroke-width="1.4"/><line x1="22.1" y1="-21.8" x2="16.7" y2="-25.9" stroke="#d4da8c" stroke-width="1.4"/><line x1="5.5" y1="11.0" x2="16.0" y2="24.0" stroke="#d4da8c" stroke-width="2.0"/><line x1="10.5" y1="7.0" x2="21.0" y2="20.0" stroke="#d4da8c" stroke-width="2.0"/><line x1="7.3" y1="13.2" x2="12.2" y2="9.2" stroke="#d4da8c" stroke-width="1.4"/><line x1="10.8" y1="17.5" x2="15.7" y2="13.5" stroke="#d4da8c" stroke-width="1.4"/><line x1="14.3" y1="21.8" x2="19.2" y2="17.8" stroke="#d4da8c" stroke-width="1.4"/><circle cx="23" cy="28.5" r="6.3" fill="none" stroke="#d4da8c" stroke-width="2.1"/><line x1="-11.4" y1="6.3" x2="-22.9" y2="18.8" stroke="#d4da8c" stroke-width="2.0"/><line x1="-6.6" y1="10.7" x2="-18.1" y2="23.2" stroke="#d4da8c" stroke-width="2.0"/><line x1="-13.3" y1="8.4" x2="-8.6" y2="12.7" stroke="#d4da8c" stroke-width="1.4"/><line x1="-17.1" y1="12.6" x2="-12.4" y2="16.9" stroke="#d4da8c" stroke-width="1.4"/><line x1="-20.9" y1="16.8" x2="-16.2" y2="21.1" stroke="#d4da8c" stroke-width="1.4"/><circle cx="-26" cy="26" r="5.8" fill="none" stroke="#d4da8c" stroke-width="2.1"/></g>
<circle cx="990.5" cy="465.5" r="18.5" fill="url(#redGlow)"/>
<path d="M987.0,459.5 l5,2 l2.5,5.5 l-3,4.5 l-5,-2 l-1.5,-5.5 Z" fill="#8a9ea6"/>
<path d="M988.5,462.5 l2.5,1 l1,3 l-1.8,2 Z" fill="#e0eaee" opacity="0.85"/>
<circle cx="1018.4" cy="488.2" r="18.5" fill="url(#redGlow)"/>
<path d="M1014.9,482.2 l5,2 l2.5,5.5 l-3,4.5 l-5,-2 l-1.5,-5.5 Z" fill="#8a9ea6"/>
<path d="M1016.4,485.2 l2.5,1 l1,3 l-1.8,2 Z" fill="#e0eaee" opacity="0.85"/>
<circle cx="988.7" cy="505.5" r="18.5" fill="url(#redGlow)"/>
<path d="M985.2,499.5 l5,2 l2.5,5.5 l-3,4.5 l-5,-2 l-1.5,-5.5 Z" fill="#8a9ea6"/>
<path d="M986.7,502.5 l2.5,1 l1,3 l-1.8,2 Z" fill="#e0eaee" opacity="0.85"/>
<circle cx="1019.7" cy="529.1" r="18.5" fill="url(#redGlow)"/>
<path d="M1016.2,523.1 l5,2 l2.5,5.5 l-3,4.5 l-5,-2 l-1.5,-5.5 Z" fill="#8a9ea6"/>
<path d="M1017.7,526.1 l2.5,1 l1,3 l-1.8,2 Z" fill="#e0eaee" opacity="0.85"/>
<circle cx="988.7" cy="548.9" r="18.5" fill="url(#redGlow)"/>
<path d="M985.2,542.9 l5,2 l2.5,5.5 l-3,4.5 l-5,-2 l-1.5,-5.5 Z" fill="#8a9ea6"/>
<path d="M986.7,545.9 l2.5,1 l1,3 l-1.8,2 Z" fill="#e0eaee" opacity="0.85"/>
<path d="M999,482 L999,477 L1021,477 L1021,482" fill="none" stroke="#1a1a1a" stroke-width="2"/>
<path d="M999,566 L999,571 L1021,571 L1021,566" fill="none" stroke="#1a1a1a" stroke-width="2"/>
<path d="M1073.6,445.7 L1096.1,467.5 L1079.7,488.6 L1075,484 L1064.1,507 L1059.5,503.5 L1036.1,536.3 L1046.4,492.7 L1050.4,496.8 L1057.9,469.5 L1065.4,475 Z" fill="#f41414"/>
</svg>
<div class="t" style="left:332px;top:29px;">Glycan</div>
<div class="t" style="left:109px;top:266px;">Dual-locked</div>
<div class="t" style="left:334px;top:315px;">RNA</div>
<div class="t" style="left:574px;top:359px;">Locked</div>
<div class="t" style="left:1111px;top:245px;">OFF</div>
<div class="t" style="left:25px;top:414px;font-size:33px;">IPIA strategy</div>
<div class="t" style="left:321px;top:502px;">Glycan</div>
<div class="t" style="left:328px;top:705px;">RNA</div>
<div class="t" style="left:98px;top:749px;">Dual-locked</div>
<div class="t" style="left:571px;top:756px;">Lock open</div>
<div class="t" style="left:756px;top:577px;">HCR</div>
<div class="t" style="left:1050px;top:414px;color:#ec1018;">NIR FL</div>
<div class="t" style="left:1241px;top:667px;">ON</div>
<div class="t" style="left:1006px;top:443px;font-size:22px;">n</div>
</div>
</body></html>
